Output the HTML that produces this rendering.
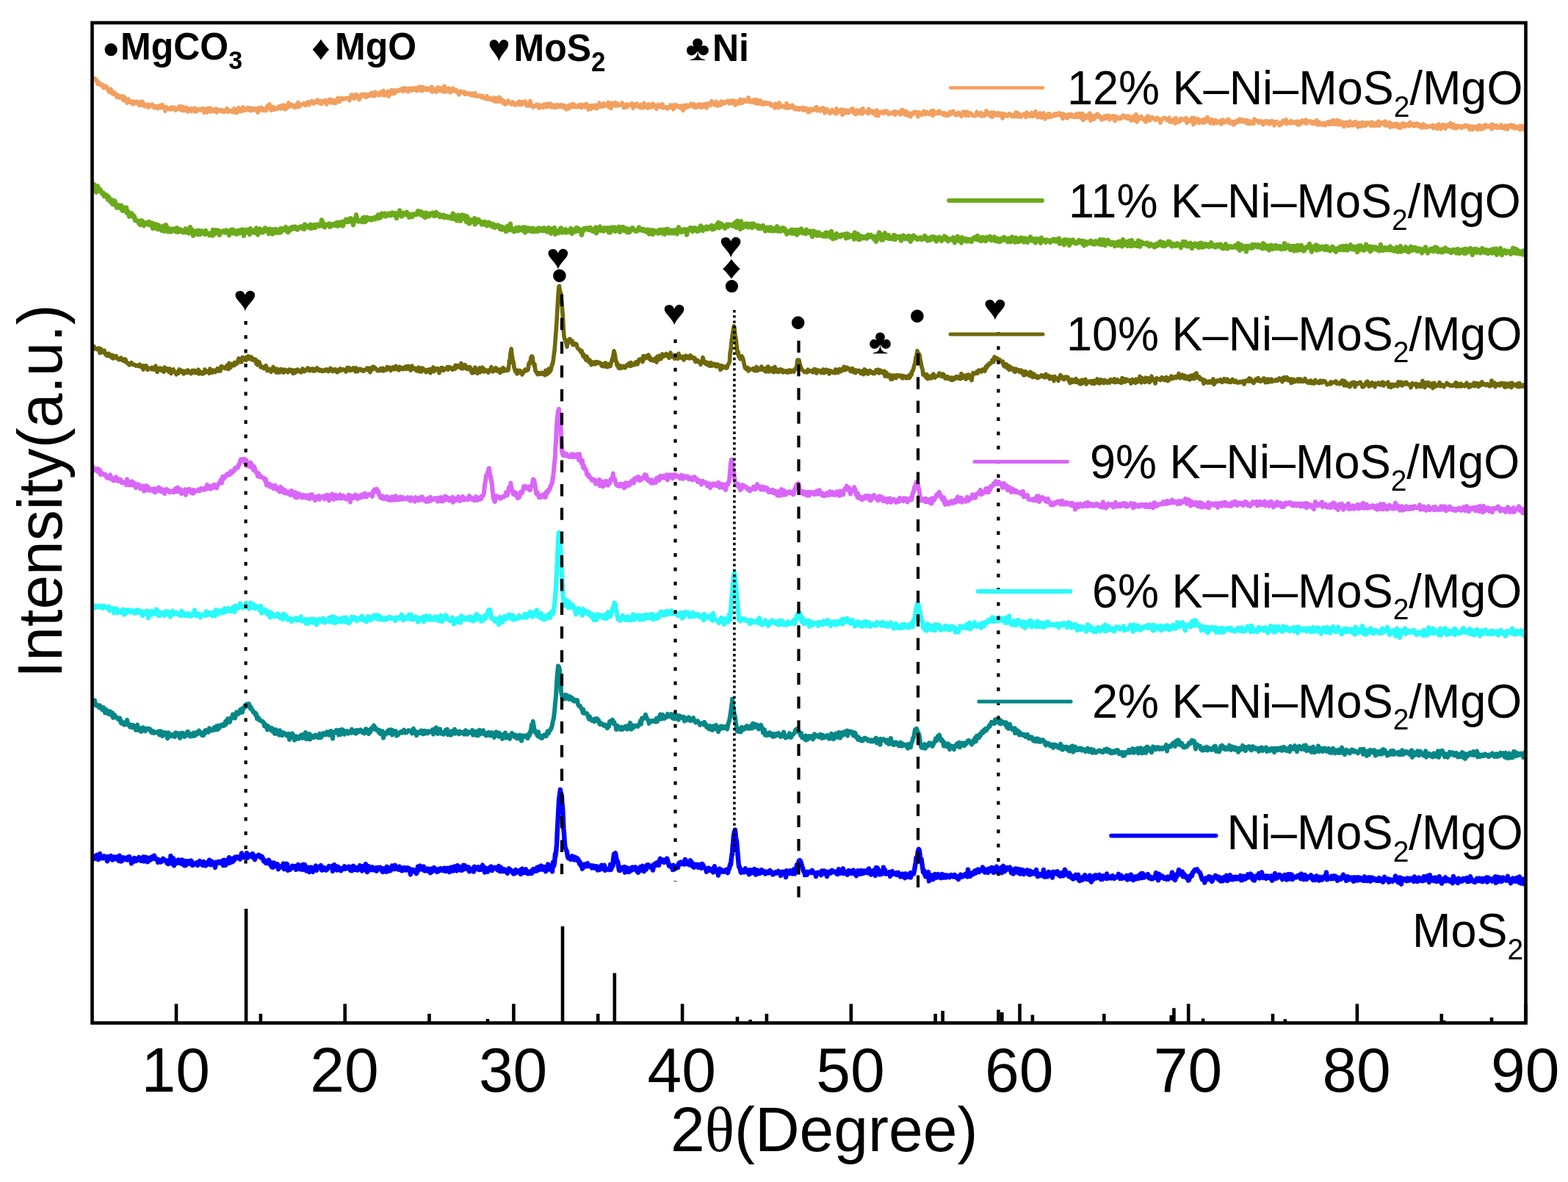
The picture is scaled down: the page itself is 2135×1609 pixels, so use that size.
<!DOCTYPE html><html><head><meta charset="utf-8"><style>html,body{margin:0;padding:0;background:#fff;overflow:hidden}svg{display:block}text{font-family:"Liberation Sans",Arial,sans-serif}</style></head><body>
<svg width="2135" height="1609" viewBox="0 0 2135 1609">
<rect width="2135" height="1609" fill="#fff"/>
<defs><clipPath id="pc"><rect x="127" y="33" width="1949" height="1357"/></clipPath></defs>
<g clip-path="url(#pc)">
<path d="M126.0 106.0 127.0 107.4 128.0 107.1 129.0 106.8 130.0 108.4 131.0 108.2 132.0 111.1 133.0 114.3 134.0 111.6 135.0 112.2 136.0 115.1 137.0 115.7 138.0 116.0 139.0 114.9 140.0 117.5 141.0 119.7 142.0 116.7 143.0 119.2 144.0 117.3 145.0 119.3 146.0 119.1 147.0 122.9 148.0 121.7 149.0 125.4 150.0 125.8 151.0 125.8 151.1 121.4 152.0 125.7 153.0 127.2 154.0 128.0 155.0 125.4 156.0 127.9 157.0 127.4 158.0 128.2 159.0 132.2 160.0 129.1 161.0 131.0 162.0 133.2 163.0 130.8 164.0 132.2 165.0 133.0 165.2 133.0 166.0 130.9 167.0 133.8 168.0 136.7 169.0 131.7 170.0 136.7 171.0 135.7 172.0 134.7 173.0 140.2 174.0 138.2 175.0 134.9 176.0 137.7 177.0 139.0 178.0 137.9 179.0 139.8 179.2 138.5 180.0 140.1 181.0 141.8 182.0 138.1 183.0 140.0 184.0 139.0 185.0 140.3 186.0 138.1 187.0 139.4 188.0 140.4 189.0 142.7 190.0 143.3 191.0 138.9 192.0 140.1 193.0 143.0 194.0 138.2 195.0 141.2 196.0 142.1 197.0 144.9 198.0 144.0 199.0 142.2 200.0 142.3 201.0 142.7 202.0 146.2 203.0 142.7 204.0 143.1 205.0 144.5 206.0 143.8 207.0 143.8 207.3 142.1 208.0 144.3 209.0 143.6 210.0 146.9 211.0 146.1 212.0 144.9 213.0 146.4 214.0 144.7 215.0 147.5 216.0 145.6 217.0 146.9 218.0 143.5 219.0 146.8 220.0 143.1 221.0 142.5 222.0 146.0 223.0 145.0 224.0 147.2 225.0 151.3 226.0 145.5 227.0 146.1 228.0 147.8 229.0 148.4 230.0 147.3 231.0 147.3 232.0 149.1 233.0 148.9 234.0 146.0 235.0 147.9 235.4 148.2 236.0 146.1 237.0 148.7 238.0 146.7 239.0 150.2 240.0 148.8 241.0 148.6 242.0 147.4 243.0 148.4 244.0 144.8 245.0 146.5 246.0 149.4 247.0 144.8 248.0 150.5 249.0 145.6 250.0 150.4 251.0 147.4 252.0 150.5 253.0 149.3 254.0 146.2 255.0 151.5 256.0 151.9 257.0 149.1 258.0 148.8 259.0 149.0 260.0 147.5 261.0 151.5 262.0 148.4 263.0 149.4 263.5 148.0 264.0 148.3 265.0 147.1 266.0 152.0 267.0 149.4 268.0 151.5 269.0 149.8 270.0 148.5 271.0 149.2 272.0 148.8 273.0 150.0 274.0 149.3 275.0 149.5 276.0 147.5 277.0 148.6 278.0 153.3 279.0 148.9 280.0 148.2 281.0 150.9 282.0 153.0 283.0 147.6 284.0 150.0 285.0 149.2 286.0 147.1 287.0 151.9 288.0 150.4 289.0 150.6 290.0 149.1 291.0 151.4 291.6 149.5 292.0 150.2 293.0 148.4 294.0 148.2 295.0 153.0 296.0 149.5 297.0 151.0 298.0 150.4 299.0 149.6 300.0 149.5 301.0 151.6 302.0 149.8 303.0 150.1 304.0 150.4 305.0 152.6 306.0 151.6 307.0 151.1 308.0 149.2 309.0 147.7 310.0 152.1 311.0 152.1 312.0 150.0 313.0 151.3 314.0 151.7 315.0 151.8 316.0 151.9 317.0 149.3 318.0 153.0 319.0 147.7 319.7 151.7 320.0 151.0 321.0 151.7 322.0 153.6 323.0 152.9 324.0 147.9 325.0 146.8 326.0 151.5 327.0 148.1 328.0 149.9 329.0 151.5 330.0 146.8 331.0 145.9 332.0 150.4 333.0 150.0 334.0 149.4 335.0 149.9 336.0 148.2 337.0 146.9 338.0 149.5 339.0 147.9 340.0 146.6 341.0 150.7 342.0 149.6 343.0 150.4 344.0 147.7 345.0 148.3 346.0 147.7 347.0 147.8 347.8 149.9 348.0 148.0 349.0 150.1 350.0 150.1 351.0 153.2 352.0 146.7 353.0 150.9 354.0 149.0 355.0 149.1 356.0 146.3 357.0 148.1 358.0 150.3 359.0 148.6 360.0 148.8 361.0 148.0 362.0 150.7 363.0 148.4 364.0 144.1 365.0 146.9 366.0 144.3 367.0 141.8 368.0 146.9 369.0 150.3 370.0 147.7 371.0 145.3 372.0 145.6 373.0 149.5 374.0 147.5 375.0 147.2 375.9 146.9 376.0 147.1 377.0 148.4 378.0 147.8 379.0 147.1 380.0 144.6 381.0 147.4 382.0 145.0 383.0 148.2 384.0 143.6 385.0 145.7 386.0 145.8 387.0 143.1 388.0 148.8 389.0 148.2 390.0 144.4 391.0 146.6 392.0 145.7 393.0 139.8 394.0 145.1 395.0 144.4 396.0 144.5 397.0 142.2 398.0 143.5 399.0 143.6 400.0 146.0 401.0 144.2 402.0 143.4 403.0 146.2 404.0 142.0 405.0 142.2 406.0 139.3 407.0 145.5 408.0 144.2 409.0 143.9 410.0 143.2 411.0 141.9 412.0 141.9 413.0 140.7 414.0 140.6 415.0 140.9 416.0 143.5 417.0 141.5 418.0 140.2 419.0 139.0 420.0 138.8 421.0 142.9 422.0 140.8 423.0 139.8 424.0 138.9 425.0 137.4 426.0 139.3 427.0 141.0 428.0 138.5 429.0 138.8 430.0 138.7 431.0 139.3 432.0 136.0 433.0 138.5 434.0 137.3 435.0 140.5 436.0 137.3 437.0 139.8 438.0 141.6 439.0 138.0 440.0 137.4 441.0 138.9 442.0 138.4 443.0 136.5 444.0 139.1 445.0 142.0 446.0 137.6 447.0 137.6 448.0 135.9 448.1 138.5 449.0 135.4 450.0 135.6 451.0 140.0 452.0 135.7 453.0 139.3 454.0 140.0 455.0 137.5 456.0 137.9 457.0 140.4 458.0 136.1 459.0 135.2 460.0 133.5 461.0 136.0 462.0 138.6 463.0 137.4 464.0 133.6 465.0 133.5 466.0 134.0 467.0 135.3 468.0 134.2 469.0 134.8 470.0 134.8 471.0 133.5 472.0 133.8 473.0 134.1 474.0 133.4 475.0 134.3 476.0 136.8 476.2 134.3 477.0 133.2 478.0 129.7 479.0 133.5 480.0 128.9 481.0 129.8 482.0 134.0 483.0 133.6 484.0 131.8 485.0 128.7 486.0 131.1 487.0 130.4 488.0 132.7 489.0 135.7 490.0 131.7 491.0 129.6 492.0 128.8 493.0 130.8 494.0 130.4 495.0 128.4 496.0 130.7 497.0 128.2 498.0 132.3 499.0 132.1 500.0 132.0 501.0 128.9 502.0 130.7 503.0 129.3 504.0 128.7 504.3 128.8 505.0 126.8 506.0 126.4 507.0 130.6 508.0 128.6 509.0 129.2 510.0 130.6 511.0 125.3 512.0 126.9 513.0 128.6 514.0 128.9 515.0 127.4 516.0 129.9 517.0 128.2 518.0 125.4 519.0 125.8 520.0 129.0 521.0 128.2 522.0 123.6 523.0 129.7 524.0 128.1 525.0 129.4 526.0 126.0 527.0 126.0 528.0 124.3 529.0 131.2 530.0 125.9 531.0 129.1 532.0 124.7 532.4 126.2 533.0 122.6 534.0 124.9 535.0 127.4 536.0 123.0 537.0 127.2 538.0 125.6 539.0 122.8 540.0 123.6 541.0 123.5 542.0 124.1 543.0 123.0 544.0 122.2 545.0 123.0 546.0 121.5 547.0 120.8 548.0 122.9 549.0 124.5 550.0 119.8 551.0 122.5 552.0 121.1 553.0 120.4 554.0 123.7 555.0 121.0 556.0 124.8 557.0 120.3 558.0 122.5 559.0 121.3 560.0 120.3 560.5 122.8 561.0 121.4 562.0 122.8 563.0 121.6 564.0 119.6 565.0 121.5 566.0 121.8 567.0 123.5 568.0 120.0 569.0 121.6 570.0 118.4 571.0 122.9 572.0 119.6 573.0 118.3 574.0 121.6 575.0 123.8 576.0 118.8 577.0 119.6 578.0 120.3 579.0 119.6 580.0 122.4 581.0 120.2 582.0 120.3 583.0 122.8 584.0 120.3 585.0 122.5 586.0 119.9 587.0 119.4 588.0 118.2 588.6 125.2 589.0 121.1 590.0 122.2 591.0 121.7 592.0 122.0 593.0 121.9 594.0 125.4 595.0 119.9 596.0 118.9 597.0 120.0 598.0 119.5 599.0 123.5 600.0 123.7 601.0 120.4 602.0 119.7 603.0 121.7 604.0 125.1 605.0 117.2 606.0 123.7 607.0 120.7 608.0 124.8 609.0 120.9 610.0 122.5 611.0 120.3 612.0 121.4 613.0 126.0 614.0 125.1 615.0 122.8 616.0 122.1 616.7 120.2 617.0 123.1 618.0 123.9 619.0 123.9 620.0 124.1 621.0 122.3 622.0 124.5 623.0 124.7 624.0 127.5 625.0 128.8 626.0 125.2 627.0 124.2 628.0 125.8 629.0 125.0 630.0 125.0 631.0 126.6 632.0 124.9 633.0 128.3 634.0 127.2 635.0 128.2 636.0 127.6 637.0 126.8 638.0 126.7 639.0 128.3 640.0 127.9 641.0 129.7 642.0 129.5 643.0 127.1 644.0 130.1 644.8 127.5 645.0 129.0 646.0 129.8 647.0 126.6 648.0 130.9 649.0 131.3 650.0 130.9 651.0 130.6 652.0 130.9 653.0 129.9 654.0 131.5 655.0 131.2 656.0 132.6 657.0 130.3 658.0 133.3 659.0 133.3 660.0 132.9 661.0 132.6 662.0 134.7 663.0 130.6 664.0 134.9 665.0 134.7 666.0 134.9 667.0 135.3 668.0 133.5 669.0 134.5 670.0 136.4 671.0 136.2 672.0 135.9 672.9 132.8 673.0 136.7 674.0 138.1 675.0 138.0 676.0 136.7 677.0 133.5 678.0 138.5 679.0 136.6 680.0 132.3 681.0 138.0 682.0 134.6 683.0 135.2 684.0 136.7 685.0 140.5 686.0 137.5 687.0 139.0 688.0 142.0 689.0 141.8 690.0 138.8 691.0 138.7 692.0 137.0 693.0 138.2 694.0 140.5 695.0 140.6 696.0 140.2 697.0 142.1 698.0 138.8 699.0 140.3 700.0 142.0 701.0 141.8 702.0 142.9 703.0 141.7 704.0 140.5 705.0 141.9 706.0 139.4 707.0 138.3 708.0 142.6 709.0 141.5 710.0 142.3 711.0 138.6 712.0 141.2 713.0 140.8 714.0 140.4 715.0 137.9 716.0 141.6 717.0 144.0 718.0 143.1 719.0 141.3 720.0 142.5 721.0 144.0 722.0 137.4 723.0 142.4 724.0 143.8 725.0 144.1 726.0 146.1 727.0 145.1 728.0 143.5 729.0 143.6 730.0 144.6 731.0 142.1 732.0 143.1 733.0 145.0 734.0 147.0 735.0 143.0 736.0 143.3 737.0 143.8 738.0 146.0 739.0 143.5 740.0 146.4 741.0 141.8 742.0 143.3 743.0 143.4 744.0 145.3 745.0 145.8 746.0 141.0 747.0 142.2 748.0 144.6 749.0 142.7 750.0 141.1 751.0 146.0 752.0 145.0 753.0 145.1 754.0 143.3 755.0 146.2 756.0 143.8 757.0 146.4 758.0 142.6 759.0 142.7 760.0 144.8 761.0 143.1 762.0 145.7 763.0 144.9 764.0 142.7 765.0 144.6 766.0 143.8 767.0 146.3 768.0 143.3 769.0 143.7 770.0 146.9 771.0 148.8 772.0 148.4 773.0 144.7 774.0 145.0 775.0 147.5 776.0 144.4 776.2 142.7 777.0 144.8 778.0 145.5 779.0 143.0 780.0 141.5 781.0 141.9 782.0 145.8 783.0 143.1 784.0 144.3 785.0 145.0 786.0 145.7 787.0 143.9 788.0 145.5 789.0 142.8 790.0 143.8 791.0 142.5 792.0 146.6 793.0 144.4 794.0 143.0 795.0 143.8 796.0 144.0 797.0 145.7 798.0 141.3 799.0 142.4 800.0 143.6 801.0 149.1 802.0 146.1 803.0 144.1 804.0 145.6 805.0 148.1 806.0 143.8 807.0 143.5 808.0 146.5 809.0 145.1 810.0 145.4 811.0 143.1 812.0 147.7 813.0 147.3 814.0 145.1 815.0 145.3 816.0 140.1 817.0 145.2 818.0 143.6 819.0 144.7 820.0 145.2 821.0 143.2 822.0 140.6 823.0 144.5 824.0 142.4 825.0 143.1 826.0 142.6 827.0 143.1 828.0 139.3 829.0 146.0 830.0 144.1 831.0 145.7 832.0 147.4 832.4 143.6 833.0 140.2 834.0 141.9 835.0 141.2 836.0 142.6 837.0 143.6 838.0 139.6 839.0 144.1 840.0 140.5 841.0 143.9 842.0 143.1 843.0 142.7 844.0 143.1 845.0 142.2 846.0 142.0 847.0 140.0 848.0 143.1 849.0 146.6 850.0 146.8 851.0 145.6 852.0 144.4 853.0 141.7 854.0 145.7 855.0 142.8 856.0 142.8 857.0 142.4 858.0 143.1 859.0 142.1 860.0 142.7 860.5 140.8 861.0 142.2 862.0 147.2 863.0 142.8 864.0 142.5 865.0 144.0 866.0 144.4 867.0 141.0 868.0 142.8 869.0 145.0 870.0 143.9 871.0 143.7 872.0 146.5 873.0 142.4 874.0 143.9 875.0 142.9 876.0 146.8 877.0 140.4 878.0 142.9 879.0 143.3 880.0 145.6 881.0 145.6 882.0 147.2 883.0 141.7 884.0 146.2 885.0 144.2 886.0 143.6 887.0 146.0 888.0 143.2 888.6 141.1 889.0 144.3 890.0 142.2 891.0 143.9 892.0 145.8 893.0 145.8 894.0 148.2 895.0 144.9 896.0 142.4 897.0 143.9 898.0 143.6 899.0 143.1 900.0 146.2 901.0 144.2 902.0 141.7 903.0 146.8 904.0 145.3 905.0 146.2 906.0 145.8 907.0 146.8 908.0 145.7 909.0 148.0 910.0 146.5 911.0 146.4 912.0 146.5 913.0 142.9 914.0 145.4 915.0 145.2 916.0 146.1 916.7 143.1 917.0 148.8 918.0 145.9 919.0 143.4 920.0 142.4 921.0 145.1 922.0 145.5 923.0 144.3 924.0 145.8 925.0 144.4 926.0 146.7 927.0 144.2 928.0 145.5 929.0 147.4 930.0 150.4 931.0 143.6 932.0 144.6 933.0 143.8 934.0 146.9 935.0 143.2 936.0 144.4 937.0 145.3 938.0 143.4 939.0 143.4 940.0 144.3 941.0 141.2 942.0 142.4 943.0 144.3 944.0 145.3 944.8 144.6 945.0 141.6 946.0 144.1 947.0 146.4 948.0 145.8 949.0 144.5 950.0 142.8 951.0 145.6 952.0 143.1 953.0 141.8 954.0 142.3 955.0 146.4 956.0 143.9 957.0 145.5 958.0 142.1 959.0 144.6 960.0 141.5 961.0 142.1 962.0 146.9 963.0 143.4 964.0 140.8 965.0 141.4 966.0 142.0 967.0 143.5 968.0 140.1 969.0 137.6 970.0 140.2 971.0 140.6 972.0 140.7 972.9 142.9 973.0 141.0 974.0 141.9 975.0 138.1 976.0 141.8 977.0 144.1 978.0 141.5 979.0 140.4 980.0 140.2 981.0 143.2 982.0 138.0 983.0 139.5 984.0 140.5 985.0 141.0 986.0 138.7 987.0 140.1 988.0 139.0 989.0 139.7 990.0 139.1 991.0 137.2 992.0 139.2 993.0 140.9 994.0 137.3 995.0 138.7 996.0 140.3 997.0 137.0 998.0 139.3 999.0 136.8 1000.0 140.9 1001.0 143.1 1002.0 142.4 1003.0 138.1 1004.0 139.8 1005.0 138.4 1006.0 138.3 1007.0 140.8 1008.0 135.2 1009.0 139.6 1010.0 137.3 1011.0 140.0 1012.0 137.5 1013.0 135.8 1014.0 137.5 1015.0 138.3 1016.0 136.9 1017.0 137.7 1018.0 135.8 1019.0 132.8 1020.0 138.6 1021.0 138.3 1022.0 137.3 1023.0 137.3 1024.0 139.3 1025.0 136.6 1026.0 136.2 1027.0 137.4 1028.0 140.2 1029.0 135.5 1030.0 140.6 1031.0 137.3 1032.0 136.6 1033.0 141.3 1034.0 138.9 1035.0 136.8 1036.0 138.8 1037.0 141.5 1038.0 142.2 1039.0 139.3 1040.0 141.1 1041.0 141.8 1042.0 139.4 1043.0 141.5 1043.1 140.7 1044.0 139.9 1045.0 140.2 1046.0 141.4 1047.0 141.4 1048.0 140.5 1049.0 140.9 1050.0 144.0 1051.0 142.4 1052.0 143.8 1053.0 144.6 1054.0 143.6 1055.0 146.9 1056.0 141.2 1057.0 144.4 1058.0 142.5 1059.0 146.7 1060.0 146.6 1061.0 139.8 1062.0 141.8 1063.0 145.1 1064.0 145.5 1065.0 145.5 1066.0 144.1 1067.0 145.3 1068.0 145.8 1069.0 144.5 1070.0 146.8 1071.0 140.7 1071.2 146.2 1072.0 143.1 1073.0 147.1 1074.0 145.0 1075.0 143.9 1076.0 146.4 1077.0 144.1 1078.0 144.3 1079.0 143.2 1080.0 146.2 1081.0 147.4 1082.0 148.5 1083.0 146.4 1084.0 148.9 1085.0 147.0 1086.0 147.0 1087.0 148.4 1088.0 149.4 1089.0 146.9 1090.0 147.2 1091.0 147.5 1092.0 148.1 1093.0 146.4 1094.0 150.2 1095.0 147.6 1096.0 149.3 1097.0 147.0 1098.0 149.3 1099.0 149.5 1099.3 148.0 1100.0 152.7 1101.0 149.7 1102.0 152.5 1103.0 151.0 1104.0 148.0 1105.0 148.7 1106.0 150.3 1107.0 149.7 1108.0 149.8 1109.0 149.2 1110.0 146.4 1111.0 149.5 1112.0 145.8 1113.0 150.8 1114.0 148.8 1115.0 148.9 1116.0 150.0 1117.0 151.0 1118.0 147.8 1119.0 147.3 1120.0 148.7 1121.0 146.9 1122.0 149.0 1123.0 153.9 1124.0 148.9 1125.0 152.2 1126.0 148.4 1127.0 151.7 1127.4 150.5 1128.0 151.0 1129.0 152.2 1130.0 154.5 1131.0 151.6 1132.0 151.5 1133.0 149.5 1134.0 152.5 1135.0 150.9 1136.0 153.0 1137.0 151.4 1138.0 154.8 1139.0 147.7 1140.0 151.0 1141.0 153.2 1142.0 150.9 1143.0 150.1 1144.0 151.1 1145.0 149.0 1146.0 151.9 1147.0 156.3 1148.0 153.9 1149.0 149.6 1150.0 150.1 1151.0 151.0 1152.0 153.7 1153.0 150.3 1154.0 150.6 1155.0 153.6 1156.0 153.5 1157.0 151.2 1158.0 149.8 1159.0 149.0 1160.0 150.7 1161.0 147.8 1162.0 153.4 1163.0 150.8 1164.0 153.0 1165.0 155.6 1166.0 154.3 1167.0 149.9 1168.0 153.8 1169.0 154.4 1170.0 150.8 1171.0 150.4 1172.0 152.0 1173.0 149.2 1174.0 155.1 1175.0 147.7 1176.0 150.2 1177.0 151.8 1178.0 151.9 1179.0 152.7 1180.0 152.9 1181.0 152.0 1182.0 154.6 1183.0 148.4 1183.6 152.5 1184.0 151.2 1185.0 152.8 1186.0 153.0 1187.0 150.9 1188.0 151.4 1189.0 154.2 1190.0 153.4 1191.0 151.4 1192.0 156.6 1193.0 157.2 1194.0 150.0 1195.0 153.4 1196.0 157.7 1197.0 154.4 1198.0 153.4 1199.0 152.6 1200.0 152.0 1201.0 152.7 1202.0 152.0 1203.0 154.5 1204.0 152.4 1205.0 152.4 1206.0 150.9 1207.0 153.2 1208.0 151.6 1209.0 153.0 1210.0 155.4 1211.0 154.1 1212.0 154.4 1213.0 154.2 1214.0 153.6 1215.0 153.3 1216.0 153.0 1217.0 155.1 1218.0 151.6 1219.0 156.2 1220.0 153.8 1221.0 152.3 1222.0 152.8 1223.0 152.5 1224.0 154.1 1225.0 152.5 1226.0 156.1 1227.0 152.4 1228.0 149.6 1229.0 152.6 1230.0 150.2 1231.0 153.9 1232.0 156.1 1233.0 155.3 1234.0 151.6 1235.0 152.7 1236.0 157.5 1237.0 154.8 1238.0 154.2 1239.0 156.2 1239.8 158.9 1240.0 156.7 1241.0 154.5 1242.0 154.9 1243.0 155.4 1244.0 153.1 1245.0 152.3 1246.0 154.4 1247.0 152.5 1248.0 154.2 1249.0 154.5 1250.0 158.8 1251.0 152.7 1252.0 154.1 1253.0 154.1 1254.0 155.2 1255.0 156.4 1256.0 153.5 1257.0 152.9 1258.0 151.3 1259.0 152.7 1260.0 155.5 1261.0 154.5 1262.0 152.5 1263.0 153.8 1264.0 154.5 1265.0 155.4 1266.0 153.4 1267.0 154.0 1268.0 151.1 1269.0 152.3 1270.0 157.6 1271.0 150.4 1272.0 153.9 1273.0 155.0 1274.0 153.9 1275.0 153.0 1276.0 154.5 1277.0 154.6 1278.0 154.4 1279.0 151.0 1280.0 154.3 1281.0 153.0 1282.0 153.6 1283.0 155.1 1284.0 155.9 1285.0 156.4 1286.0 153.7 1287.0 156.4 1288.0 156.9 1289.0 156.9 1290.0 157.4 1291.0 154.4 1292.0 154.4 1293.0 156.3 1294.0 152.2 1295.0 155.2 1296.0 153.8 1297.0 154.1 1298.0 151.5 1299.0 153.1 1300.0 154.8 1301.0 156.5 1302.0 156.7 1303.0 154.7 1304.0 154.5 1305.0 153.3 1306.0 155.7 1307.0 154.4 1308.0 156.1 1309.0 158.3 1310.0 154.9 1311.0 152.1 1312.0 153.3 1313.0 152.2 1314.0 152.7 1315.0 157.5 1316.0 155.4 1317.0 152.1 1318.0 156.3 1319.0 157.4 1320.0 154.4 1321.0 153.8 1322.0 154.5 1323.0 155.6 1324.0 156.3 1325.0 157.4 1326.0 157.4 1327.0 157.4 1328.0 157.8 1329.0 156.4 1330.0 152.3 1331.0 155.0 1332.0 155.8 1333.0 154.5 1334.0 157.0 1335.0 154.6 1336.0 153.5 1337.0 158.0 1338.0 156.6 1339.0 155.7 1340.0 157.1 1341.0 157.4 1342.0 156.0 1343.0 150.7 1344.0 154.1 1345.0 154.5 1346.0 153.5 1347.0 155.8 1348.0 157.7 1349.0 154.5 1350.0 153.3 1351.0 159.3 1352.0 154.6 1353.0 153.2 1354.0 156.0 1355.0 156.3 1356.0 154.2 1357.0 157.1 1358.0 154.7 1359.0 153.8 1360.0 156.0 1361.0 157.1 1362.0 154.4 1363.0 156.3 1364.0 155.5 1365.0 161.1 1366.0 154.4 1367.0 158.4 1368.0 155.6 1369.0 155.5 1370.0 157.1 1371.0 157.5 1372.0 158.2 1373.0 156.4 1374.0 154.7 1375.0 154.8 1376.0 156.8 1377.0 157.0 1378.0 158.6 1379.0 156.7 1380.0 158.0 1381.0 158.8 1382.0 156.3 1383.0 153.2 1384.0 153.8 1385.0 153.3 1386.0 159.1 1387.0 154.5 1388.0 158.4 1389.0 157.2 1390.0 159.4 1391.0 158.1 1392.0 156.0 1393.0 155.8 1393.7 156.4 1394.0 156.5 1395.0 155.2 1396.0 156.2 1397.0 159.3 1398.0 153.1 1399.0 156.8 1400.0 154.6 1401.0 156.7 1402.0 158.0 1403.0 156.3 1404.0 157.9 1405.0 153.4 1406.0 158.6 1407.0 155.3 1408.0 157.7 1409.0 156.9 1410.0 151.7 1411.0 155.2 1412.0 157.0 1413.0 159.6 1414.0 157.2 1415.0 157.2 1416.0 154.0 1417.0 159.5 1418.0 160.2 1419.0 156.9 1420.0 156.4 1421.0 153.8 1422.0 158.6 1423.0 162.1 1424.0 158.3 1425.0 159.4 1426.0 158.0 1427.0 155.2 1428.0 159.6 1429.0 154.8 1430.0 156.7 1431.0 157.7 1432.0 158.9 1433.0 158.0 1434.0 158.0 1435.0 155.8 1436.0 154.9 1437.0 157.5 1438.0 156.0 1439.0 154.9 1440.0 155.0 1441.0 156.5 1442.0 154.0 1443.0 155.0 1444.0 154.5 1445.0 157.9 1446.0 158.4 1447.0 161.5 1448.0 154.9 1449.0 156.4 1450.0 159.5 1451.0 157.4 1452.0 157.2 1453.0 161.1 1454.0 157.3 1455.0 155.7 1456.0 155.5 1457.0 158.6 1458.0 158.6 1459.0 155.5 1460.0 156.2 1461.0 159.1 1462.0 159.3 1463.0 157.0 1464.0 159.4 1465.0 159.3 1466.0 154.9 1467.0 157.7 1468.0 159.2 1469.0 157.3 1470.0 154.4 1471.0 157.9 1472.0 159.9 1473.0 161.5 1474.0 154.4 1475.0 163.6 1476.0 156.5 1477.0 160.5 1478.0 161.0 1479.0 160.6 1480.0 159.0 1481.0 156.6 1482.0 160.0 1483.0 157.5 1484.0 154.1 1485.0 164.3 1486.0 160.3 1487.0 162.4 1487.4 157.3 1488.0 161.8 1489.0 162.1 1490.0 162.0 1491.0 159.1 1492.0 156.9 1493.0 158.8 1494.0 155.0 1495.0 156.0 1496.0 159.5 1497.0 157.4 1498.0 159.0 1499.0 159.2 1500.0 163.1 1501.0 161.9 1502.0 159.4 1503.0 161.8 1504.0 158.1 1505.0 158.9 1506.0 161.3 1507.0 157.3 1508.0 159.1 1509.0 157.2 1510.0 160.0 1511.0 162.9 1512.0 158.4 1513.0 160.3 1514.0 158.2 1515.0 157.7 1516.0 157.6 1517.0 162.7 1518.0 164.5 1519.0 161.0 1520.0 158.7 1521.0 161.5 1522.0 159.5 1523.0 161.7 1524.0 160.8 1525.0 160.8 1526.0 161.4 1527.0 159.2 1528.0 159.6 1529.0 157.1 1530.0 159.6 1531.0 157.8 1532.0 160.2 1533.0 158.7 1534.0 160.8 1535.0 161.5 1536.0 157.9 1537.0 159.1 1538.0 158.9 1539.0 162.2 1540.0 164.0 1541.0 162.4 1542.0 160.2 1543.0 163.7 1544.0 158.0 1545.0 163.8 1546.0 159.7 1547.0 155.7 1548.0 166.1 1549.0 164.1 1550.0 159.2 1551.0 161.5 1552.0 160.8 1553.0 161.4 1554.0 158.4 1555.0 160.0 1556.0 162.2 1557.0 161.8 1558.0 163.7 1559.0 161.6 1560.0 165.9 1561.0 160.1 1562.0 162.0 1563.0 157.9 1564.0 159.2 1565.0 164.2 1566.0 159.9 1567.0 162.7 1568.0 161.6 1569.0 159.8 1570.0 161.2 1571.0 160.9 1572.0 161.0 1573.0 163.4 1574.0 163.2 1575.0 160.9 1576.0 160.3 1577.0 162.6 1578.0 161.9 1579.0 164.1 1580.0 167.2 1581.0 163.8 1582.0 162.2 1583.0 161.9 1584.0 160.7 1585.0 160.6 1586.0 160.5 1587.0 161.7 1588.0 161.6 1589.0 163.9 1590.0 161.8 1591.0 162.2 1592.0 160.3 1593.0 165.8 1594.0 163.6 1595.0 166.1 1596.0 164.3 1597.0 165.6 1598.0 162.3 1599.0 164.2 1600.0 168.0 1601.0 160.6 1602.0 165.2 1603.0 166.2 1604.0 163.9 1605.0 164.5 1606.0 165.6 1607.0 161.9 1608.0 164.0 1609.0 161.6 1610.0 162.0 1611.0 162.1 1612.0 163.1 1613.0 163.7 1614.0 164.3 1615.0 160.7 1616.0 167.4 1617.0 165.8 1618.0 165.0 1619.0 163.0 1620.0 163.5 1621.0 164.8 1622.0 164.6 1623.0 160.5 1624.0 165.3 1625.0 169.6 1626.0 160.3 1627.0 165.9 1628.0 164.7 1629.0 163.8 1630.0 166.8 1631.0 161.8 1632.0 164.5 1633.0 167.1 1634.0 163.9 1635.0 163.5 1636.0 164.5 1637.0 163.5 1638.0 167.4 1639.0 162.7 1640.0 166.2 1641.0 162.1 1642.0 165.9 1643.0 164.4 1644.0 159.6 1645.0 164.6 1646.0 162.6 1647.0 163.9 1648.0 167.8 1649.0 162.6 1650.0 162.8 1651.0 167.7 1652.0 165.1 1653.0 168.0 1654.0 165.6 1655.0 163.3 1656.0 164.9 1657.0 167.5 1658.0 167.0 1659.0 165.2 1660.0 165.3 1661.0 165.0 1662.0 164.1 1663.0 169.1 1664.0 165.3 1665.0 163.1 1666.0 164.4 1667.0 166.8 1668.0 166.7 1669.0 165.2 1670.0 164.2 1671.0 165.6 1672.0 162.3 1673.0 163.0 1674.0 167.2 1675.0 164.7 1676.0 166.4 1677.0 168.1 1678.0 167.0 1679.0 165.8 1680.0 169.9 1681.0 167.1 1682.0 165.1 1683.0 167.3 1684.0 166.7 1685.0 164.2 1686.0 166.1 1687.0 165.6 1688.0 162.1 1689.0 165.6 1690.0 165.4 1691.0 165.2 1692.0 162.8 1693.0 165.4 1694.0 166.0 1695.0 166.3 1696.0 163.9 1697.0 167.4 1698.0 163.8 1699.0 165.7 1700.0 168.7 1701.0 164.8 1702.0 165.2 1703.0 168.3 1704.0 165.5 1705.0 165.7 1706.0 166.7 1707.0 168.3 1708.0 162.0 1709.0 164.7 1710.0 164.4 1711.0 164.2 1712.0 164.7 1713.0 164.8 1714.0 167.0 1715.0 164.7 1716.0 166.7 1717.0 167.2 1718.0 165.0 1719.0 166.7 1720.0 169.7 1721.0 167.1 1722.0 165.3 1723.0 166.4 1724.0 164.8 1725.0 167.1 1726.0 168.2 1727.0 165.0 1728.0 166.2 1729.0 168.8 1730.0 165.6 1731.0 167.0 1732.0 164.7 1733.0 165.1 1734.0 165.7 1735.0 170.8 1736.0 165.9 1737.0 165.7 1738.0 165.6 1739.0 166.4 1740.0 168.0 1741.0 167.1 1742.0 170.7 1743.0 167.2 1744.0 169.5 1745.0 167.3 1746.0 168.0 1747.0 164.1 1748.0 166.6 1749.0 166.7 1750.0 166.4 1751.0 162.8 1752.0 168.6 1753.0 166.2 1754.0 166.1 1755.0 166.4 1756.0 166.5 1757.0 167.7 1758.0 164.6 1759.0 165.2 1760.0 167.5 1761.0 167.3 1762.0 166.3 1763.0 165.9 1764.0 165.5 1765.0 167.0 1766.0 169.3 1767.0 165.1 1768.0 170.0 1769.0 168.7 1770.0 166.3 1771.0 168.6 1772.0 164.4 1773.0 163.9 1773.7 164.7 1774.0 166.4 1775.0 166.6 1776.0 166.3 1777.0 167.4 1778.0 163.2 1779.0 168.2 1780.0 164.6 1781.0 166.1 1782.0 166.6 1783.0 165.2 1784.0 164.8 1785.0 165.5 1786.0 167.4 1787.0 168.5 1788.0 168.5 1789.0 165.6 1790.0 166.0 1791.0 165.7 1792.0 168.4 1793.0 163.7 1794.0 169.9 1795.0 166.6 1796.0 166.1 1797.0 168.2 1798.0 169.6 1799.0 168.3 1800.0 169.7 1801.0 167.9 1802.0 170.0 1803.0 170.1 1804.0 167.5 1805.0 170.5 1806.0 168.1 1807.0 167.9 1808.0 166.0 1809.0 167.3 1810.0 169.3 1811.0 165.4 1812.0 169.1 1813.0 168.5 1814.0 168.4 1815.0 163.7 1816.0 167.7 1817.0 169.2 1818.0 166.5 1819.0 168.2 1820.0 163.5 1821.0 169.3 1822.0 166.8 1823.0 169.7 1824.0 164.6 1825.0 169.4 1826.0 167.7 1827.0 169.7 1828.0 166.4 1829.0 167.0 1830.0 172.5 1831.0 166.7 1832.0 166.9 1833.0 167.7 1834.0 166.4 1835.0 170.6 1836.0 171.6 1837.0 167.0 1838.0 165.1 1839.0 170.6 1840.0 170.5 1841.0 170.0 1842.0 170.7 1843.0 166.8 1844.0 168.2 1845.0 165.9 1846.0 165.8 1847.0 170.4 1848.0 167.3 1849.0 172.9 1850.0 168.8 1851.0 167.4 1852.0 170.2 1853.0 172.1 1854.0 169.6 1855.0 166.4 1856.0 169.5 1857.0 171.4 1858.0 167.9 1859.0 167.3 1860.0 170.8 1861.0 169.1 1862.0 166.8 1863.0 168.2 1864.0 167.5 1865.0 169.5 1866.0 169.2 1867.0 171.2 1867.4 170.3 1868.0 166.0 1869.0 169.8 1870.0 170.8 1871.0 169.9 1872.0 171.1 1873.0 168.1 1874.0 167.3 1875.0 170.9 1876.0 167.2 1877.0 165.1 1878.0 171.2 1879.0 167.9 1880.0 168.7 1881.0 166.7 1882.0 166.8 1883.0 167.2 1884.0 168.7 1885.0 170.1 1886.0 165.1 1887.0 170.9 1888.0 167.3 1889.0 167.5 1890.0 170.9 1891.0 169.5 1892.0 166.7 1893.0 173.2 1894.0 168.1 1895.0 170.2 1896.0 170.1 1897.0 172.5 1898.0 168.9 1899.0 171.7 1900.0 168.5 1901.0 172.0 1902.0 168.5 1903.0 169.3 1904.0 173.6 1905.0 170.6 1906.0 170.2 1907.0 174.3 1908.0 170.8 1909.0 168.6 1910.0 171.6 1911.0 167.9 1912.0 172.4 1913.0 172.5 1914.0 169.2 1915.0 169.1 1916.0 170.7 1917.0 170.4 1918.0 168.5 1919.0 171.5 1920.0 166.6 1921.0 169.7 1922.0 169.7 1923.0 170.0 1924.0 171.2 1925.0 168.3 1926.0 171.7 1927.0 170.3 1928.0 169.4 1929.0 168.1 1930.0 168.5 1931.0 171.5 1932.0 169.0 1933.0 170.9 1934.0 172.9 1935.0 172.8 1936.0 173.9 1937.0 170.4 1938.0 168.9 1939.0 172.9 1940.0 171.6 1941.0 173.2 1942.0 171.1 1943.0 173.4 1944.0 172.7 1945.0 172.5 1946.0 172.1 1947.0 171.9 1948.0 171.7 1949.0 171.7 1950.0 173.1 1951.0 170.3 1952.0 174.6 1953.0 171.1 1954.0 173.2 1955.0 171.2 1956.0 170.9 1957.0 175.3 1958.0 170.9 1959.0 169.0 1960.0 170.1 1961.0 170.9 1962.0 175.6 1963.0 171.9 1964.0 173.3 1965.0 169.7 1966.0 172.3 1967.0 172.9 1968.0 175.1 1969.0 170.3 1970.0 172.8 1971.0 172.3 1972.0 169.8 1973.0 171.7 1974.0 171.3 1975.0 167.4 1976.0 172.9 1977.0 172.8 1978.0 171.0 1979.0 169.3 1980.0 174.7 1981.0 172.4 1982.0 173.8 1983.0 174.6 1984.0 171.0 1985.0 173.5 1986.0 171.5 1987.0 171.9 1988.0 171.9 1989.0 172.0 1990.0 174.2 1991.0 172.3 1992.0 171.8 1993.0 171.6 1994.0 172.8 1995.0 170.4 1996.0 171.2 1997.0 172.1 1998.0 171.1 1999.0 172.0 2000.0 171.1 2001.0 176.1 2002.0 174.8 2003.0 173.1 2004.0 172.2 2005.0 176.5 2006.0 173.0 2007.0 172.2 2008.0 172.9 2009.0 173.0 2010.0 175.1 2011.0 172.4 2012.0 176.4 2013.0 170.8 2014.0 173.8 2015.0 170.6 2016.0 176.0 2017.0 171.9 2018.0 172.4 2019.0 174.3 2020.0 175.0 2021.0 170.5 2022.0 171.9 2023.0 170.0 2024.0 172.9 2025.0 172.5 2026.0 172.0 2027.0 171.4 2028.0 172.0 2029.0 171.3 2030.0 173.7 2031.0 175.6 2032.0 169.1 2033.0 172.5 2034.0 172.0 2035.0 173.7 2036.0 171.0 2037.0 172.5 2038.0 170.9 2039.0 174.2 2040.0 173.1 2041.0 172.6 2042.0 173.6 2043.0 172.4 2044.0 170.0 2045.0 174.1 2046.0 173.5 2047.0 172.7 2048.0 174.8 2049.0 175.3 2050.0 170.9 2051.0 171.5 2052.0 176.0 2053.0 175.7 2054.0 171.6 2055.0 170.8 2056.0 171.9 2057.0 172.1 2058.0 170.1 2059.0 173.2 2060.0 170.7 2061.0 170.8 2062.0 174.9 2063.0 171.9 2064.0 173.0 2065.0 174.4 2066.0 174.7 2067.0 172.6 2068.0 173.3 2069.0 171.7 2070.0 176.6 2071.0 174.5 2072.0 171.2 2073.0 173.3 2074.0 174.6 2075.0 174.2 2076.0 176.8 2077.0 175.9" fill="none" stroke="#F2A060" stroke-width="5.6" stroke-linejoin="round" stroke-linecap="round"/>
<path d="M126.0 250.9 127.0 252.6 128.0 250.9 129.0 254.9 130.0 255.6 131.0 261.7 132.0 257.1 133.0 253.3 134.0 257.1 135.0 259.6 136.0 257.6 137.0 259.3 138.0 261.2 139.0 263.6 140.0 263.4 141.0 262.8 142.0 267.3 143.0 265.5 144.0 266.5 145.0 265.6 146.0 267.7 147.0 271.7 148.0 267.8 149.0 271.9 150.0 274.4 151.0 272.8 151.1 274.2 152.0 272.0 153.0 277.8 154.0 278.1 155.0 276.9 156.0 273.4 157.0 275.5 158.0 280.4 159.0 282.6 160.0 280.2 161.0 282.8 162.0 279.5 163.0 281.1 164.0 282.1 165.0 283.7 165.2 279.7 166.0 285.4 167.0 286.9 168.0 282.4 169.0 282.6 170.0 286.9 171.0 285.5 172.0 282.6 173.0 290.0 174.0 289.3 175.0 288.7 176.0 294.8 177.0 291.4 178.0 290.3 179.0 292.8 179.2 290.5 180.0 291.7 181.0 294.9 182.0 293.7 183.0 294.8 184.0 300.1 185.0 299.3 186.0 300.0 187.0 300.3 188.0 301.0 189.0 303.8 190.0 301.4 191.0 306.0 192.0 300.6 193.0 302.5 193.3 300.3 194.0 302.7 195.0 304.9 196.0 307.2 197.0 303.0 198.0 304.7 199.0 304.2 200.0 303.6 201.0 302.9 202.0 305.7 203.0 302.1 204.0 306.2 205.0 306.2 206.0 305.0 207.0 304.5 207.3 303.8 208.0 310.8 209.0 304.3 210.0 310.6 211.0 308.8 212.0 307.0 213.0 305.6 214.0 310.4 215.0 312.1 216.0 306.7 217.0 308.3 218.0 311.3 219.0 310.0 220.0 313.8 221.0 308.6 222.0 311.1 223.0 307.6 224.0 314.8 225.0 309.1 226.0 306.2 227.0 310.7 228.0 310.9 229.0 315.4 230.0 310.8 231.0 311.7 232.0 313.1 233.0 315.4 234.0 312.1 235.0 314.5 235.4 313.5 236.0 311.9 237.0 312.8 238.0 312.8 239.0 311.0 240.0 315.6 241.0 310.3 242.0 315.8 243.0 315.4 244.0 313.4 245.0 312.1 246.0 313.3 247.0 314.9 248.0 315.6 249.0 314.8 250.0 316.3 251.0 313.2 252.0 315.0 253.0 311.3 254.0 316.3 255.0 315.1 256.0 314.0 257.0 317.4 258.0 316.5 259.0 309.2 260.0 315.3 261.0 312.3 262.0 317.6 263.0 320.7 263.5 314.4 264.0 315.7 265.0 315.1 266.0 316.4 267.0 317.1 268.0 318.5 269.0 313.8 270.0 319.3 271.0 314.1 272.0 316.7 273.0 318.6 274.0 317.8 275.0 314.4 276.0 314.9 277.0 315.5 278.0 316.4 279.0 319.0 280.0 313.9 281.0 317.7 282.0 318.0 283.0 318.0 284.0 317.8 285.0 320.1 286.0 317.9 287.0 318.7 288.0 318.1 289.0 320.7 290.0 313.0 291.0 319.7 291.6 316.5 292.0 316.4 293.0 315.0 294.0 313.1 295.0 316.2 296.0 315.5 297.0 318.0 298.0 313.8 299.0 319.9 300.0 317.4 301.0 316.3 302.0 315.3 303.0 315.1 304.0 314.3 305.0 315.5 306.0 316.6 307.0 316.1 308.0 313.5 309.0 315.9 310.0 314.5 311.0 316.6 312.0 320.2 313.0 317.5 314.0 315.5 315.0 312.7 316.0 313.1 317.0 312.5 318.0 317.5 319.0 314.3 319.7 316.0 320.0 314.6 321.0 316.0 322.0 318.8 323.0 314.3 324.0 315.0 325.0 314.0 326.0 317.5 327.0 313.5 328.0 313.2 329.0 312.6 330.0 312.5 331.0 316.4 332.0 320.8 333.0 313.3 334.0 317.3 335.0 315.8 336.0 312.9 337.0 314.6 338.0 314.7 339.0 313.7 340.0 319.2 341.0 311.1 342.0 315.8 343.0 315.7 344.0 313.7 345.0 315.2 346.0 316.7 347.0 315.2 347.8 315.7 348.0 316.2 349.0 310.5 350.0 317.8 351.0 319.5 352.0 316.7 353.0 316.8 354.0 311.6 355.0 314.3 356.0 312.8 357.0 313.3 358.0 316.5 359.0 312.8 360.0 314.1 361.0 310.4 362.0 314.0 363.0 314.5 364.0 312.8 365.0 312.7 366.0 318.2 367.0 311.7 368.0 311.9 369.0 312.4 370.0 316.6 371.0 318.4 372.0 314.7 373.0 312.4 374.0 313.0 375.0 316.1 375.9 311.9 376.0 316.8 377.0 316.7 378.0 313.8 379.0 314.9 380.0 315.1 381.0 316.7 382.0 311.1 383.0 315.7 384.0 312.3 385.0 311.4 386.0 313.1 387.0 312.3 388.0 310.6 389.0 309.2 390.0 310.4 391.0 315.3 392.0 316.2 393.0 313.3 394.0 314.3 395.0 310.6 396.0 311.4 397.0 312.0 398.0 309.0 399.0 309.1 400.0 311.2 401.0 310.2 402.0 308.5 403.0 311.4 404.0 309.9 405.0 312.5 406.0 310.2 407.0 309.5 408.0 310.2 409.0 309.5 410.0 308.3 411.0 308.7 412.0 311.0 413.0 310.6 414.0 311.8 415.0 305.4 416.0 308.0 417.0 307.9 418.0 309.0 419.0 307.6 420.0 307.3 421.0 309.9 422.0 308.6 423.0 305.7 424.0 310.8 425.0 310.1 426.0 306.7 427.0 309.6 428.0 306.2 429.0 310.1 430.0 307.2 431.0 305.9 432.0 306.7 433.0 305.9 434.0 307.8 435.0 307.7 436.0 307.4 437.0 306.1 438.0 299.5 439.0 307.3 440.0 303.1 441.0 307.5 442.0 309.3 443.0 307.4 444.0 306.0 445.0 306.3 446.0 306.3 447.0 305.4 448.0 305.2 448.1 304.5 449.0 308.8 450.0 306.1 451.0 308.0 452.0 305.3 453.0 305.8 454.0 305.1 455.0 306.3 456.0 306.8 457.0 305.4 458.0 303.2 459.0 302.8 460.0 307.7 461.0 303.3 462.0 303.1 463.0 306.5 464.0 305.5 465.0 304.1 466.0 301.9 467.0 307.4 468.0 303.1 469.0 303.2 470.0 301.4 471.0 298.6 472.0 298.6 473.0 302.1 474.0 301.9 475.0 300.4 476.0 298.3 476.2 297.7 477.0 299.9 478.0 297.4 479.0 302.2 480.0 302.7 481.0 306.1 482.0 301.9 483.0 298.7 484.0 298.0 485.0 292.5 486.0 298.4 487.0 299.2 488.0 301.5 489.0 300.7 490.0 300.6 491.0 299.7 492.0 300.5 493.0 302.1 494.0 296.8 495.0 297.9 496.0 295.9 497.0 302.1 498.0 301.3 499.0 300.1 500.0 295.9 501.0 298.7 502.0 297.7 503.0 298.2 504.0 297.5 504.3 299.0 505.0 297.0 506.0 299.4 507.0 298.0 508.0 296.6 509.0 296.8 510.0 295.9 511.0 298.3 512.0 295.7 513.0 296.7 514.0 294.9 515.0 292.4 516.0 297.1 517.0 292.7 518.0 296.1 519.0 295.3 520.0 290.6 521.0 291.9 522.0 292.5 523.0 291.6 524.0 290.7 525.0 294.5 526.0 292.2 527.0 293.4 528.0 291.5 529.0 292.9 530.0 290.6 531.0 292.0 532.0 293.2 532.4 292.1 533.0 291.0 534.0 289.7 535.0 292.3 536.0 292.6 537.0 291.3 538.0 290.2 539.0 293.0 540.0 297.0 541.0 291.2 542.0 292.5 543.0 292.6 544.0 286.4 545.0 292.0 546.0 290.2 547.0 294.6 548.0 291.2 549.0 290.0 550.0 291.2 551.0 292.0 552.0 290.5 553.0 291.5 554.0 288.8 555.0 291.1 556.0 293.2 557.0 295.7 558.0 293.1 559.0 292.2 560.0 294.1 560.5 293.7 561.0 295.1 562.0 293.9 563.0 291.4 564.0 292.2 565.0 292.0 566.0 292.3 567.0 292.1 568.0 290.1 569.0 287.3 570.0 290.3 571.0 287.5 572.0 292.0 573.0 291.9 574.0 288.4 575.0 293.4 576.0 293.8 577.0 292.2 578.0 295.6 579.0 296.0 580.0 289.6 581.0 294.4 582.0 293.2 583.0 293.2 584.0 294.3 585.0 290.9 586.0 291.2 587.0 290.8 588.0 291.0 588.6 292.4 589.0 289.6 590.0 290.5 591.0 293.9 592.0 292.6 593.0 293.7 594.0 289.0 595.0 291.3 596.0 291.9 597.0 293.2 598.0 292.0 599.0 295.2 600.0 293.2 601.0 293.5 602.0 293.6 603.0 295.1 604.0 292.7 605.0 296.2 606.0 294.9 607.0 294.3 608.0 294.2 609.0 295.3 610.0 296.5 611.0 296.4 612.0 295.3 613.0 296.5 614.0 295.0 615.0 297.5 616.0 295.0 616.7 290.7 617.0 297.9 618.0 295.5 619.0 292.9 620.0 295.1 621.0 293.9 622.0 300.3 623.0 297.1 624.0 292.9 625.0 297.6 626.0 295.8 627.0 300.8 628.0 294.8 629.0 292.5 630.0 297.6 631.0 296.9 632.0 297.0 633.0 293.6 634.0 299.2 635.0 302.0 636.0 294.7 637.0 301.4 638.0 298.0 639.0 304.4 640.0 300.6 641.0 299.5 642.0 302.4 643.0 301.4 644.0 299.3 644.8 302.2 645.0 299.7 646.0 297.2 647.0 305.4 648.0 300.7 649.0 300.4 650.0 302.6 651.0 298.8 652.0 299.5 653.0 301.5 654.0 301.7 655.0 303.2 656.0 305.6 657.0 302.5 658.0 304.8 659.0 305.3 660.0 302.0 661.0 305.0 662.0 302.8 663.0 307.2 664.0 306.2 665.0 305.5 666.0 302.8 667.0 306.1 668.0 304.5 669.0 307.8 670.0 306.3 671.0 305.0 672.0 308.9 672.9 308.6 673.0 305.9 674.0 309.8 675.0 306.9 676.0 307.0 677.0 308.1 678.0 306.5 679.0 307.3 680.0 308.1 681.0 311.9 682.0 312.0 683.0 308.5 684.0 312.6 685.0 309.3 686.0 310.4 687.0 311.6 688.0 310.5 689.0 315.2 690.0 310.8 691.0 307.9 692.0 313.3 693.0 309.9 694.0 310.2 695.0 304.7 696.0 313.2 697.0 313.0 698.0 313.1 699.0 313.6 700.0 315.2 701.0 311.6 702.0 313.8 703.0 310.3 704.0 311.2 705.0 314.3 706.0 313.0 707.0 309.5 708.0 313.1 709.0 312.0 710.0 310.8 711.0 313.5 712.0 311.8 713.0 309.4 714.0 310.4 715.0 316.5 716.0 309.7 717.0 313.4 718.0 314.2 719.0 314.3 720.0 310.4 721.0 312.3 722.0 313.3 723.0 314.7 724.0 311.7 725.0 310.6 726.0 315.2 727.0 315.4 728.0 313.9 729.0 311.8 730.0 314.0 731.0 313.4 732.0 314.9 733.0 310.5 734.0 313.4 735.0 312.9 736.0 310.9 737.0 313.7 738.0 313.3 739.0 312.4 740.0 314.1 741.0 310.3 742.0 313.1 743.0 314.2 744.0 313.9 745.0 315.5 746.0 310.8 747.0 310.1 748.0 313.8 749.0 314.3 750.0 317.8 751.0 314.6 752.0 311.5 753.0 315.0 754.0 311.6 755.0 310.2 756.0 318.8 757.0 314.0 758.0 314.9 759.0 314.5 760.0 317.2 761.0 314.0 762.0 315.9 763.0 311.2 764.0 310.5 765.0 316.4 766.0 316.5 767.0 314.5 768.0 313.9 769.0 313.7 770.0 312.0 771.0 316.6 772.0 314.8 773.0 314.5 774.0 314.2 775.0 315.6 776.0 314.5 776.2 315.0 777.0 310.9 778.0 314.5 779.0 318.0 780.0 312.3 781.0 313.1 782.0 315.2 783.0 315.4 784.0 314.7 785.0 309.9 786.0 314.4 787.0 310.8 788.0 311.5 789.0 314.4 790.0 312.6 791.0 314.9 792.0 319.8 793.0 314.8 794.0 314.7 795.0 311.2 796.0 311.7 797.0 310.8 798.0 311.9 799.0 310.7 800.0 311.6 801.0 312.5 802.0 310.8 803.0 309.9 804.0 310.0 805.0 313.8 806.0 312.9 807.0 314.9 808.0 314.9 809.0 312.0 810.0 314.1 811.0 309.6 812.0 317.4 813.0 315.1 814.0 312.1 815.0 310.1 816.0 313.3 817.0 308.6 818.0 310.8 819.0 314.0 820.0 312.6 821.0 311.4 822.0 314.4 823.0 310.2 824.0 313.0 825.0 311.3 826.0 310.6 827.0 313.3 828.0 310.2 829.0 316.3 830.0 311.1 831.0 316.5 832.0 310.0 832.4 313.6 833.0 309.8 834.0 309.5 835.0 312.6 836.0 313.7 837.0 309.7 838.0 314.8 839.0 310.7 840.0 312.7 841.0 313.2 842.0 313.7 843.0 308.7 844.0 315.9 845.0 313.8 846.0 311.7 847.0 310.5 848.0 309.2 849.0 309.9 850.0 314.0 851.0 312.2 852.0 310.6 853.0 311.9 854.0 316.3 855.0 312.4 856.0 311.9 857.0 316.1 858.0 314.3 859.0 313.4 860.0 312.1 861.0 310.2 862.0 311.1 863.0 312.6 864.0 313.2 865.0 314.5 866.0 314.9 867.0 314.3 868.0 314.4 869.0 311.9 870.0 309.5 871.0 313.0 872.0 312.1 873.0 312.8 874.0 313.7 875.0 311.7 876.0 312.0 877.0 314.2 878.0 314.7 879.0 313.1 880.0 315.6 881.0 314.1 882.0 312.5 883.0 314.7 884.0 318.6 885.0 313.3 886.0 317.2 887.0 317.7 888.0 317.9 888.6 313.1 889.0 319.0 890.0 315.1 891.0 314.3 892.0 314.4 893.0 316.1 894.0 315.0 895.0 314.5 896.0 317.6 897.0 313.4 898.0 312.8 899.0 316.6 900.0 316.5 901.0 317.3 902.0 312.7 903.0 317.3 904.0 316.0 905.0 318.7 906.0 312.4 907.0 315.5 908.0 314.5 909.0 311.7 910.0 313.6 911.0 317.4 912.0 314.1 913.0 313.6 914.0 316.9 915.0 317.2 916.0 317.2 916.7 313.4 917.0 315.0 918.0 317.3 919.0 313.7 920.0 313.5 921.0 316.8 922.0 318.3 923.0 312.5 924.0 309.4 925.0 311.8 926.0 312.6 927.0 314.4 928.0 315.9 929.0 314.2 930.0 313.0 931.0 314.7 932.0 312.3 933.0 314.1 934.0 312.8 935.0 319.6 936.0 315.6 937.0 312.1 938.0 311.6 939.0 312.7 940.0 310.0 941.0 311.9 942.0 311.7 943.0 315.0 944.0 312.2 944.8 311.3 945.0 310.2 946.0 310.4 947.0 312.6 948.0 312.2 949.0 314.8 950.0 311.0 951.0 314.4 952.0 312.5 953.0 311.8 954.0 307.4 955.0 308.7 956.0 312.8 957.0 314.0 958.0 311.3 959.0 312.3 960.0 309.6 961.0 309.5 962.0 308.7 963.0 311.9 964.0 310.4 965.0 309.0 966.0 308.7 967.0 310.4 968.0 309.7 969.0 307.1 970.0 312.3 971.0 309.2 972.0 308.5 972.9 311.5 973.0 310.5 974.0 308.1 975.0 309.3 976.0 305.8 977.0 306.6 978.0 303.1 979.0 310.3 980.0 303.7 981.0 309.0 982.0 305.7 983.0 305.3 984.0 306.9 985.0 307.8 986.0 308.4 987.0 310.8 988.0 307.7 989.0 308.7 990.0 305.6 991.0 308.3 992.0 307.0 993.0 305.7 994.0 306.4 995.0 306.4 996.0 306.9 997.0 307.3 998.0 305.4 999.0 304.9 1000.0 308.0 1001.0 302.8 1002.0 305.1 1003.0 309.7 1004.0 300.7 1005.0 305.0 1006.0 307.9 1007.0 303.0 1008.0 312.0 1009.0 301.2 1010.0 309.7 1011.0 310.0 1012.0 308.7 1013.0 306.3 1014.0 307.6 1015.0 305.0 1016.0 308.6 1017.0 304.6 1018.0 306.5 1019.0 309.2 1020.0 304.9 1021.0 306.5 1022.0 307.7 1023.0 304.7 1024.0 310.0 1025.0 308.4 1026.0 304.6 1027.0 307.8 1028.0 306.4 1029.0 306.8 1030.0 308.5 1031.0 307.0 1032.0 310.6 1033.0 307.3 1034.0 311.0 1035.0 309.0 1036.0 311.0 1037.0 308.2 1038.0 308.4 1039.0 307.2 1040.0 311.0 1041.0 311.9 1042.0 314.5 1043.0 312.9 1043.1 310.7 1044.0 309.9 1045.0 311.3 1046.0 310.5 1047.0 313.8 1048.0 312.9 1049.0 309.3 1050.0 309.8 1051.0 314.2 1052.0 312.2 1053.0 311.2 1054.0 314.3 1055.0 311.2 1056.0 311.6 1057.0 311.4 1058.0 308.4 1059.0 314.5 1060.0 310.3 1061.0 311.8 1062.0 311.6 1063.0 314.8 1064.0 313.3 1065.0 313.6 1066.0 310.2 1067.0 313.7 1068.0 310.9 1069.0 314.8 1070.0 315.0 1071.0 314.3 1071.2 318.7 1072.0 315.6 1073.0 315.9 1074.0 315.0 1075.0 314.4 1076.0 317.0 1077.0 317.4 1078.0 312.4 1079.0 317.5 1080.0 316.4 1081.0 317.5 1082.0 316.5 1083.0 313.0 1084.0 313.3 1085.0 319.7 1086.0 316.5 1087.0 313.1 1088.0 316.9 1089.0 315.5 1090.0 312.4 1091.0 311.6 1092.0 313.1 1093.0 317.2 1094.0 316.6 1095.0 316.3 1096.0 317.5 1097.0 318.2 1098.0 312.7 1099.0 316.5 1099.3 315.5 1100.0 314.7 1101.0 316.2 1102.0 317.2 1103.0 317.0 1104.0 314.6 1105.0 316.8 1106.0 322.2 1107.0 315.8 1108.0 314.6 1109.0 318.8 1110.0 319.6 1111.0 319.5 1112.0 316.3 1113.0 320.8 1114.0 317.2 1115.0 316.6 1116.0 317.8 1117.0 318.9 1118.0 320.8 1119.0 320.7 1120.0 319.4 1121.0 321.5 1122.0 319.8 1123.0 321.6 1124.0 316.8 1125.0 316.5 1126.0 321.5 1127.0 317.1 1127.4 319.4 1128.0 319.8 1129.0 319.1 1130.0 319.2 1131.0 323.1 1132.0 314.9 1133.0 322.1 1134.0 325.1 1135.0 320.4 1136.0 320.4 1137.0 322.0 1138.0 324.3 1139.0 318.0 1140.0 320.8 1141.0 320.2 1142.0 321.8 1143.0 321.0 1144.0 322.1 1145.0 319.9 1146.0 320.9 1147.0 319.4 1148.0 319.5 1149.0 320.6 1150.0 320.6 1151.0 318.5 1152.0 324.3 1153.0 320.7 1154.0 318.2 1155.0 323.4 1156.0 319.5 1157.0 322.2 1158.0 321.1 1159.0 321.7 1160.0 321.6 1161.0 320.0 1162.0 321.4 1163.0 325.6 1164.0 316.6 1165.0 321.5 1166.0 322.3 1167.0 319.2 1168.0 318.6 1169.0 326.0 1170.0 320.7 1171.0 325.9 1172.0 322.7 1173.0 321.7 1174.0 322.6 1175.0 323.0 1176.0 324.1 1177.0 322.6 1178.0 322.0 1179.0 322.1 1180.0 324.6 1181.0 323.5 1182.0 319.7 1183.0 320.5 1183.6 322.6 1184.0 320.6 1185.0 321.2 1186.0 320.0 1187.0 321.5 1188.0 322.9 1189.0 324.2 1190.0 322.1 1191.0 326.5 1192.0 322.0 1193.0 328.9 1194.0 324.3 1195.0 323.3 1196.0 321.3 1197.0 316.4 1198.0 322.0 1199.0 322.8 1200.0 326.5 1201.0 319.6 1202.0 326.5 1203.0 322.0 1204.0 324.1 1205.0 317.3 1206.0 322.9 1207.0 321.9 1208.0 324.1 1209.0 322.9 1210.0 320.3 1211.0 324.8 1212.0 324.3 1213.0 324.1 1214.0 325.0 1215.0 325.2 1216.0 322.9 1217.0 320.1 1218.0 320.1 1219.0 325.9 1220.0 324.5 1221.0 323.3 1222.0 322.2 1223.0 323.2 1224.0 323.2 1225.0 322.5 1226.0 321.8 1227.0 327.8 1228.0 323.8 1229.0 322.0 1230.0 320.6 1231.0 321.8 1232.0 324.9 1233.0 325.0 1234.0 323.0 1235.0 323.6 1236.0 322.9 1237.0 321.2 1238.0 326.3 1239.0 324.4 1239.8 328.8 1240.0 322.0 1241.0 323.3 1242.0 325.5 1243.0 323.2 1244.0 320.8 1245.0 321.7 1246.0 324.0 1247.0 324.5 1248.0 323.6 1249.0 325.9 1250.0 325.9 1251.0 324.5 1252.0 323.9 1253.0 323.4 1254.0 325.1 1255.0 325.9 1256.0 324.1 1257.0 324.9 1258.0 323.3 1259.0 321.1 1260.0 322.0 1261.0 325.7 1262.0 325.0 1263.0 327.5 1264.0 324.3 1265.0 326.0 1266.0 327.0 1267.0 326.3 1268.0 322.9 1269.0 323.8 1270.0 324.5 1271.0 322.2 1272.0 325.3 1273.0 326.5 1274.0 323.3 1275.0 328.5 1276.0 323.8 1277.0 324.0 1278.0 323.9 1279.0 322.9 1280.0 325.3 1281.0 324.5 1282.0 328.0 1283.0 325.8 1284.0 325.7 1285.0 324.1 1286.0 321.6 1287.0 324.4 1288.0 322.8 1289.0 326.6 1290.0 324.6 1291.0 328.2 1292.0 326.2 1293.0 326.5 1294.0 325.2 1295.0 325.2 1296.0 326.1 1297.0 326.7 1298.0 323.3 1299.0 325.9 1300.0 330.3 1301.0 324.7 1302.0 324.3 1303.0 323.4 1304.0 321.9 1305.0 327.4 1306.0 325.1 1307.0 325.6 1308.0 328.9 1309.0 330.3 1310.0 323.2 1311.0 327.3 1312.0 326.4 1313.0 325.9 1314.0 326.1 1315.0 325.1 1316.0 328.5 1317.0 326.4 1318.0 325.9 1319.0 327.8 1320.0 327.1 1321.0 326.2 1322.0 325.9 1323.0 328.9 1324.0 326.3 1325.0 325.1 1326.0 323.5 1327.0 324.6 1328.0 323.1 1329.0 325.6 1330.0 325.9 1331.0 321.1 1332.0 325.5 1333.0 326.8 1334.0 325.8 1335.0 323.5 1336.0 328.1 1337.0 324.0 1338.0 322.9 1339.0 323.3 1340.0 325.5 1341.0 327.6 1342.0 328.0 1343.0 326.0 1344.0 323.1 1345.0 324.3 1346.0 323.8 1347.0 325.3 1348.0 322.0 1349.0 325.9 1350.0 327.1 1351.0 325.4 1352.0 326.7 1353.0 323.8 1354.0 322.7 1355.0 324.5 1356.0 328.2 1357.0 328.0 1358.0 324.9 1359.0 328.4 1360.0 325.2 1361.0 329.1 1362.0 326.9 1363.0 325.0 1364.0 327.6 1365.0 324.4 1366.0 324.0 1367.0 323.0 1368.0 326.6 1369.0 325.9 1370.0 325.9 1371.0 325.2 1372.0 329.1 1373.0 325.2 1374.0 324.6 1375.0 328.8 1376.0 329.2 1377.0 326.9 1378.0 322.6 1379.0 325.0 1380.0 327.6 1381.0 326.3 1382.0 329.6 1383.0 323.5 1384.0 327.8 1385.0 325.1 1386.0 329.2 1387.0 326.3 1388.0 328.6 1389.0 325.1 1390.0 323.6 1391.0 324.2 1392.0 325.3 1393.0 324.4 1393.7 329.1 1394.0 329.4 1395.0 327.2 1396.0 324.5 1397.0 326.4 1398.0 325.3 1399.0 329.8 1400.0 327.4 1401.0 327.8 1402.0 326.0 1403.0 322.6 1404.0 325.3 1405.0 324.6 1406.0 327.7 1407.0 327.2 1408.0 325.3 1409.0 326.2 1410.0 330.4 1411.0 325.1 1412.0 325.2 1413.0 326.7 1414.0 325.7 1415.0 326.3 1416.0 328.4 1417.0 330.9 1418.0 323.6 1419.0 327.3 1420.0 327.5 1421.0 327.3 1422.0 327.1 1423.0 326.8 1424.0 329.7 1425.0 326.6 1426.0 327.4 1427.0 327.7 1428.0 327.9 1429.0 327.4 1430.0 329.9 1431.0 327.8 1432.0 328.2 1433.0 327.8 1434.0 325.8 1435.0 326.2 1436.0 325.8 1437.0 328.5 1438.0 326.6 1439.0 325.9 1440.0 328.7 1441.0 329.3 1442.0 324.6 1443.0 331.9 1444.0 328.4 1445.0 328.2 1446.0 330.7 1447.0 328.6 1448.0 327.2 1449.0 333.2 1450.0 326.3 1451.0 328.4 1452.0 330.4 1453.0 326.5 1454.0 328.5 1455.0 329.6 1456.0 333.9 1457.0 327.0 1458.0 328.8 1459.0 330.3 1460.0 329.2 1461.0 326.5 1462.0 329.9 1463.0 329.3 1464.0 330.1 1465.0 331.6 1466.0 331.4 1467.0 330.1 1468.0 330.0 1469.0 327.0 1470.0 329.1 1471.0 329.9 1472.0 328.6 1473.0 329.7 1474.0 327.8 1475.0 332.8 1476.0 334.1 1477.0 328.8 1478.0 330.5 1479.0 329.2 1480.0 332.4 1481.0 330.7 1482.0 330.0 1483.0 329.4 1484.0 330.2 1485.0 327.8 1486.0 331.4 1487.0 328.5 1487.4 331.1 1488.0 330.3 1489.0 332.4 1490.0 330.0 1491.0 332.3 1492.0 328.2 1493.0 331.5 1494.0 329.7 1495.0 330.7 1496.0 330.4 1497.0 332.3 1498.0 326.1 1499.0 331.1 1500.0 327.3 1501.0 333.0 1502.0 326.3 1503.0 328.4 1504.0 327.0 1505.0 334.0 1506.0 327.9 1507.0 330.9 1508.0 329.5 1509.0 326.9 1510.0 330.0 1511.0 332.1 1512.0 330.4 1513.0 332.8 1514.0 330.1 1515.0 330.9 1516.0 330.1 1517.0 331.7 1518.0 335.0 1519.0 331.8 1520.0 331.4 1521.0 329.8 1522.0 329.5 1523.0 334.2 1524.0 328.8 1525.0 329.3 1526.0 331.0 1527.0 330.3 1528.0 335.4 1529.0 326.3 1530.0 332.1 1531.0 332.9 1532.0 329.0 1533.0 330.1 1534.0 332.4 1535.0 334.9 1536.0 329.6 1537.0 328.2 1538.0 333.6 1539.0 334.8 1540.0 330.9 1541.0 327.0 1542.0 334.7 1543.0 331.3 1544.0 334.1 1545.0 331.7 1546.0 331.0 1547.0 330.9 1548.0 334.9 1549.0 334.9 1550.0 327.4 1551.0 330.0 1552.0 335.7 1553.0 331.2 1554.0 329.2 1555.0 332.1 1556.0 331.9 1557.0 331.9 1558.0 331.1 1559.0 331.5 1560.0 331.2 1561.0 332.9 1562.0 330.6 1563.0 331.7 1564.0 332.0 1565.0 335.1 1566.0 333.2 1567.0 332.2 1568.0 333.6 1569.0 333.3 1570.0 334.8 1571.0 333.6 1572.0 336.3 1573.0 335.4 1574.0 332.5 1575.0 331.8 1576.0 334.5 1577.0 333.8 1578.0 332.5 1579.0 329.6 1580.0 328.9 1581.0 333.5 1582.0 334.4 1583.0 334.5 1584.0 330.2 1585.0 335.1 1586.0 331.8 1587.0 333.8 1588.0 333.9 1589.0 331.3 1590.0 331.8 1591.0 328.7 1592.0 331.2 1593.0 329.4 1594.0 334.1 1595.0 333.3 1596.0 335.2 1597.0 334.0 1598.0 332.0 1599.0 334.0 1600.0 332.5 1601.0 334.7 1602.0 334.1 1603.0 331.4 1604.0 333.5 1605.0 333.6 1606.0 332.9 1607.0 335.4 1608.0 337.2 1609.0 332.8 1610.0 332.9 1611.0 329.0 1612.0 333.4 1613.0 332.8 1614.0 329.2 1615.0 334.4 1616.0 335.1 1617.0 332.3 1618.0 333.1 1619.0 331.9 1620.0 335.5 1621.0 330.8 1622.0 333.3 1623.0 338.1 1624.0 334.2 1625.0 335.1 1626.0 333.8 1627.0 331.7 1628.0 334.1 1629.0 335.1 1630.0 332.1 1631.0 335.0 1632.0 336.9 1633.0 336.6 1634.0 331.0 1635.0 332.3 1636.0 331.0 1637.0 336.7 1638.0 335.7 1639.0 336.0 1640.0 332.7 1641.0 332.1 1642.0 334.7 1643.0 334.8 1644.0 332.8 1645.0 335.0 1646.0 336.0 1647.0 335.2 1648.0 332.6 1649.0 330.3 1650.0 334.3 1651.0 335.2 1652.0 334.3 1653.0 334.0 1654.0 333.5 1655.0 336.4 1656.0 334.9 1657.0 335.3 1658.0 333.0 1659.0 333.7 1660.0 335.4 1661.0 333.0 1662.0 332.5 1663.0 334.5 1664.0 337.7 1665.0 335.6 1666.0 338.3 1667.0 335.0 1668.0 334.6 1669.0 332.4 1670.0 334.1 1671.0 338.4 1672.0 336.1 1673.0 337.0 1674.0 336.9 1675.0 335.4 1676.0 335.1 1677.0 335.8 1678.0 336.9 1679.0 336.5 1680.0 336.6 1681.0 335.9 1682.0 334.0 1683.0 335.1 1684.0 333.7 1685.0 337.8 1686.0 331.3 1687.0 335.3 1688.0 340.8 1689.0 335.1 1690.0 333.4 1691.0 335.8 1692.0 338.6 1693.0 335.5 1694.0 337.2 1695.0 336.1 1696.0 335.2 1697.0 342.6 1698.0 336.1 1699.0 334.9 1700.0 335.0 1701.0 336.8 1702.0 336.9 1703.0 337.7 1704.0 336.4 1705.0 333.1 1706.0 337.3 1707.0 335.5 1708.0 335.6 1709.0 333.1 1710.0 335.0 1711.0 334.7 1712.0 336.2 1713.0 333.2 1714.0 336.4 1715.0 336.6 1716.0 334.0 1717.0 335.0 1718.0 334.6 1719.0 338.3 1720.0 331.1 1721.0 335.7 1722.0 332.9 1723.0 335.5 1724.0 338.2 1725.0 335.2 1726.0 336.8 1727.0 334.7 1728.0 340.6 1729.0 338.5 1730.0 338.9 1731.0 333.8 1732.0 334.3 1733.0 338.9 1734.0 336.2 1735.0 336.1 1736.0 337.4 1737.0 334.0 1738.0 338.3 1739.0 336.7 1740.0 337.7 1741.0 335.3 1742.0 337.8 1743.0 335.3 1744.0 338.8 1745.0 339.2 1746.0 338.7 1747.0 337.9 1748.0 338.2 1749.0 331.2 1750.0 338.6 1751.0 336.3 1752.0 337.1 1753.0 336.3 1754.0 334.0 1755.0 335.8 1756.0 338.4 1757.0 340.0 1758.0 335.7 1759.0 335.1 1760.0 340.1 1761.0 335.2 1762.0 341.4 1763.0 337.2 1764.0 335.2 1765.0 339.2 1766.0 340.7 1767.0 334.1 1768.0 340.4 1769.0 336.6 1770.0 340.3 1771.0 336.4 1772.0 333.9 1773.0 338.3 1774.0 339.2 1775.0 341.6 1776.0 340.9 1777.0 338.7 1778.0 336.8 1779.0 336.2 1780.0 336.7 1781.0 335.6 1782.0 336.8 1783.0 332.0 1784.0 337.7 1785.0 337.3 1786.0 342.8 1787.0 339.0 1788.0 336.4 1789.0 338.6 1790.0 334.9 1791.0 336.2 1792.0 333.6 1793.0 340.5 1794.0 338.7 1795.0 335.0 1796.0 337.4 1797.0 339.5 1798.0 338.6 1799.0 338.4 1800.0 335.8 1801.0 336.3 1802.0 337.8 1803.0 339.6 1804.0 335.9 1805.0 335.3 1806.0 340.1 1807.0 335.7 1808.0 340.0 1809.0 338.2 1810.0 339.6 1811.0 341.4 1812.0 339.2 1813.0 339.4 1814.0 335.8 1815.0 336.3 1816.0 339.2 1817.0 341.0 1818.0 340.8 1819.0 342.7 1820.0 338.5 1821.0 338.3 1822.0 340.0 1823.0 337.9 1824.0 337.8 1825.0 335.7 1826.0 340.0 1827.0 335.7 1828.0 339.0 1829.0 335.0 1830.0 340.3 1831.0 335.8 1832.0 339.8 1833.0 334.7 1834.0 337.1 1835.0 340.5 1836.0 336.4 1837.0 338.2 1838.0 337.1 1839.0 333.3 1840.0 338.8 1841.0 339.1 1842.0 335.8 1843.0 339.4 1844.0 336.5 1845.0 336.1 1846.0 338.2 1847.0 336.8 1848.0 343.1 1849.0 335.0 1850.0 339.8 1851.0 340.4 1852.0 334.2 1853.0 334.7 1854.0 339.5 1855.0 337.4 1856.0 339.2 1857.0 340.8 1858.0 337.6 1859.0 336.2 1860.0 332.7 1861.0 338.9 1862.0 336.5 1863.0 339.2 1864.0 339.0 1865.0 335.6 1866.0 342.2 1867.0 340.8 1868.0 340.4 1869.0 336.1 1870.0 337.8 1871.0 337.5 1872.0 337.8 1873.0 336.3 1874.0 339.6 1875.0 339.2 1876.0 339.5 1877.0 337.7 1878.0 341.5 1879.0 339.2 1880.0 333.1 1881.0 337.5 1882.0 338.7 1883.0 340.9 1884.0 338.2 1885.0 338.4 1886.0 337.5 1887.0 340.3 1888.0 338.0 1889.0 337.7 1890.0 337.4 1891.0 340.2 1892.0 337.9 1893.0 335.5 1894.0 340.4 1895.0 337.6 1896.0 339.9 1897.0 339.9 1898.0 341.7 1899.0 341.4 1900.0 338.0 1901.0 338.8 1902.0 336.5 1903.0 342.8 1904.0 340.2 1905.0 342.2 1906.0 338.6 1907.0 335.0 1908.0 342.6 1909.0 339.6 1910.0 339.7 1911.0 339.5 1912.0 340.8 1913.0 340.6 1914.0 336.1 1915.0 341.8 1916.0 338.4 1917.0 338.5 1918.0 343.2 1919.0 341.5 1920.0 338.9 1921.0 335.7 1922.0 340.0 1923.0 340.8 1924.0 339.5 1925.0 337.1 1926.0 338.0 1927.0 337.1 1928.0 340.2 1929.0 341.5 1930.0 341.9 1931.0 338.3 1932.0 340.3 1933.0 341.0 1934.0 338.8 1935.0 339.6 1936.0 344.4 1937.0 340.4 1938.0 341.8 1939.0 339.1 1940.0 340.1 1941.0 336.4 1942.0 340.0 1943.0 342.6 1944.0 344.5 1945.0 342.6 1946.0 341.6 1947.0 340.3 1948.0 338.9 1949.0 339.8 1950.0 341.5 1951.0 338.6 1952.0 342.2 1953.0 338.2 1954.0 336.6 1955.0 338.2 1956.0 336.8 1957.0 337.5 1958.0 342.8 1959.0 340.0 1960.0 340.9 1961.0 342.9 1962.0 343.1 1963.0 339.4 1964.0 343.3 1965.0 341.3 1966.0 340.6 1967.0 341.5 1968.0 337.6 1969.0 339.0 1970.0 340.4 1971.0 342.0 1972.0 339.9 1973.0 340.5 1974.0 342.8 1975.0 343.7 1976.0 342.4 1977.0 343.5 1978.0 340.0 1979.0 340.2 1980.0 341.5 1981.0 340.3 1982.0 339.9 1983.0 344.4 1984.0 340.6 1985.0 339.0 1986.0 342.0 1987.0 344.9 1988.0 341.2 1989.0 343.7 1990.0 340.2 1991.0 340.1 1992.0 339.7 1993.0 340.9 1994.0 345.1 1995.0 338.8 1996.0 344.7 1997.0 339.2 1998.0 340.8 1999.0 343.1 2000.0 342.7 2001.0 342.0 2002.0 337.9 2003.0 342.2 2004.0 339.3 2005.0 346.9 2006.0 341.0 2007.0 341.9 2008.0 339.1 2009.0 340.6 2010.0 338.9 2011.0 343.7 2012.0 341.1 2013.0 342.8 2014.0 340.3 2015.0 340.7 2016.0 344.4 2017.0 339.7 2018.0 338.0 2019.0 342.7 2020.0 339.4 2021.0 340.9 2022.0 343.8 2023.0 340.2 2024.0 343.8 2025.0 340.5 2026.0 345.1 2027.0 344.8 2028.0 341.0 2029.0 341.6 2030.0 340.3 2031.0 342.5 2032.0 344.5 2033.0 339.1 2034.0 344.1 2035.0 339.4 2036.0 340.4 2037.0 338.5 2038.0 346.7 2039.0 342.4 2040.0 342.8 2041.0 340.9 2042.0 344.6 2043.0 338.0 2044.0 342.5 2045.0 347.1 2046.0 341.7 2047.0 342.6 2048.0 344.0 2049.0 340.9 2050.0 342.6 2051.0 344.6 2052.0 343.1 2053.0 343.4 2054.0 342.0 2055.0 343.4 2056.0 342.9 2057.0 345.8 2058.0 344.3 2059.0 342.3 2060.0 337.7 2061.0 344.4 2062.0 344.5 2063.0 341.0 2064.0 338.8 2065.0 340.6 2066.0 345.0 2067.0 340.8 2068.0 342.1 2069.0 343.6 2070.0 345.7 2071.0 343.1 2072.0 343.0 2073.0 342.0 2074.0 346.6 2075.0 345.5 2076.0 343.1 2077.0 340.4" fill="none" stroke="#6CAA1C" stroke-width="6.4" stroke-linejoin="round" stroke-linecap="round"/>
<path d="M126.0 470.6 127.0 473.4 128.0 471.5 129.0 474.8 130.0 474.3 131.0 474.6 132.0 475.7 133.0 475.8 134.0 473.8 135.0 475.3 136.0 480.5 137.0 474.6 138.0 476.4 139.0 479.7 140.0 478.1 141.0 477.5 142.0 477.1 143.0 481.1 144.0 482.5 145.0 483.8 146.0 481.9 147.0 484.3 148.0 481.1 149.0 483.8 150.0 482.8 151.0 484.8 151.1 485.9 152.0 486.8 153.0 483.5 154.0 488.0 155.0 485.2 156.0 484.6 157.0 486.5 158.0 484.6 159.0 487.6 160.0 488.4 161.0 487.9 162.0 489.6 163.0 488.4 164.0 489.3 165.0 487.1 165.2 489.9 166.0 488.6 167.0 489.7 168.0 490.8 169.0 491.8 170.0 488.9 171.0 489.5 172.0 492.2 173.0 494.1 174.0 494.3 175.0 495.6 176.0 496.8 177.0 495.7 178.0 495.1 179.0 493.6 179.2 493.8 180.0 494.9 181.0 496.5 182.0 496.6 183.0 496.5 184.0 496.5 185.0 498.1 186.0 497.6 187.0 498.0 188.0 498.2 189.0 496.9 190.0 496.2 191.0 499.2 192.0 499.2 193.0 498.3 194.0 498.1 195.0 503.1 196.0 497.9 197.0 499.0 198.0 500.0 199.0 497.7 200.0 500.1 201.0 503.3 202.0 501.9 203.0 501.5 204.0 501.6 205.0 500.9 206.0 502.6 207.0 500.8 207.3 500.3 208.0 501.4 209.0 503.0 210.0 502.1 211.0 502.9 212.0 498.2 213.0 504.2 214.0 506.4 215.0 504.8 216.0 502.0 217.0 501.2 218.0 503.4 219.0 501.2 220.0 504.5 221.0 502.4 222.0 505.2 223.0 506.1 224.0 500.1 225.0 504.4 226.0 502.8 227.0 501.6 228.0 503.1 229.0 504.0 230.0 506.3 231.0 501.8 232.0 506.5 233.0 508.4 234.0 505.9 235.0 505.9 235.4 504.9 236.0 502.8 237.0 506.0 238.0 505.7 239.0 506.4 240.0 509.8 241.0 506.5 242.0 506.0 243.0 508.1 244.0 502.9 245.0 503.3 246.0 504.8 247.0 504.3 248.0 506.8 249.0 505.0 250.0 508.8 251.0 508.4 252.0 507.1 253.0 505.0 254.0 506.9 255.0 507.2 256.0 503.9 257.0 506.5 258.0 507.1 259.0 506.3 260.0 508.7 261.0 508.1 262.0 504.4 263.0 506.1 263.5 504.4 264.0 506.9 265.0 504.3 266.0 507.6 267.0 506.6 268.0 507.6 269.0 505.6 270.0 503.2 271.0 509.0 272.0 505.5 273.0 508.3 274.0 506.5 275.0 506.9 276.0 509.0 277.0 506.3 278.0 508.1 279.0 502.9 280.0 507.1 281.0 505.1 282.0 505.2 283.0 505.4 284.0 506.0 285.0 508.3 286.0 501.9 287.0 505.3 288.0 503.8 289.0 507.2 290.0 504.2 291.0 505.8 291.6 504.2 292.0 506.1 293.0 506.6 294.0 503.9 295.0 504.5 296.0 501.6 297.0 504.4 298.0 505.0 299.0 502.2 300.0 504.8 301.0 498.7 302.0 498.7 303.0 499.2 304.0 500.4 305.0 501.0 305.7 500.6 306.0 500.5 307.0 501.6 308.0 499.1 309.0 497.3 310.0 497.0 311.0 502.6 312.0 494.2 313.0 497.8 314.0 500.3 315.0 498.1 316.0 495.3 317.0 496.4 318.0 497.4 319.0 497.5 319.7 493.4 320.0 496.2 321.0 494.6 322.0 495.3 323.0 494.8 324.0 490.8 325.0 487.9 326.0 490.4 327.0 492.3 328.0 490.0 328.1 489.1 329.0 492.8 330.0 486.5 331.0 489.8 332.0 487.0 333.0 488.0 334.0 488.0 335.0 490.4 336.0 486.0 337.0 486.7 338.0 484.7 339.0 488.5 340.0 486.8 341.0 488.5 342.0 485.9 343.0 487.3 343.6 489.9 344.0 487.8 345.0 489.8 346.0 490.6 347.0 490.2 348.0 489.3 349.0 495.2 350.0 494.8 350.6 496.8 351.0 491.7 352.0 493.0 353.0 492.8 354.0 495.8 355.0 499.8 356.0 499.6 357.0 499.0 358.0 499.9 359.0 501.5 360.0 500.0 361.0 501.7 361.9 501.7 362.0 497.5 363.0 501.2 364.0 504.7 365.0 502.0 366.0 502.8 367.0 502.4 368.0 503.0 369.0 506.3 370.0 504.1 371.0 503.0 372.0 499.5 373.0 504.3 374.0 501.9 375.0 502.3 375.9 507.0 376.0 506.9 377.0 502.1 378.0 507.1 379.0 506.4 380.0 504.2 381.0 506.9 382.0 502.6 383.0 503.4 384.0 502.9 385.0 503.5 386.0 507.1 387.0 503.0 388.0 503.4 389.0 503.7 390.0 505.7 391.0 504.7 392.0 506.9 393.0 504.0 394.0 502.9 395.0 504.3 396.0 505.2 397.0 503.5 398.0 505.6 399.0 508.3 400.0 504.0 401.0 505.1 402.0 507.4 403.0 503.8 404.0 503.4 405.0 502.9 406.0 505.5 407.0 505.7 408.0 504.4 409.0 504.7 410.0 506.9 411.0 506.1 412.0 501.9 413.0 504.4 414.0 504.5 415.0 505.5 416.0 503.8 417.0 503.0 418.0 503.3 419.0 500.8 420.0 504.0 421.0 502.9 422.0 504.8 423.0 502.1 424.0 503.1 425.0 502.1 426.0 502.0 427.0 505.1 428.0 503.0 429.0 504.6 430.0 501.8 431.0 504.0 432.0 500.8 433.0 502.9 434.0 502.9 435.0 504.8 436.0 504.1 437.0 503.4 438.0 505.2 439.0 504.1 440.0 504.7 441.0 505.1 442.0 503.6 443.0 503.2 444.0 504.3 445.0 502.9 446.0 504.4 447.0 505.6 448.0 505.2 449.0 503.0 450.0 501.3 451.0 503.5 452.0 503.4 453.0 505.6 454.0 502.9 455.0 503.2 456.0 504.9 457.0 502.7 458.0 503.3 459.0 506.7 460.0 506.2 461.0 504.7 462.0 504.0 463.0 501.8 464.0 504.5 465.0 503.6 466.0 503.9 467.0 502.6 468.0 503.5 469.0 503.2 470.0 504.1 471.0 506.0 472.0 504.1 473.0 500.5 474.0 501.7 475.0 500.6 476.0 502.0 476.2 504.4 477.0 504.1 478.0 502.3 479.0 503.9 480.0 502.0 481.0 500.8 482.0 500.8 483.0 501.8 484.0 505.8 485.0 500.9 486.0 505.5 487.0 505.6 488.0 502.9 489.0 503.1 490.0 502.1 491.0 503.1 492.0 504.3 493.0 503.1 494.0 504.9 495.0 505.2 496.0 503.6 497.0 503.6 498.0 502.8 499.0 503.6 500.0 500.9 501.0 503.6 502.0 503.2 503.0 501.3 504.0 506.7 505.0 501.0 506.0 501.2 507.0 503.2 508.0 499.2 509.0 501.2 510.0 499.9 511.0 500.9 512.0 502.3 513.0 503.1 514.0 504.5 515.0 503.9 516.0 504.6 517.0 503.5 518.0 501.6 519.0 504.4 520.0 501.5 521.0 501.2 522.0 505.0 523.0 503.7 524.0 502.6 525.0 503.5 526.0 503.7 527.0 499.7 528.0 501.9 529.0 500.0 530.0 502.3 531.0 500.8 532.0 504.5 532.4 502.9 533.0 500.5 534.0 501.9 535.0 499.8 536.0 502.0 537.0 502.9 538.0 502.3 539.0 498.3 540.0 501.2 541.0 502.7 542.0 502.3 543.0 503.8 544.0 499.3 545.0 502.5 546.0 500.4 547.0 501.9 548.0 502.2 549.0 502.7 550.0 500.4 551.0 501.8 552.0 499.3 553.0 498.8 554.0 502.4 555.0 501.2 556.0 498.4 557.0 499.8 558.0 501.3 559.0 504.1 560.0 503.2 560.5 502.7 561.0 498.1 562.0 501.1 563.0 502.2 564.0 502.1 565.0 502.2 566.0 501.1 567.0 504.8 568.0 504.4 569.0 501.7 570.0 500.2 571.0 505.8 572.0 501.2 573.0 504.5 574.0 505.9 575.0 500.9 576.0 503.3 577.0 502.2 578.0 503.9 579.0 503.7 580.0 506.7 581.0 504.4 582.0 503.4 583.0 505.6 584.0 503.1 585.0 503.0 586.0 507.8 587.0 502.3 588.0 502.9 588.6 503.9 589.0 501.9 590.0 500.0 591.0 505.7 592.0 502.3 593.0 502.7 594.0 503.0 595.0 501.8 596.0 501.6 597.0 503.8 598.0 507.7 599.0 504.7 600.0 504.6 601.0 500.5 602.0 503.0 603.0 500.8 604.0 504.3 605.0 502.4 606.0 502.7 607.0 502.4 608.0 501.4 609.0 499.6 610.0 503.2 611.0 499.6 612.0 499.8 613.0 501.3 614.0 500.4 615.0 502.0 616.0 503.2 616.7 501.7 617.0 501.6 618.0 501.1 619.0 502.4 620.0 497.3 621.0 501.0 622.0 498.3 623.0 497.5 624.0 499.4 625.0 498.4 626.0 499.9 627.0 500.7 628.0 494.4 629.0 498.4 629.4 502.0 630.0 500.1 631.0 501.3 632.0 499.1 633.0 496.7 634.0 497.7 635.0 501.5 636.0 502.4 637.0 499.9 638.0 501.3 639.0 502.8 640.0 499.7 641.0 502.6 642.0 506.5 643.0 507.8 644.0 503.9 644.8 507.4 645.0 503.1 646.0 502.6 647.0 500.1 648.0 505.8 649.0 503.4 650.0 508.3 651.0 504.7 652.0 504.4 653.0 500.8 654.0 506.8 655.0 503.4 656.0 503.8 657.0 500.1 658.0 505.8 659.0 505.9 660.0 503.0 661.0 504.3 662.0 504.8 663.0 505.8 664.0 504.3 665.0 507.2 666.0 503.7 667.0 503.0 668.0 503.3 669.0 499.5 670.0 502.6 671.0 505.9 672.0 504.6 673.0 502.6 674.0 504.7 675.0 500.5 676.0 503.6 677.0 505.0 678.0 505.4 679.0 502.7 680.0 505.7 681.0 507.5 682.0 503.3 683.0 505.4 684.0 501.3 685.0 500.6 686.0 505.2 687.0 504.2 688.0 504.4 689.0 502.8 690.0 502.9 691.0 504.4 692.0 503.8 693.0 496.0 693.5 490.9 694.0 492.7 695.0 481.7 696.0 475.7 696.1 474.7 697.0 482.9 698.0 488.6 698.7 494.8 699.0 492.1 700.0 499.6 701.0 503.0 701.5 504.9 702.0 505.8 703.0 504.2 704.0 509.0 705.0 504.2 706.0 505.5 707.0 506.9 708.0 504.3 709.0 507.6 709.4 507.7 710.0 506.1 711.0 510.0 712.0 506.6 713.0 506.9 714.0 504.5 715.0 503.0 716.0 504.6 717.0 504.8 718.0 503.5 719.0 503.4 720.0 495.0 720.5 495.9 721.0 493.0 722.0 494.3 723.0 486.7 724.0 485.0 725.0 485.7 726.0 493.4 727.0 495.4 727.5 498.3 728.0 495.8 729.0 504.8 730.0 506.2 731.0 507.9 732.0 509.6 733.0 507.4 734.0 507.7 735.0 509.4 736.0 509.0 736.2 507.8 737.0 508.3 738.0 507.2 739.0 509.3 740.0 509.5 741.0 507.6 742.0 510.7 743.0 504.2 744.0 506.2 745.0 509.3 746.0 504.9 747.0 502.2 748.0 507.0 749.0 504.8 749.3 501.5 750.0 504.2 751.0 498.8 752.0 495.3 752.5 495.6 753.0 492.8 754.0 485.0 755.0 477.7 756.0 464.9 757.0 452.2 757.8 439.9 758.0 438.2 759.0 419.2 760.0 402.5 761.0 390.1 761.5 389.5 762.0 393.6 763.0 398.0 763.5 398.8 764.0 405.4 765.0 411.4 766.0 427.2 766.2 427.2 767.0 443.2 768.0 458.4 768.1 457.4 769.0 462.5 770.0 462.6 770.5 464.8 771.0 466.8 772.0 472.1 773.0 465.7 774.0 464.4 774.6 462.4 775.0 466.1 776.0 461.4 777.0 463.3 778.0 466.0 779.0 463.8 780.0 469.5 781.0 469.5 782.0 467.4 783.0 468.4 784.0 467.9 785.0 468.7 786.0 473.0 787.0 474.5 788.0 475.2 789.0 476.4 790.0 476.3 791.0 479.4 792.0 477.4 793.0 481.4 794.0 485.2 794.3 485.3 795.0 482.8 796.0 484.2 797.0 488.4 798.0 490.2 799.0 485.3 800.0 488.2 801.0 490.3 802.0 492.9 803.0 489.9 803.7 493.0 804.0 491.4 805.0 496.7 806.0 493.7 807.0 493.0 808.0 493.0 809.0 495.9 810.0 495.5 811.0 492.6 812.0 495.2 813.0 492.7 814.0 494.0 815.0 493.3 816.0 493.5 817.0 495.0 818.0 494.7 819.0 497.7 820.0 498.4 821.0 496.8 822.0 495.4 823.0 499.0 824.0 494.1 825.0 494.3 826.0 499.2 827.0 499.1 827.1 499.7 828.0 497.5 829.0 495.6 830.0 496.8 831.0 498.6 831.5 496.0 832.0 495.5 833.0 490.7 833.8 487.8 834.0 490.6 835.0 484.1 836.0 477.8 837.0 481.0 838.0 487.5 838.3 490.9 839.0 491.0 840.0 497.1 840.5 494.5 841.0 496.6 842.0 500.3 843.0 501.4 844.0 497.7 845.0 498.3 846.0 501.1 847.0 498.8 848.0 498.4 849.0 500.1 850.0 499.3 851.0 500.7 852.0 499.9 853.0 497.2 854.0 497.7 855.0 497.5 856.0 494.9 857.0 495.3 858.0 498.5 859.0 493.5 859.9 497.9 860.0 496.6 861.0 495.5 862.0 496.3 863.0 495.8 864.0 496.7 865.0 493.3 866.0 493.1 867.0 492.5 868.0 495.8 869.0 493.5 870.0 489.6 871.0 490.0 872.0 488.8 873.0 489.5 874.0 489.3 875.0 492.6 876.0 484.6 877.0 489.2 878.0 487.5 879.0 484.9 880.0 485.4 881.0 484.5 881.4 485.4 882.0 487.2 883.0 483.0 884.0 488.6 885.0 486.2 886.0 490.2 887.0 488.7 888.0 490.5 889.0 489.7 890.0 491.0 891.0 489.4 892.0 488.0 892.7 490.7 893.0 490.8 894.0 493.1 895.0 485.2 896.0 487.8 897.0 489.3 898.0 484.2 899.0 485.2 900.0 488.6 901.0 486.6 902.0 481.9 903.0 485.6 903.9 485.1 904.0 484.3 905.0 483.7 906.0 483.5 907.0 481.6 908.0 482.4 909.0 484.9 910.0 484.0 911.0 487.4 912.0 483.7 913.0 480.2 914.0 484.2 915.0 485.5 916.0 485.9 917.0 485.5 918.0 484.0 918.7 488.2 919.0 484.4 920.0 486.9 921.0 485.2 922.0 483.6 923.0 488.4 924.0 481.3 925.0 484.3 926.0 486.7 927.0 485.3 928.0 487.3 929.0 485.8 930.0 485.2 931.0 490.0 932.0 485.7 933.0 485.9 934.0 484.3 935.0 484.9 936.0 487.5 937.0 487.4 937.5 486.5 938.0 485.2 939.0 487.9 940.0 483.8 941.0 486.5 942.0 486.9 943.0 486.1 944.0 488.3 945.0 487.2 946.0 487.3 947.0 492.4 948.0 490.9 949.0 492.1 950.0 490.5 951.0 492.5 952.0 492.6 953.0 493.7 954.0 496.2 955.0 491.8 956.0 493.0 956.2 492.5 957.0 486.5 958.0 490.5 959.0 493.3 960.0 494.7 961.0 492.7 962.0 496.1 963.0 496.6 964.0 493.7 965.0 497.3 966.0 498.1 967.0 496.0 968.0 493.6 969.0 498.2 970.0 495.5 971.0 495.3 972.0 496.4 973.0 495.4 974.0 498.5 974.9 498.2 975.0 499.0 976.0 498.1 977.0 495.9 978.0 497.3 979.0 499.4 980.0 497.3 981.0 503.6 982.0 498.1 983.0 497.8 984.0 501.1 985.0 500.6 986.0 499.3 987.0 499.1 988.0 500.3 989.0 501.1 990.0 500.4 991.0 496.8 992.0 495.7 993.0 493.3 993.5 491.4 994.0 481.6 995.0 475.9 996.0 465.1 996.5 461.6 997.0 458.2 998.0 451.2 999.0 445.5 999.3 443.8 1000.0 446.1 1001.0 456.9 1002.0 460.9 1003.0 470.3 1004.0 480.3 1004.9 482.6 1005.0 478.6 1006.0 485.7 1007.0 486.1 1007.5 486.8 1008.0 488.7 1009.0 486.8 1010.0 484.7 1010.5 486.6 1011.0 486.4 1012.0 489.7 1013.0 494.5 1014.0 499.2 1015.0 501.6 1015.2 501.6 1016.0 502.5 1017.0 500.8 1018.0 500.3 1019.0 505.0 1020.0 502.2 1021.0 502.7 1022.0 502.5 1023.0 502.8 1024.0 502.8 1025.0 502.9 1026.0 501.4 1027.0 504.5 1028.0 501.6 1029.0 504.7 1030.0 499.4 1031.0 501.0 1031.1 504.7 1032.0 502.7 1033.0 501.7 1034.0 503.6 1035.0 501.1 1036.0 503.1 1037.0 499.0 1038.0 502.2 1039.0 501.9 1040.0 504.0 1041.0 504.7 1042.0 501.6 1043.0 506.0 1044.0 502.1 1045.0 499.5 1046.0 498.9 1047.0 506.0 1048.0 503.1 1049.0 502.1 1050.0 501.9 1051.0 501.3 1052.0 505.8 1053.0 503.2 1054.0 506.6 1054.6 503.0 1055.0 499.2 1056.0 505.0 1057.0 502.9 1058.0 503.2 1059.0 506.5 1060.0 503.3 1061.0 506.0 1062.0 504.1 1063.0 502.8 1064.0 505.2 1065.0 503.4 1066.0 506.8 1067.0 506.5 1068.0 505.0 1069.0 506.1 1070.0 506.2 1071.0 504.8 1072.0 507.0 1073.0 505.1 1074.0 506.7 1075.0 503.9 1076.0 505.8 1077.0 506.4 1078.0 504.3 1079.0 504.8 1080.0 504.3 1081.0 506.0 1082.0 502.7 1083.0 503.0 1084.0 501.8 1085.0 496.7 1086.0 490.0 1087.0 490.5 1087.4 491.9 1088.0 490.2 1089.0 495.7 1090.0 498.1 1091.0 501.0 1092.0 502.9 1093.0 504.1 1094.0 504.9 1095.0 505.7 1096.0 506.7 1097.0 506.6 1098.0 505.4 1099.0 506.1 1099.5 506.7 1100.0 503.1 1101.0 504.6 1102.0 504.5 1103.0 505.5 1104.0 505.3 1105.0 505.3 1106.0 504.1 1107.0 506.8 1108.0 505.9 1109.0 502.4 1110.0 505.3 1111.0 503.1 1112.0 508.1 1113.0 504.1 1114.0 504.1 1115.0 504.9 1116.0 504.3 1117.0 504.6 1118.0 507.4 1118.7 505.0 1119.0 506.1 1120.0 506.7 1121.0 502.9 1122.0 507.7 1123.0 505.9 1124.0 506.5 1125.0 503.2 1126.0 506.3 1127.0 505.6 1128.0 503.9 1129.0 509.0 1130.0 506.0 1131.0 504.6 1132.0 505.4 1133.0 506.7 1134.0 507.1 1135.0 506.2 1136.0 507.3 1137.0 507.8 1137.5 502.9 1138.0 504.3 1139.0 503.4 1140.0 505.1 1141.0 507.4 1142.0 505.7 1143.0 502.4 1144.0 503.5 1145.0 505.6 1146.0 502.5 1147.0 503.0 1148.0 503.4 1149.0 499.3 1150.0 503.8 1151.0 502.8 1152.0 503.0 1153.0 500.1 1154.0 500.5 1154.3 500.8 1155.0 502.3 1156.0 502.1 1157.0 502.3 1158.0 505.5 1159.0 504.9 1160.0 501.5 1161.0 502.0 1162.0 506.6 1163.0 503.3 1164.0 506.7 1165.0 507.5 1166.0 504.0 1167.0 504.8 1168.0 505.8 1169.0 504.4 1170.0 504.5 1171.0 505.8 1172.0 508.3 1173.0 506.1 1174.0 506.6 1174.9 506.2 1175.0 504.6 1176.0 509.7 1177.0 502.8 1178.0 505.8 1179.0 507.9 1180.0 504.4 1181.0 507.9 1182.0 509.0 1183.0 505.1 1184.0 506.9 1185.0 504.5 1186.0 507.3 1187.0 506.5 1188.0 506.6 1189.0 508.6 1190.0 506.9 1191.0 508.4 1192.0 507.0 1193.0 503.7 1194.0 506.2 1195.0 506.6 1196.0 503.1 1197.0 508.0 1198.0 505.8 1198.4 506.3 1199.0 504.1 1200.0 506.2 1201.0 507.1 1202.0 506.7 1203.0 508.3 1204.0 505.2 1205.0 512.2 1206.0 508.5 1207.0 507.1 1207.7 509.5 1208.0 509.8 1209.0 512.5 1210.0 510.1 1211.0 512.4 1212.0 510.4 1213.0 516.3 1214.0 513.5 1215.0 516.2 1216.0 511.0 1217.0 514.1 1218.0 511.4 1219.0 514.3 1220.0 514.6 1221.0 510.6 1222.0 511.5 1223.0 511.6 1224.0 511.0 1225.0 512.5 1226.0 512.2 1227.0 511.3 1228.0 514.1 1229.0 515.0 1230.0 511.7 1231.0 513.0 1231.1 514.0 1232.0 513.6 1233.0 512.5 1234.0 514.9 1235.0 514.6 1236.0 513.7 1237.0 511.5 1238.0 514.7 1239.0 513.5 1240.0 508.8 1240.5 508.8 1241.0 510.6 1242.0 505.2 1243.0 504.8 1244.0 501.3 1245.0 496.8 1246.0 493.6 1247.0 486.4 1248.0 484.0 1249.0 477.5 1250.0 482.3 1250.3 480.7 1251.0 481.2 1252.0 483.1 1252.6 486.8 1253.0 489.1 1254.0 494.1 1255.0 499.7 1256.0 502.6 1257.0 510.3 1257.4 509.4 1258.0 508.5 1259.0 509.1 1260.0 512.4 1261.0 513.9 1262.0 509.8 1263.0 515.7 1264.0 515.4 1265.0 512.2 1266.0 512.2 1267.0 512.9 1268.0 514.9 1268.6 512.4 1269.0 511.1 1270.0 513.6 1271.0 509.0 1272.0 512.6 1273.0 514.1 1274.0 512.1 1275.0 512.5 1276.0 511.5 1277.0 511.5 1278.0 510.1 1279.0 508.0 1280.0 508.9 1280.8 509.2 1281.0 511.6 1282.0 512.4 1283.0 510.7 1284.0 509.2 1285.0 510.0 1286.0 511.7 1287.0 515.2 1288.0 514.0 1289.0 513.7 1290.0 512.6 1291.0 515.6 1292.0 514.6 1293.0 514.1 1294.0 514.4 1295.0 517.3 1296.0 514.0 1297.0 517.3 1298.0 516.5 1299.0 514.4 1300.0 515.9 1301.0 514.1 1302.0 512.8 1303.0 513.8 1304.0 512.6 1305.0 515.2 1306.0 514.2 1307.0 515.2 1308.0 515.6 1309.0 508.5 1310.0 514.6 1311.0 510.7 1312.0 514.2 1313.0 512.3 1314.0 514.0 1315.0 516.2 1316.0 510.6 1317.0 513.9 1318.0 513.3 1318.7 510.0 1319.0 514.5 1320.0 513.2 1321.0 511.9 1322.0 511.2 1323.0 517.8 1324.0 510.7 1325.0 507.6 1326.0 508.5 1327.0 508.9 1328.0 508.3 1329.0 508.2 1330.0 505.9 1331.0 508.2 1332.0 505.9 1333.0 503.8 1334.0 504.2 1335.0 504.5 1336.0 506.1 1337.0 504.9 1338.0 502.8 1339.0 502.9 1340.0 502.6 1341.0 505.2 1342.0 499.7 1342.2 501.5 1343.0 501.4 1344.0 497.4 1345.0 498.3 1346.0 497.1 1347.0 494.6 1348.0 495.2 1349.0 494.7 1350.0 493.6 1351.0 490.0 1352.0 489.7 1353.0 492.6 1354.0 485.7 1355.0 487.6 1356.0 488.6 1356.2 487.3 1357.0 488.3 1358.0 487.8 1359.0 489.5 1360.0 491.2 1361.0 489.5 1362.0 491.2 1363.0 491.8 1364.0 492.1 1365.0 493.7 1365.6 492.2 1366.0 495.8 1367.0 498.3 1368.0 499.0 1369.0 498.9 1370.0 495.6 1371.0 500.8 1372.0 497.4 1373.0 499.3 1374.0 503.3 1375.0 498.7 1376.0 502.8 1377.0 502.3 1378.0 502.1 1379.0 501.3 1379.6 503.9 1380.0 502.4 1381.0 505.6 1382.0 506.3 1383.0 502.0 1384.0 503.9 1385.0 504.6 1386.0 503.4 1387.0 503.8 1388.0 506.3 1389.0 506.1 1390.0 503.8 1391.0 506.1 1392.0 508.2 1393.0 505.4 1393.7 506.1 1394.0 510.7 1395.0 510.6 1396.0 505.6 1397.0 506.4 1398.0 509.8 1399.0 507.4 1400.0 509.4 1401.0 509.4 1402.0 511.5 1403.0 506.3 1404.0 507.1 1405.0 509.2 1406.0 513.5 1407.0 511.6 1408.0 509.0 1409.0 513.1 1410.0 513.6 1411.0 512.0 1412.0 511.9 1412.4 513.3 1413.0 514.7 1414.0 512.7 1415.0 513.4 1416.0 512.3 1417.0 511.6 1418.0 510.6 1419.0 512.6 1420.0 511.6 1421.0 511.6 1422.0 513.7 1423.0 512.9 1423.7 513.6 1424.0 509.2 1425.0 513.1 1426.0 511.3 1427.0 511.2 1428.0 511.5 1429.0 515.7 1430.0 515.5 1431.0 513.1 1432.0 512.8 1433.0 515.2 1434.0 514.7 1435.0 518.6 1435.8 513.1 1436.0 512.4 1437.0 515.2 1438.0 515.4 1439.0 515.4 1440.0 516.2 1441.0 518.3 1442.0 513.6 1443.0 512.9 1444.0 510.5 1445.0 513.9 1446.0 514.9 1446.1 512.9 1447.0 515.6 1448.0 513.7 1449.0 516.7 1450.0 515.0 1451.0 513.0 1452.0 514.3 1453.0 513.2 1454.0 513.4 1455.0 517.6 1456.0 519.1 1457.0 521.5 1458.0 518.2 1459.0 518.0 1459.3 516.5 1460.0 520.3 1461.0 519.3 1462.0 517.6 1463.0 520.0 1464.0 519.9 1465.0 515.5 1466.0 520.3 1467.0 519.3 1468.0 518.4 1469.0 518.4 1470.0 522.4 1471.0 522.0 1472.0 522.6 1473.0 517.3 1474.0 518.2 1475.0 521.1 1476.0 517.3 1477.0 518.3 1478.0 516.3 1479.0 523.0 1480.0 521.6 1481.0 520.5 1482.0 520.1 1483.0 519.0 1484.0 519.1 1485.0 520.9 1486.0 518.6 1487.0 522.1 1488.0 519.0 1489.0 518.3 1490.0 522.3 1491.0 519.7 1492.0 521.0 1493.0 519.2 1494.0 515.9 1495.0 521.0 1496.0 517.6 1497.0 521.9 1498.0 517.2 1499.0 516.6 1499.5 520.6 1500.0 520.8 1501.0 520.2 1502.0 517.8 1503.0 521.6 1504.0 517.3 1505.0 519.1 1506.0 518.5 1507.0 519.1 1508.0 521.3 1509.0 518.6 1510.0 520.7 1511.0 520.9 1512.0 516.5 1513.0 517.4 1514.0 518.8 1515.0 518.3 1516.0 519.9 1517.0 515.8 1518.0 520.5 1519.0 520.5 1520.0 518.8 1521.0 516.6 1522.0 519.0 1522.3 518.0 1523.0 520.0 1524.0 518.8 1525.0 520.2 1526.0 518.0 1527.0 521.4 1528.0 514.6 1529.0 516.9 1530.0 519.5 1531.0 515.9 1532.0 519.9 1533.0 516.3 1534.0 518.6 1535.0 516.8 1536.0 517.6 1537.0 518.7 1538.0 518.1 1539.0 517.6 1540.0 522.1 1541.0 518.2 1542.0 516.4 1543.0 519.8 1544.0 519.5 1545.0 520.2 1546.0 521.2 1547.0 516.2 1548.0 519.8 1549.0 519.9 1550.0 517.8 1551.0 518.2 1552.0 512.3 1553.0 516.6 1554.0 520.8 1555.0 514.4 1556.0 516.6 1557.0 518.0 1558.0 518.5 1559.0 520.3 1560.0 514.2 1561.0 517.4 1562.0 518.8 1563.0 514.8 1564.0 517.1 1565.0 520.5 1566.0 519.4 1567.0 517.9 1568.0 512.2 1569.0 516.6 1570.0 517.5 1571.0 516.2 1572.0 516.5 1573.0 522.1 1574.0 516.1 1575.0 514.7 1576.0 516.8 1577.0 515.7 1578.0 515.7 1579.0 516.0 1580.0 517.4 1581.0 516.4 1582.0 513.7 1583.0 515.6 1584.0 516.6 1585.0 514.8 1586.0 517.6 1587.0 516.8 1588.0 513.5 1589.0 515.8 1590.0 518.7 1591.0 517.8 1592.0 514.8 1593.0 516.4 1594.0 513.5 1595.0 512.0 1596.0 515.4 1597.0 514.8 1597.2 515.2 1598.0 514.1 1599.0 514.5 1600.0 512.6 1601.0 514.0 1602.0 514.2 1603.0 512.2 1604.0 513.4 1605.0 508.5 1606.0 510.1 1606.6 514.1 1607.0 514.7 1608.0 512.1 1609.0 511.8 1610.0 510.1 1611.0 513.5 1612.0 514.8 1613.0 511.2 1614.0 515.3 1615.0 515.5 1616.0 515.7 1617.0 513.0 1618.0 515.9 1619.0 512.0 1620.0 516.9 1621.0 514.1 1622.0 511.2 1623.0 515.2 1624.0 514.4 1625.0 510.7 1626.0 515.6 1627.0 509.7 1627.2 512.1 1628.0 513.7 1629.0 507.8 1630.0 514.3 1631.0 513.1 1632.0 514.0 1633.0 513.0 1634.0 516.5 1635.0 514.9 1636.0 516.0 1637.0 517.7 1638.0 516.9 1639.0 522.3 1640.0 517.2 1641.0 518.2 1642.0 519.0 1643.0 519.6 1644.0 521.0 1645.0 521.1 1646.0 519.0 1647.0 518.9 1648.0 519.6 1649.0 521.0 1650.0 520.8 1651.0 518.6 1652.0 515.8 1653.0 523.4 1654.0 521.2 1655.0 520.0 1656.0 520.1 1657.0 518.5 1658.0 517.7 1659.0 518.9 1660.0 519.0 1661.0 518.3 1662.0 516.8 1663.0 518.8 1664.0 520.4 1665.0 518.5 1666.0 519.4 1667.0 515.6 1668.0 518.9 1669.0 519.1 1670.0 517.1 1671.0 516.1 1672.0 520.0 1673.0 517.7 1674.0 520.1 1675.0 518.4 1676.0 520.3 1677.0 518.5 1678.0 516.4 1679.0 518.9 1680.0 518.5 1681.0 520.2 1682.0 518.2 1683.0 518.3 1684.0 520.5 1685.0 521.0 1686.0 520.3 1687.0 520.7 1688.0 519.7 1689.0 520.2 1690.0 520.4 1691.0 519.5 1692.0 518.9 1693.0 519.0 1694.0 523.0 1695.0 518.7 1696.0 518.2 1697.0 518.0 1698.0 518.5 1699.0 519.0 1700.0 516.5 1701.0 514.9 1702.0 519.0 1703.0 515.6 1704.0 518.9 1705.0 518.7 1706.0 520.5 1707.0 521.4 1708.0 519.0 1709.0 517.3 1710.0 516.2 1711.0 516.8 1712.0 518.3 1713.0 514.5 1714.0 518.3 1715.0 518.1 1716.0 519.3 1717.0 517.5 1718.0 518.3 1719.0 516.7 1720.0 517.2 1721.0 514.8 1722.0 518.2 1723.0 520.7 1724.0 518.2 1725.0 518.6 1726.0 516.1 1727.0 520.4 1728.0 516.5 1729.0 519.3 1730.0 518.0 1731.0 516.1 1732.0 519.6 1733.0 517.8 1734.0 518.1 1735.0 518.5 1736.0 517.7 1737.0 517.0 1738.0 518.5 1739.0 516.9 1740.0 517.8 1741.0 516.4 1742.0 514.9 1743.0 516.4 1744.0 516.7 1745.0 517.6 1746.0 519.7 1747.0 514.5 1748.0 517.8 1749.0 513.6 1750.0 515.7 1751.0 516.6 1752.0 513.5 1753.0 514.2 1754.0 517.8 1755.0 517.6 1756.0 517.3 1757.0 516.1 1758.0 521.4 1758.8 517.2 1759.0 515.9 1760.0 520.5 1761.0 518.6 1762.0 516.8 1763.0 519.7 1764.0 517.8 1765.0 518.7 1766.0 518.0 1767.0 515.8 1768.0 519.4 1769.0 518.0 1770.0 515.9 1771.0 516.4 1772.0 519.5 1773.0 517.2 1774.0 517.9 1775.0 519.1 1776.0 518.2 1777.0 515.3 1778.0 519.2 1779.0 519.8 1780.0 519.7 1781.0 521.1 1782.0 518.9 1783.0 519.7 1784.0 521.3 1785.0 518.0 1786.0 521.7 1787.0 521.7 1788.0 520.1 1789.0 522.1 1790.0 520.4 1791.0 517.3 1792.0 521.0 1793.0 519.6 1794.0 519.9 1795.0 519.5 1796.0 521.7 1797.0 520.4 1798.0 518.2 1799.0 520.4 1800.0 520.9 1801.0 518.4 1802.0 519.0 1803.0 519.2 1804.0 518.8 1805.0 520.6 1806.0 521.9 1807.0 523.6 1808.0 522.4 1809.0 522.2 1810.0 522.5 1811.0 522.9 1812.0 519.9 1813.0 521.9 1814.0 521.3 1815.0 520.6 1816.0 520.1 1817.0 520.1 1818.0 520.6 1819.0 518.9 1820.0 522.2 1821.0 521.3 1822.0 521.6 1823.0 522.1 1824.0 522.8 1825.0 520.5 1826.0 521.5 1827.0 518.8 1828.0 517.8 1829.0 518.4 1830.0 524.7 1831.0 518.7 1832.0 522.9 1833.0 524.8 1834.0 521.3 1835.0 525.1 1836.0 525.6 1837.0 524.0 1838.0 526.6 1839.0 523.5 1840.0 521.1 1841.0 523.4 1842.0 521.7 1843.0 520.2 1844.0 520.3 1845.0 526.8 1846.0 521.7 1847.0 522.6 1848.0 521.5 1848.4 523.0 1849.0 522.3 1850.0 522.0 1851.0 520.6 1852.0 520.2 1853.0 521.5 1854.0 523.3 1855.0 526.6 1856.0 524.8 1857.0 526.2 1858.0 523.8 1859.0 522.8 1860.0 520.5 1861.0 523.0 1862.0 519.1 1863.0 522.4 1864.0 525.9 1865.0 523.6 1866.0 525.1 1867.0 522.4 1868.0 520.6 1869.0 522.2 1870.0 522.4 1871.0 525.3 1872.0 526.7 1873.0 521.8 1874.0 522.5 1875.0 522.9 1876.0 522.6 1877.0 521.0 1878.0 523.4 1879.0 523.9 1880.0 524.0 1881.0 521.1 1882.0 523.1 1883.0 520.2 1884.0 525.0 1885.0 521.5 1886.0 522.9 1887.0 522.6 1888.0 522.3 1889.0 521.5 1890.0 520.2 1891.0 526.5 1892.0 523.9 1893.0 523.9 1894.0 527.2 1895.0 523.3 1896.0 524.5 1897.0 523.5 1898.0 525.6 1899.0 524.4 1900.0 524.1 1901.0 523.1 1902.0 524.1 1903.0 525.7 1904.0 519.8 1905.0 523.4 1906.0 522.9 1907.0 523.1 1908.0 520.1 1909.0 525.0 1910.0 522.1 1911.0 523.2 1912.0 522.8 1913.0 520.7 1914.0 522.9 1915.0 520.4 1916.0 522.0 1917.0 523.1 1918.0 523.7 1919.0 523.8 1920.0 523.5 1921.0 527.6 1922.0 524.5 1923.0 521.6 1924.0 522.7 1925.0 522.6 1926.0 523.5 1927.0 522.7 1928.0 522.2 1929.0 526.8 1930.0 523.9 1931.0 523.2 1932.0 523.4 1933.0 523.4 1934.0 526.3 1935.0 524.7 1936.0 525.8 1937.0 518.2 1938.0 524.4 1939.0 525.7 1940.0 527.4 1941.0 523.9 1942.0 520.8 1943.0 524.9 1944.0 522.8 1945.0 520.6 1946.0 522.7 1947.0 525.8 1948.0 526.0 1949.0 525.2 1950.0 522.0 1951.0 528.4 1952.0 521.8 1952.6 523.7 1953.0 521.3 1954.0 526.2 1955.0 524.7 1956.0 525.5 1957.0 524.0 1958.0 523.7 1959.0 524.2 1960.0 520.5 1961.0 525.7 1962.0 525.5 1963.0 523.2 1964.0 523.8 1965.0 524.4 1966.0 526.7 1967.0 524.7 1968.0 524.0 1969.0 523.0 1970.0 521.2 1971.0 522.8 1972.0 524.0 1973.0 523.4 1974.0 524.0 1975.0 525.2 1976.0 524.7 1977.0 524.4 1978.0 525.1 1979.0 524.2 1980.0 523.8 1981.0 524.7 1982.0 520.8 1983.0 526.1 1984.0 521.6 1985.0 525.4 1986.0 523.9 1987.0 525.9 1988.0 523.9 1989.0 522.2 1990.0 525.8 1991.0 524.2 1992.0 524.1 1993.0 524.0 1994.0 525.7 1995.0 525.4 1996.0 524.3 1997.0 521.1 1998.0 523.2 1999.0 524.1 2000.0 527.1 2001.0 524.6 2002.0 523.7 2003.0 526.0 2004.0 523.7 2005.0 523.8 2006.0 524.2 2007.0 521.2 2008.0 525.6 2009.0 524.7 2010.0 523.4 2011.0 521.8 2012.0 524.3 2013.0 526.4 2014.0 522.7 2015.0 522.0 2016.0 524.7 2017.0 521.0 2018.0 519.9 2019.0 523.1 2020.0 522.7 2021.0 523.4 2022.0 522.9 2023.0 524.5 2024.0 523.5 2025.0 522.8 2026.0 523.1 2027.0 525.0 2028.0 525.6 2029.0 525.5 2030.0 525.2 2031.0 518.0 2032.0 522.1 2033.0 523.3 2034.0 524.3 2035.0 521.0 2036.0 526.5 2037.0 524.5 2038.0 522.8 2039.0 524.2 2040.0 523.3 2041.0 522.5 2042.0 524.8 2043.0 523.1 2044.0 521.4 2045.0 522.8 2046.0 523.7 2047.0 522.0 2048.0 526.2 2049.0 521.9 2050.0 527.1 2051.0 525.5 2052.0 522.2 2053.0 524.1 2054.0 526.0 2055.0 523.6 2056.0 521.8 2057.0 524.1 2058.0 527.5 2059.0 521.2 2060.0 524.9 2061.0 523.9 2062.0 523.7 2063.0 523.2 2064.0 523.3 2065.0 525.8 2066.0 525.0 2067.0 522.1 2068.0 526.7 2069.0 521.6 2070.0 525.1 2071.0 524.3 2072.0 526.1 2073.0 524.6 2074.0 525.8 2075.0 523.9 2076.0 525.7 2077.0 524.5" fill="none" stroke="#6F680B" stroke-width="5.6" stroke-linejoin="round" stroke-linecap="round"/>
<path d="M126.0 640.9 127.0 635.9 128.0 640.3 129.0 639.5 130.0 639.5 131.0 638.6 132.0 641.3 133.0 638.0 134.0 638.8 135.0 643.6 136.0 639.6 137.0 646.1 138.0 643.2 139.0 644.8 140.0 645.0 141.0 646.2 142.0 645.4 143.0 645.7 144.0 646.7 145.0 649.6 146.0 650.2 147.0 651.0 148.0 649.6 149.0 649.0 150.0 646.4 151.0 651.5 151.1 651.9 152.0 649.8 153.0 652.6 154.0 654.0 155.0 652.0 156.0 654.3 157.0 653.1 158.0 649.4 159.0 652.2 160.0 652.7 161.0 654.9 162.0 652.4 163.0 653.6 164.0 652.9 165.0 655.0 165.2 655.3 166.0 657.3 167.0 657.3 168.0 656.3 169.0 656.7 170.0 656.7 171.0 656.9 172.0 660.1 173.0 652.2 174.0 657.1 175.0 658.3 176.0 660.2 177.0 656.0 178.0 659.1 179.0 660.4 179.2 657.9 180.0 655.2 181.0 658.5 182.0 657.1 183.0 661.1 184.0 658.4 185.0 664.0 186.0 661.1 187.0 659.5 188.0 660.4 189.0 659.6 190.0 662.9 191.0 665.4 192.0 662.3 193.0 664.9 194.0 661.5 195.0 664.3 196.0 668.6 197.0 661.4 198.0 667.0 199.0 667.2 200.0 661.3 201.0 662.4 202.0 663.6 203.0 667.7 204.0 665.1 205.0 665.8 206.0 667.7 207.0 666.7 207.3 666.9 208.0 665.9 209.0 668.9 210.0 665.2 211.0 670.2 212.0 666.3 213.0 665.5 214.0 668.5 215.0 668.2 216.0 663.5 217.0 668.0 218.0 664.9 219.0 666.0 220.0 669.4 221.0 666.2 222.0 668.7 223.0 667.3 224.0 672.0 225.0 668.0 226.0 665.9 227.0 666.1 228.0 666.5 229.0 668.7 230.0 668.4 231.0 670.4 232.0 668.8 233.0 668.8 234.0 669.2 235.0 668.3 235.4 669.1 236.0 670.1 237.0 670.1 238.0 667.4 239.0 665.0 240.0 666.9 241.0 669.1 242.0 663.6 243.0 667.6 244.0 669.4 245.0 667.4 246.0 666.3 247.0 672.0 248.0 671.3 249.0 668.0 250.0 671.2 251.0 671.1 252.0 666.3 253.0 673.9 254.0 666.6 255.0 668.0 256.0 666.3 257.0 668.7 258.0 665.9 259.0 668.5 260.0 670.7 261.0 668.9 262.0 668.0 263.0 671.6 263.5 666.7 264.0 670.4 265.0 667.9 266.0 668.8 267.0 668.4 268.0 668.4 269.0 667.9 270.0 666.3 271.0 666.6 272.0 668.4 273.0 667.1 274.0 664.8 275.0 665.5 276.0 665.3 277.0 666.4 277.6 666.7 278.0 666.5 279.0 664.8 280.0 666.0 281.0 663.0 282.0 659.8 283.0 665.2 284.0 661.8 285.0 663.0 286.0 662.2 287.0 665.6 288.0 661.7 289.0 664.3 290.0 662.5 291.0 660.6 291.6 659.7 292.0 663.6 293.0 662.9 294.0 663.1 295.0 664.4 296.0 660.4 297.0 659.5 298.0 657.7 299.0 657.1 300.0 655.1 301.0 652.9 302.0 657.7 303.0 648.9 304.0 652.2 305.0 651.6 305.7 650.4 306.0 648.0 307.0 648.7 308.0 647.4 309.0 645.4 310.0 646.8 311.0 645.3 312.0 644.3 313.0 646.1 314.0 641.9 315.0 644.2 316.0 641.3 317.0 642.7 318.0 641.2 319.0 640.7 319.7 637.6 320.0 637.8 321.0 636.6 322.0 637.5 323.0 637.3 324.0 636.7 325.0 632.2 326.0 632.1 327.0 627.5 328.0 625.3 329.0 627.2 330.0 627.1 331.0 625.2 332.0 624.8 333.0 629.6 334.0 627.2 335.0 625.9 336.0 634.3 337.0 630.6 338.0 630.2 339.0 632.8 340.0 630.5 340.8 635.7 341.0 629.6 342.0 630.9 343.0 634.2 344.0 634.1 345.0 639.7 346.0 634.9 347.0 637.9 347.8 640.7 348.0 641.6 349.0 643.6 350.0 643.4 351.0 648.3 352.0 644.1 353.0 646.6 354.0 649.1 355.0 648.0 356.0 649.2 357.0 649.9 358.0 650.6 359.0 650.7 360.0 652.8 361.0 651.8 361.9 656.4 362.0 652.5 363.0 660.6 364.0 660.7 365.0 660.3 366.0 658.4 367.0 658.4 368.0 662.7 369.0 661.3 370.0 662.7 371.0 660.8 372.0 664.9 373.0 661.8 374.0 664.1 375.0 660.9 375.9 663.5 376.0 665.8 377.0 664.4 378.0 664.8 379.0 667.7 380.0 666.4 381.0 669.5 382.0 662.6 383.0 668.9 384.0 669.2 385.0 665.4 386.0 666.3 387.0 671.0 388.0 667.4 389.0 668.6 390.0 671.4 391.0 669.9 392.0 671.8 393.0 669.4 394.0 672.0 395.0 673.9 396.0 672.7 397.0 667.9 398.0 673.8 399.0 672.9 400.0 671.2 401.0 676.0 402.0 670.0 403.0 677.4 404.0 672.6 405.0 677.2 406.0 674.2 407.0 671.9 408.0 674.9 409.0 675.6 410.0 676.2 411.0 677.4 412.0 673.7 413.0 676.7 414.0 677.4 415.0 675.5 416.0 674.3 417.0 674.4 418.0 677.9 419.0 678.1 420.0 675.0 421.0 674.0 422.0 679.2 422.3 673.6 423.0 677.0 424.0 675.1 425.0 673.2 426.0 677.0 427.0 676.3 428.0 679.6 429.0 681.2 430.0 676.4 431.0 678.8 432.0 678.8 433.0 675.7 434.0 675.0 435.0 679.9 436.0 676.0 437.0 676.7 438.0 676.2 439.0 676.5 440.0 675.6 441.0 678.2 442.0 679.3 443.0 676.0 444.0 674.0 445.0 676.9 446.0 673.8 447.0 675.5 448.0 679.2 448.1 681.4 449.0 677.5 450.0 674.7 451.0 678.4 452.0 672.4 453.0 675.5 454.0 679.9 455.0 678.4 456.0 674.2 457.0 673.7 458.0 678.7 459.0 677.0 460.0 675.9 461.0 677.9 462.0 676.0 463.0 673.4 464.0 678.8 465.0 676.0 466.0 675.3 467.0 674.7 468.0 677.9 469.0 675.8 470.0 678.7 471.0 676.9 472.0 679.6 473.0 676.7 474.0 676.2 475.0 673.6 476.0 675.3 476.2 678.9 477.0 683.6 478.0 674.9 479.0 675.3 480.0 677.9 481.0 678.0 482.0 675.6 483.0 676.9 484.0 673.3 485.0 675.7 486.0 677.9 487.0 679.1 488.0 675.3 489.0 674.9 490.0 676.1 491.0 677.3 492.0 675.8 493.0 673.2 494.0 675.3 495.0 676.4 496.0 673.0 497.0 671.7 497.3 675.4 498.0 675.1 499.0 676.4 500.0 674.7 501.0 673.3 502.0 673.8 503.0 672.7 504.0 672.9 505.0 673.8 506.0 673.9 507.0 675.9 508.0 668.6 509.0 668.8 510.0 666.4 511.0 669.3 512.0 666.4 513.0 665.7 514.0 669.3 515.0 669.4 515.5 669.0 516.0 673.6 517.0 673.6 518.0 677.4 519.0 677.8 520.0 678.4 521.0 677.7 521.2 675.3 522.0 679.0 523.0 677.8 524.0 679.1 525.0 677.8 526.0 676.5 527.0 676.0 528.0 679.4 529.0 680.7 530.0 677.6 531.0 679.1 532.0 681.0 533.0 676.6 534.0 677.7 535.0 676.2 536.0 680.8 537.0 679.0 538.0 677.6 539.0 675.2 540.0 678.2 541.0 680.6 542.0 678.0 543.0 677.8 544.0 679.9 545.0 676.2 546.0 678.8 547.0 679.9 548.0 677.2 549.0 677.1 550.0 679.2 551.0 678.6 552.0 678.3 553.0 679.2 554.0 679.3 555.0 677.0 556.0 677.5 557.0 679.8 558.0 681.1 559.0 681.6 560.0 677.2 560.5 681.1 561.0 680.4 562.0 678.9 563.0 679.9 564.0 680.6 565.0 682.6 566.0 676.9 567.0 680.2 568.0 678.8 569.0 678.7 570.0 681.4 571.0 680.8 572.0 677.1 573.0 678.6 574.0 679.6 575.0 676.4 576.0 680.9 577.0 679.1 578.0 679.6 579.0 679.9 580.0 682.9 581.0 679.4 582.0 678.6 583.0 682.8 584.0 678.4 585.0 678.3 586.0 676.6 587.0 681.5 588.0 680.0 589.0 680.4 590.0 679.8 591.0 679.2 592.0 677.9 593.0 677.9 594.0 680.3 595.0 679.8 596.0 682.7 597.0 678.0 598.0 678.6 599.0 677.5 600.0 682.3 601.0 677.1 602.0 681.1 603.0 682.4 604.0 679.3 605.0 681.0 606.0 675.4 607.0 678.9 608.0 676.3 609.0 680.0 610.0 679.6 611.0 678.1 612.0 681.5 613.0 680.3 614.0 678.6 615.0 678.6 616.0 676.7 616.7 679.3 617.0 683.8 618.0 678.2 619.0 680.5 620.0 678.6 621.0 681.2 622.0 680.5 623.0 679.2 624.0 676.1 625.0 678.6 626.0 682.0 627.0 679.1 628.0 680.8 629.0 678.6 630.0 675.9 631.0 680.4 632.0 680.2 633.0 678.4 634.0 678.8 635.0 680.1 636.0 678.3 637.0 680.1 638.0 679.0 639.0 674.8 640.0 679.1 641.0 678.2 642.0 677.7 643.0 680.1 644.0 678.3 645.0 680.3 646.0 681.4 647.0 679.4 648.0 676.1 649.0 677.6 650.0 680.8 651.0 678.5 651.8 677.4 652.0 678.8 653.0 679.8 654.0 678.9 655.0 679.1 656.0 675.4 657.0 675.6 658.0 674.5 659.0 671.2 660.0 660.1 661.0 655.9 662.0 647.3 663.0 647.4 664.0 642.8 665.0 640.4 665.2 638.6 666.0 637.5 667.0 645.1 668.0 648.8 668.5 653.2 669.0 653.1 670.0 661.0 671.0 670.6 672.0 679.0 672.9 677.5 673.0 682.0 674.0 683.0 675.0 675.0 676.0 677.4 677.0 675.5 678.0 677.0 679.0 676.1 680.0 676.8 681.0 678.7 682.0 678.5 683.0 676.9 684.0 676.2 684.2 676.4 685.0 676.2 686.0 676.5 687.0 674.7 688.0 674.9 689.0 670.4 690.0 673.5 691.0 674.0 692.0 668.9 693.0 663.6 694.0 667.3 695.0 662.9 695.4 657.6 696.0 663.4 697.0 666.6 698.0 668.6 699.0 672.7 700.0 673.2 701.0 673.4 702.0 670.4 703.0 673.2 704.0 676.6 705.0 678.0 705.6 674.7 706.0 675.5 707.0 677.1 708.0 671.4 709.0 670.0 710.0 671.7 711.0 670.9 712.0 667.7 713.0 662.4 714.0 665.4 715.0 661.6 716.0 664.7 716.9 663.0 717.0 663.7 718.0 664.6 719.0 662.7 720.0 665.9 721.0 667.0 721.5 665.4 722.0 666.9 723.0 661.2 724.0 661.4 725.0 657.2 726.0 652.5 726.7 653.8 727.0 653.2 728.0 656.7 729.0 663.8 730.0 671.4 730.9 671.4 731.0 672.4 732.0 670.4 733.0 674.4 734.0 677.3 735.0 677.2 736.0 677.0 737.0 675.2 737.5 674.3 738.0 676.1 739.0 673.4 740.0 673.2 741.0 676.8 742.0 672.4 743.0 676.8 744.0 669.4 745.0 671.9 746.0 667.5 746.8 669.1 747.0 666.4 748.0 666.9 749.0 664.3 750.0 660.9 751.0 659.3 752.0 657.2 752.5 650.8 753.0 650.9 754.0 640.9 755.0 629.8 756.0 621.9 756.2 610.7 757.0 600.6 758.0 578.9 759.0 567.4 760.0 559.0 760.9 563.5 761.0 556.7 762.0 564.2 763.0 572.5 764.0 591.9 764.6 605.9 765.0 612.7 766.0 617.9 766.5 619.4 767.0 620.1 768.0 616.3 769.0 617.8 770.0 620.1 771.0 620.6 771.2 617.8 772.0 619.1 773.0 619.7 774.0 620.0 775.0 621.9 776.0 621.1 777.0 621.5 778.0 618.5 779.0 619.4 779.6 622.1 780.0 618.3 781.0 621.9 782.0 619.8 783.0 619.3 784.0 621.9 785.0 619.0 786.0 618.4 787.0 618.7 787.1 620.2 788.0 626.1 789.0 618.1 790.0 624.6 791.0 626.7 791.8 630.9 792.0 628.6 793.0 626.6 794.0 636.4 795.0 634.0 796.0 638.3 797.0 637.8 798.0 640.1 798.4 642.0 799.0 645.6 800.0 647.0 801.0 645.6 802.0 649.2 803.0 648.8 804.0 650.9 805.0 652.0 806.0 653.9 807.0 652.1 807.7 653.5 808.0 654.3 809.0 654.6 810.0 653.3 811.0 658.7 812.0 654.8 813.0 657.6 814.0 656.9 815.0 659.2 816.0 652.8 817.0 661.4 818.0 657.1 819.0 655.3 820.0 658.1 821.0 662.4 821.8 658.9 822.0 655.5 823.0 657.0 824.0 660.4 825.0 654.8 826.0 656.9 827.0 656.3 828.0 660.8 829.0 655.5 830.0 658.1 831.0 653.6 832.0 651.9 833.0 653.0 834.0 650.0 834.9 644.5 835.0 649.2 836.0 650.9 837.0 651.6 838.0 656.4 839.0 659.6 840.0 660.7 840.5 661.0 841.0 660.8 842.0 661.5 843.0 659.3 844.0 661.8 845.0 658.7 846.0 661.6 847.0 661.1 848.0 658.9 849.0 662.4 850.0 664.2 851.0 662.7 852.0 657.1 853.0 662.0 854.0 659.6 854.6 658.8 855.0 657.6 856.0 658.4 857.0 660.6 858.0 658.3 859.0 655.8 860.0 654.6 861.0 654.4 862.0 655.7 863.0 657.6 864.0 651.2 865.0 652.8 866.0 651.6 867.0 650.5 868.0 652.7 868.6 652.9 869.0 649.0 870.0 649.8 871.0 654.2 872.0 652.5 873.0 653.0 874.0 650.9 875.0 650.7 876.0 651.4 877.0 648.3 878.0 646.1 878.9 647.9 879.0 649.7 880.0 646.8 881.0 652.7 882.0 654.0 883.0 652.2 884.0 654.7 885.0 655.2 886.0 657.1 887.0 657.4 887.4 653.6 888.0 653.4 889.0 657.9 890.0 655.8 891.0 655.9 892.0 655.2 893.0 656.9 894.0 650.8 895.0 654.7 896.0 650.3 897.0 652.8 898.0 653.6 899.0 647.8 899.5 651.2 900.0 649.8 901.0 649.6 902.0 650.0 903.0 647.7 904.0 647.7 905.0 650.7 906.0 650.9 907.0 648.0 908.0 646.1 909.0 653.4 910.0 650.9 911.0 649.3 912.0 646.4 913.0 647.2 914.0 648.8 915.0 646.3 916.0 651.4 917.0 648.4 918.0 648.9 918.7 646.1 919.0 646.3 920.0 646.6 921.0 648.7 922.0 647.7 923.0 647.7 924.0 649.0 925.0 648.8 926.0 651.4 927.0 648.2 928.0 646.7 929.0 648.8 930.0 651.8 931.0 648.0 932.0 649.3 933.0 648.6 934.0 650.3 935.0 650.1 936.0 648.2 937.0 649.5 937.5 651.9 938.0 652.3 939.0 652.2 940.0 652.3 941.0 650.3 942.0 650.6 943.0 653.5 944.0 649.8 945.0 652.4 946.0 649.3 947.0 652.7 948.0 652.5 949.0 652.0 950.0 655.9 951.0 653.8 952.0 654.9 953.0 655.5 954.0 654.9 955.0 659.5 956.0 656.0 956.2 657.4 957.0 654.7 958.0 656.5 959.0 657.0 960.0 657.3 961.0 656.9 962.0 658.5 963.0 661.5 964.0 658.4 965.0 658.5 966.0 658.2 967.0 664.1 968.0 662.5 969.0 660.5 970.0 661.0 971.0 658.4 972.0 659.6 973.0 660.5 974.0 660.4 974.9 658.7 975.0 658.8 976.0 661.5 977.0 661.3 978.0 656.7 979.0 661.2 980.0 663.7 981.0 660.1 982.0 662.0 983.0 658.9 984.0 663.5 985.0 659.8 986.0 659.6 987.0 661.5 988.0 666.9 989.0 661.0 990.0 658.9 991.0 659.9 992.0 656.2 993.0 655.2 994.0 642.1 995.0 631.0 996.0 625.6 996.5 625.7 997.0 626.9 998.0 636.3 999.0 641.7 1000.0 650.3 1001.0 655.4 1002.0 660.1 1003.0 660.9 1004.0 659.7 1005.0 658.9 1006.0 663.0 1007.0 663.4 1008.0 667.1 1009.0 661.6 1010.0 665.4 1011.0 660.0 1012.0 661.6 1012.4 661.4 1013.0 662.0 1014.0 661.6 1015.0 662.6 1016.0 664.0 1017.0 663.6 1018.0 666.1 1019.0 665.0 1020.0 665.4 1021.0 668.4 1021.8 666.2 1022.0 665.8 1023.0 665.4 1024.0 665.2 1025.0 665.8 1026.0 662.6 1027.0 665.8 1028.0 666.2 1029.0 664.9 1030.0 661.4 1031.0 659.1 1031.1 661.4 1032.0 662.6 1033.0 664.1 1034.0 662.3 1035.0 662.4 1036.0 666.4 1037.0 662.5 1038.0 666.4 1039.0 666.6 1040.0 662.8 1041.0 666.5 1042.0 665.5 1043.0 665.2 1044.0 664.0 1045.0 665.1 1046.0 669.4 1047.0 668.2 1048.0 669.9 1049.0 667.5 1049.9 669.1 1050.0 669.2 1051.0 666.9 1052.0 666.7 1053.0 671.0 1054.0 670.5 1055.0 668.5 1056.0 670.2 1057.0 671.8 1058.0 674.2 1059.0 669.0 1060.0 672.0 1061.0 675.0 1062.0 671.1 1063.0 673.9 1064.0 666.0 1065.0 673.9 1066.0 671.1 1067.0 667.5 1068.0 672.7 1068.6 673.2 1069.0 673.5 1070.0 673.5 1071.0 671.0 1072.0 669.5 1073.0 669.9 1074.0 670.6 1075.0 671.2 1076.0 669.2 1077.0 670.0 1078.0 671.3 1079.0 669.9 1080.0 673.3 1081.0 672.6 1082.0 665.7 1083.0 665.5 1084.0 661.6 1085.0 659.4 1086.0 661.2 1086.4 658.0 1087.0 658.4 1088.0 662.2 1089.0 667.4 1090.0 667.6 1090.5 668.2 1091.0 671.1 1092.0 670.8 1093.0 671.3 1094.0 672.7 1095.0 669.2 1096.0 672.0 1097.0 670.5 1098.0 674.0 1099.0 673.6 1099.5 670.0 1100.0 674.7 1101.0 669.8 1102.0 674.4 1103.0 672.5 1104.0 670.4 1105.0 669.9 1106.0 671.5 1107.0 672.0 1108.0 670.7 1109.0 673.2 1110.0 669.4 1111.0 672.1 1112.0 672.1 1113.0 668.4 1114.0 672.7 1115.0 669.6 1116.0 667.2 1117.0 670.9 1118.0 671.7 1119.0 673.9 1120.0 671.2 1121.0 675.0 1122.0 675.0 1123.0 674.3 1124.0 674.7 1125.0 672.8 1126.0 671.0 1127.0 673.4 1128.0 674.0 1128.1 672.6 1129.0 671.7 1130.0 669.1 1131.0 673.5 1132.0 672.8 1133.0 669.6 1134.0 672.3 1135.0 673.6 1136.0 671.9 1137.0 673.7 1138.0 673.6 1139.0 669.2 1140.0 671.5 1141.0 673.1 1142.0 673.9 1143.0 674.9 1144.0 668.4 1145.0 672.0 1146.0 673.3 1147.0 673.6 1148.0 673.5 1149.0 667.2 1150.0 667.2 1151.0 664.5 1152.0 666.7 1153.0 661.4 1153.4 666.3 1154.0 666.1 1155.0 666.8 1156.0 663.8 1157.0 668.8 1158.0 672.6 1158.1 668.3 1159.0 670.0 1160.0 668.4 1161.0 668.1 1162.0 665.1 1162.8 664.5 1163.0 663.1 1164.0 665.6 1165.0 668.2 1166.0 673.1 1167.0 673.7 1167.4 676.5 1168.0 671.4 1169.0 677.7 1170.0 675.5 1171.0 678.5 1172.0 676.9 1173.0 678.7 1174.0 680.3 1175.0 676.5 1176.0 678.0 1177.0 677.6 1178.0 678.5 1179.0 674.9 1179.6 677.8 1180.0 677.6 1181.0 676.5 1182.0 677.6 1183.0 674.9 1184.0 680.6 1185.0 678.6 1186.0 681.3 1187.0 675.8 1188.0 675.1 1189.0 677.9 1190.0 674.0 1190.9 677.7 1191.0 675.8 1192.0 676.6 1193.0 677.8 1194.0 677.6 1195.0 681.3 1196.0 679.1 1197.0 675.5 1198.0 680.2 1199.0 675.9 1200.0 679.0 1201.0 676.7 1202.0 677.8 1203.0 682.3 1204.0 678.9 1205.0 679.0 1206.0 679.4 1207.0 680.1 1208.0 683.8 1209.0 678.8 1210.0 678.8 1211.0 682.5 1212.0 678.3 1212.4 680.7 1213.0 683.7 1214.0 681.4 1215.0 680.5 1216.0 680.0 1217.0 679.6 1218.0 680.3 1219.0 681.7 1220.0 683.9 1221.0 683.3 1222.0 680.3 1223.0 680.0 1224.0 682.8 1225.0 677.8 1226.0 680.5 1227.0 680.8 1228.0 679.2 1229.0 679.4 1230.0 682.1 1231.0 678.1 1232.0 679.6 1233.0 680.1 1234.0 681.6 1235.0 678.7 1235.8 683.5 1236.0 680.8 1237.0 680.7 1238.0 680.2 1239.0 679.1 1240.0 677.9 1241.0 680.4 1242.0 675.3 1243.0 671.0 1244.0 669.8 1245.0 663.4 1246.0 662.8 1247.0 659.0 1248.0 656.1 1249.0 660.6 1250.0 659.3 1251.0 667.3 1251.5 666.1 1252.0 670.8 1253.0 678.3 1254.0 681.4 1254.6 680.2 1255.0 681.4 1256.0 680.9 1257.0 679.4 1258.0 679.7 1259.0 682.0 1260.0 683.1 1261.0 678.6 1262.0 682.0 1263.0 683.2 1264.0 682.5 1265.0 680.3 1266.0 684.4 1267.0 679.9 1268.0 683.6 1268.6 685.5 1269.0 678.3 1270.0 682.4 1271.0 681.7 1272.0 680.5 1273.0 677.4 1274.0 677.2 1275.0 673.8 1276.0 675.2 1277.0 674.4 1278.0 670.9 1278.9 670.0 1279.0 670.9 1280.0 672.9 1281.0 675.4 1282.0 677.7 1283.0 680.0 1284.0 678.6 1285.0 677.1 1286.0 684.7 1287.0 686.8 1287.4 681.3 1288.0 682.8 1289.0 684.6 1290.0 685.8 1291.0 685.1 1292.0 686.2 1293.0 683.4 1294.0 684.1 1295.0 683.8 1296.0 682.0 1297.0 684.9 1298.0 683.6 1299.0 684.1 1300.0 681.2 1301.0 683.9 1302.0 679.6 1303.0 682.3 1304.0 676.3 1305.0 679.3 1306.0 682.6 1307.0 680.2 1308.0 681.3 1309.0 677.6 1310.0 683.7 1311.0 681.7 1312.0 680.4 1313.0 681.1 1314.0 680.7 1315.0 682.7 1316.0 680.1 1317.0 676.6 1318.0 678.8 1318.7 681.6 1319.0 680.1 1320.0 677.8 1321.0 679.4 1322.0 677.9 1323.0 678.3 1324.0 673.3 1325.0 674.0 1326.0 676.5 1327.0 674.1 1328.0 674.7 1328.1 677.8 1329.0 673.0 1330.0 673.6 1331.0 671.6 1332.0 671.0 1333.0 671.7 1334.0 668.6 1335.0 666.9 1336.0 673.3 1337.0 670.1 1338.0 672.0 1339.0 669.6 1340.0 669.3 1341.0 669.8 1342.0 669.4 1342.2 665.5 1343.0 669.8 1344.0 664.9 1345.0 666.5 1346.0 670.3 1347.0 664.7 1348.0 666.9 1349.0 662.1 1350.0 663.2 1351.0 661.2 1352.0 661.2 1353.0 658.0 1354.0 657.3 1355.0 659.2 1356.0 655.1 1357.0 656.3 1358.0 659.1 1358.1 656.6 1359.0 656.1 1360.0 655.9 1361.0 658.6 1362.0 658.0 1363.0 659.4 1364.0 659.3 1365.0 663.9 1366.0 660.1 1367.0 657.8 1368.0 662.5 1369.0 663.0 1370.0 664.0 1371.0 661.2 1372.0 667.2 1373.0 665.5 1374.0 666.0 1374.9 663.4 1375.0 667.5 1376.0 666.8 1377.0 670.0 1378.0 667.0 1379.0 665.7 1380.0 668.8 1381.0 667.1 1382.0 670.0 1383.0 667.5 1384.0 669.7 1385.0 669.8 1386.0 670.5 1387.0 669.9 1388.0 669.7 1389.0 671.5 1390.0 670.9 1391.0 672.7 1392.0 672.3 1393.0 668.8 1393.7 673.4 1394.0 676.3 1395.0 674.7 1396.0 675.9 1397.0 676.2 1398.0 675.1 1399.0 674.0 1400.0 678.9 1401.0 680.0 1402.0 679.7 1403.0 679.9 1404.0 680.4 1405.0 680.0 1406.0 680.8 1407.0 680.5 1407.7 681.1 1408.0 678.7 1409.0 679.2 1410.0 681.5 1411.0 679.6 1412.0 675.4 1413.0 680.1 1414.0 675.3 1415.0 683.2 1416.0 680.7 1417.0 680.5 1418.0 677.9 1419.0 676.9 1420.0 678.8 1421.0 679.5 1422.0 678.4 1423.0 680.7 1424.0 682.4 1425.0 682.8 1426.0 680.3 1427.0 678.8 1428.0 683.5 1429.0 682.6 1430.0 685.1 1431.0 687.5 1431.1 687.5 1432.0 684.9 1433.0 686.4 1434.0 687.4 1435.0 684.3 1436.0 684.7 1437.0 685.8 1438.0 684.0 1439.0 683.1 1440.0 682.6 1441.0 684.0 1442.0 682.7 1443.0 685.4 1444.0 683.2 1445.0 686.6 1446.0 686.1 1446.1 681.5 1447.0 685.9 1448.0 683.2 1449.0 686.7 1450.0 685.3 1451.0 684.5 1452.0 686.1 1453.0 684.0 1454.0 686.1 1455.0 686.5 1456.0 685.8 1457.0 687.1 1458.0 684.8 1459.0 688.0 1460.0 684.9 1461.0 688.6 1462.0 688.4 1463.0 689.0 1463.9 686.6 1464.0 693.4 1465.0 687.2 1466.0 687.9 1467.0 686.2 1468.0 690.4 1469.0 686.7 1470.0 689.5 1471.0 685.8 1472.0 688.2 1473.0 686.9 1474.0 689.4 1475.0 687.0 1476.0 685.9 1477.0 688.4 1478.0 685.2 1479.0 685.7 1480.0 688.9 1481.0 683.9 1482.0 688.9 1483.0 686.7 1484.0 685.7 1485.0 687.8 1486.0 688.6 1487.0 686.2 1488.0 687.0 1489.0 688.8 1490.0 688.7 1491.0 687.2 1492.0 685.8 1493.0 685.5 1494.0 686.1 1495.0 688.5 1496.0 688.3 1497.0 687.8 1498.0 689.9 1499.0 686.7 1499.5 686.5 1500.0 686.5 1501.0 690.8 1502.0 683.3 1503.0 687.8 1504.0 688.1 1505.0 687.4 1506.0 691.7 1507.0 689.5 1508.0 688.8 1509.0 685.6 1510.0 688.3 1511.0 686.6 1512.0 687.4 1513.0 687.8 1514.0 686.5 1515.0 688.6 1516.0 690.5 1517.0 689.4 1518.0 687.9 1519.0 683.9 1520.0 689.6 1521.0 689.6 1522.0 687.2 1523.0 686.7 1524.0 688.9 1525.0 686.2 1526.0 689.2 1527.0 685.7 1528.0 686.0 1529.0 687.8 1530.0 685.1 1531.0 687.9 1532.0 688.9 1533.0 685.4 1534.0 689.7 1535.0 686.9 1536.0 689.0 1537.0 688.4 1538.0 687.2 1539.0 687.1 1540.0 684.9 1541.0 686.8 1542.0 686.7 1543.0 691.3 1544.0 690.1 1545.0 685.6 1546.0 689.7 1547.0 688.7 1548.0 687.6 1549.0 689.2 1550.0 689.8 1551.0 687.3 1552.0 687.8 1553.0 688.7 1554.0 686.5 1555.0 688.7 1556.0 688.2 1557.0 687.1 1558.0 686.8 1559.0 689.0 1559.8 690.0 1560.0 689.0 1561.0 686.8 1562.0 689.8 1563.0 688.6 1564.0 689.4 1565.0 690.4 1566.0 686.4 1567.0 687.7 1568.0 686.8 1569.0 686.1 1570.0 691.4 1571.0 689.3 1572.0 684.1 1573.0 688.0 1574.0 686.0 1575.0 689.1 1576.0 686.9 1577.0 686.2 1578.0 686.6 1579.0 686.9 1580.0 686.1 1581.0 685.4 1582.0 685.4 1583.0 686.4 1584.0 683.2 1585.0 685.1 1586.0 684.7 1587.0 683.8 1588.0 685.9 1589.0 682.0 1590.0 683.5 1591.0 682.5 1592.0 684.9 1593.0 682.9 1594.0 683.7 1595.0 684.2 1596.0 680.4 1597.0 684.1 1598.0 681.7 1599.0 682.6 1600.0 682.8 1601.0 684.4 1602.0 684.2 1603.0 686.1 1604.0 683.1 1604.7 681.9 1605.0 681.9 1606.0 684.0 1607.0 685.9 1608.0 683.6 1609.0 681.9 1610.0 683.6 1611.0 683.7 1612.0 683.4 1613.0 682.1 1614.0 678.9 1615.0 682.8 1616.0 685.9 1617.0 684.5 1618.0 680.2 1619.0 684.5 1620.0 681.2 1621.0 688.6 1622.0 685.4 1623.0 683.0 1624.0 687.0 1625.0 684.2 1626.0 686.9 1627.0 686.1 1628.0 684.0 1629.0 687.7 1630.0 684.1 1631.0 689.2 1632.0 687.0 1633.0 685.1 1634.0 683.8 1635.0 690.3 1636.0 690.0 1637.0 685.1 1638.0 690.5 1639.0 687.8 1640.0 687.1 1641.0 687.3 1642.0 687.0 1643.0 690.1 1644.0 687.7 1645.0 684.0 1646.0 691.3 1647.0 689.0 1648.0 685.3 1649.0 686.6 1650.0 685.5 1651.0 687.2 1652.0 687.8 1653.0 687.5 1654.0 685.8 1655.0 685.4 1656.0 688.4 1657.0 686.5 1658.0 690.9 1659.0 685.1 1660.0 688.0 1661.0 686.5 1662.0 684.9 1663.0 688.8 1664.0 686.4 1665.0 684.5 1666.0 685.5 1667.0 687.9 1668.0 683.6 1669.0 688.4 1670.0 687.1 1671.0 685.2 1672.0 688.2 1673.0 688.9 1674.0 686.7 1675.0 685.9 1676.0 689.0 1677.0 688.3 1678.0 683.7 1679.0 685.0 1680.0 685.0 1681.0 684.6 1681.7 682.6 1682.0 687.1 1683.0 685.6 1684.0 685.6 1685.0 688.0 1686.0 684.3 1687.0 685.3 1688.0 685.9 1689.0 684.6 1690.0 685.2 1691.0 686.9 1692.0 685.4 1693.0 687.9 1694.0 684.0 1695.0 685.8 1696.0 682.8 1697.0 685.3 1698.0 684.2 1699.0 688.0 1700.0 686.9 1701.0 686.5 1702.0 689.0 1703.0 688.2 1704.0 686.9 1705.0 684.3 1706.0 682.9 1707.0 685.5 1708.0 684.9 1709.0 684.4 1710.0 685.1 1711.0 682.5 1712.0 688.5 1713.0 683.5 1714.0 684.4 1715.0 686.8 1716.0 682.7 1717.0 687.5 1718.0 687.5 1719.0 685.2 1720.0 683.8 1721.0 684.9 1722.0 682.4 1723.0 688.5 1724.0 686.0 1725.0 684.5 1726.0 684.2 1727.0 687.1 1728.0 688.8 1729.0 683.6 1730.0 685.0 1731.0 682.7 1732.0 687.4 1733.0 686.4 1734.0 690.4 1735.0 685.9 1736.0 685.4 1737.0 684.9 1738.0 687.9 1739.0 683.2 1740.0 687.7 1741.0 686.8 1742.0 685.4 1743.0 684.7 1744.0 688.4 1745.0 690.0 1746.0 685.6 1747.0 687.5 1748.0 689.8 1749.0 685.4 1750.0 686.1 1751.0 684.3 1752.0 686.4 1753.0 686.5 1754.0 685.9 1755.0 685.3 1756.0 683.8 1757.0 684.2 1758.0 685.0 1759.0 688.1 1760.0 685.9 1761.0 685.3 1762.0 688.2 1763.0 688.1 1764.0 685.6 1765.0 685.9 1766.0 688.3 1767.0 687.8 1768.0 685.6 1769.0 687.6 1770.0 687.2 1771.0 689.4 1772.0 685.6 1773.0 689.0 1774.0 688.2 1775.0 685.5 1776.0 689.4 1777.0 689.2 1778.0 685.0 1779.0 691.3 1780.0 685.4 1781.0 685.8 1782.0 687.0 1783.0 689.1 1784.0 688.8 1785.0 687.5 1786.0 690.4 1787.0 688.6 1788.0 690.5 1789.0 693.2 1790.0 688.3 1791.0 683.0 1792.0 687.1 1793.0 685.9 1794.0 688.2 1795.0 688.2 1796.0 685.7 1797.0 685.9 1798.0 687.6 1799.0 687.8 1800.0 683.2 1801.0 690.1 1802.0 688.3 1803.0 688.3 1804.0 688.9 1805.0 686.4 1806.0 688.3 1807.0 690.5 1808.0 690.6 1809.0 689.4 1810.0 688.0 1811.0 687.0 1812.0 691.2 1813.0 689.7 1814.0 687.9 1815.0 684.5 1816.0 687.0 1817.0 685.0 1818.0 691.2 1819.0 689.2 1820.0 687.4 1821.0 688.3 1822.0 694.0 1823.0 691.3 1824.0 686.4 1825.0 688.7 1826.0 686.6 1827.0 685.7 1828.0 689.4 1829.0 693.8 1830.0 692.2 1831.0 689.3 1832.0 688.5 1833.0 689.6 1834.0 691.3 1835.0 686.4 1836.0 685.6 1837.0 693.0 1838.0 689.9 1839.0 692.5 1840.0 689.9 1841.0 692.3 1842.0 688.3 1843.0 690.5 1844.0 692.6 1845.0 691.5 1846.0 688.6 1847.0 691.3 1848.0 688.3 1848.4 686.8 1849.0 690.6 1850.0 692.4 1851.0 691.3 1852.0 687.2 1853.0 691.4 1854.0 691.1 1855.0 688.8 1856.0 684.8 1857.0 691.8 1858.0 691.6 1859.0 690.8 1860.0 686.4 1861.0 686.9 1862.0 691.9 1863.0 691.5 1864.0 690.9 1865.0 689.5 1866.0 690.8 1867.0 688.9 1868.0 689.4 1869.0 688.3 1870.0 690.6 1871.0 689.2 1872.0 692.0 1873.0 691.6 1874.0 688.5 1875.0 693.8 1876.0 688.0 1877.0 691.1 1878.0 692.4 1879.0 692.8 1880.0 685.9 1881.0 692.3 1882.0 692.7 1883.0 693.2 1884.0 685.9 1885.0 689.0 1886.0 690.2 1887.0 689.5 1888.0 693.1 1889.0 689.1 1890.0 692.9 1891.0 691.6 1892.0 687.6 1893.0 688.6 1894.0 689.6 1895.0 690.8 1896.0 692.6 1897.0 690.3 1898.0 692.5 1899.0 687.5 1900.0 684.6 1901.0 690.0 1902.0 691.6 1903.0 690.0 1904.0 688.7 1905.0 691.6 1906.0 694.7 1907.0 690.6 1908.0 689.4 1909.0 689.2 1910.0 694.8 1911.0 690.8 1912.0 692.1 1913.0 693.4 1914.0 693.1 1915.0 689.1 1916.0 692.9 1917.0 692.7 1918.0 692.0 1919.0 693.1 1920.0 690.0 1921.0 691.0 1922.0 690.1 1923.0 692.7 1924.0 689.9 1925.0 692.0 1926.0 689.0 1927.0 691.0 1928.0 690.5 1929.0 691.0 1930.0 691.5 1931.0 690.9 1932.0 690.9 1933.0 687.2 1934.0 693.6 1935.0 690.1 1936.0 690.9 1937.0 689.8 1938.0 693.4 1939.0 689.6 1940.0 692.5 1941.0 693.8 1942.0 694.8 1943.0 693.9 1944.0 692.8 1945.0 689.2 1946.0 694.2 1947.0 694.0 1948.0 693.3 1949.0 693.3 1950.0 691.8 1951.0 690.7 1952.0 693.9 1953.0 694.3 1954.0 689.7 1955.0 693.6 1956.0 692.3 1957.0 693.6 1958.0 692.4 1959.0 694.1 1960.0 693.9 1961.0 693.7 1962.0 689.2 1963.0 693.6 1964.0 692.0 1965.0 689.7 1966.0 693.4 1967.0 689.3 1968.0 693.8 1969.0 695.4 1970.0 691.1 1971.0 693.9 1972.0 693.0 1973.0 693.4 1974.0 689.5 1975.0 693.4 1976.0 692.4 1977.0 693.7 1978.0 692.2 1979.0 694.4 1980.0 692.8 1981.0 693.6 1982.0 695.0 1983.0 692.7 1984.0 694.3 1985.0 692.8 1986.0 693.4 1987.0 691.4 1988.0 693.9 1989.0 694.9 1990.0 692.3 1991.0 694.0 1992.0 693.3 1993.0 690.3 1994.0 693.2 1995.0 695.2 1996.0 691.6 1997.0 689.1 1998.0 693.0 1999.0 691.3 2000.0 696.4 2001.0 692.6 2002.0 692.7 2003.0 691.4 2004.0 693.2 2005.0 691.6 2006.0 691.0 2007.0 692.6 2008.0 691.2 2009.0 695.4 2010.0 690.5 2011.0 692.7 2012.0 691.5 2013.0 690.2 2014.0 696.1 2015.0 688.8 2016.0 695.8 2017.0 690.2 2018.0 693.1 2019.0 697.4 2020.0 688.8 2021.0 690.3 2022.0 695.6 2023.0 693.4 2024.0 692.0 2025.0 693.0 2026.0 691.2 2027.0 693.3 2028.0 696.0 2029.0 692.4 2030.0 693.4 2031.0 695.5 2032.0 697.1 2033.0 692.0 2034.0 693.8 2035.0 692.1 2036.0 692.0 2037.0 692.5 2038.0 692.0 2039.0 689.9 2040.0 689.4 2041.0 691.9 2042.0 693.6 2043.0 695.7 2044.0 692.3 2045.0 693.1 2046.0 694.7 2047.0 694.9 2048.0 693.2 2049.0 693.3 2050.0 697.1 2051.0 692.8 2052.0 692.5 2053.0 690.3 2054.0 694.4 2055.0 693.0 2056.0 697.3 2057.0 692.9 2058.0 695.2 2059.0 695.4 2060.0 696.8 2061.0 691.1 2062.0 696.7 2063.0 693.7 2064.0 693.5 2065.0 693.1 2066.0 692.9 2067.0 693.1 2068.0 689.2 2069.0 694.8 2070.0 693.9 2071.0 691.9 2072.0 693.7 2073.0 698.3 2074.0 694.6 2075.0 693.1 2076.0 697.2 2077.0 692.3" fill="none" stroke="#D966F8" stroke-width="6.0" stroke-linejoin="round" stroke-linecap="round"/>
<path d="M126.0 825.2 127.0 824.5 128.0 825.2 129.0 827.4 130.0 827.2 131.0 824.4 132.0 825.8 133.0 826.4 134.0 825.4 135.0 826.3 136.0 824.9 137.0 825.0 138.0 826.8 139.0 824.6 140.0 827.8 141.0 826.6 142.0 825.1 143.0 825.9 144.0 826.3 145.0 827.1 146.0 827.8 147.0 827.2 148.0 825.9 149.0 831.0 150.0 830.0 151.0 828.4 151.1 830.2 152.0 829.0 153.0 827.9 154.0 828.7 155.0 834.4 156.0 831.0 157.0 831.2 158.0 828.3 159.0 830.6 160.0 834.3 161.0 830.6 162.0 832.1 163.0 832.7 164.0 831.5 165.0 833.7 166.0 831.0 167.0 831.7 168.0 829.5 169.0 836.6 170.0 831.8 171.0 831.5 172.0 834.4 173.0 830.6 174.0 831.7 175.0 830.2 176.0 832.0 177.0 831.3 178.0 833.4 179.0 832.1 179.2 831.1 180.0 831.8 181.0 832.3 182.0 831.5 183.0 834.7 184.0 834.3 185.0 833.2 186.0 830.5 187.0 834.2 188.0 830.5 189.0 833.7 190.0 833.5 191.0 832.2 192.0 831.8 193.0 832.1 194.0 838.1 195.0 833.2 196.0 833.4 197.0 835.9 198.0 834.9 199.0 836.3 200.0 831.5 201.0 831.8 202.0 841.3 203.0 834.2 204.0 833.7 205.0 834.7 206.0 836.5 207.0 831.9 207.3 835.1 208.0 834.4 209.0 835.9 210.0 834.9 211.0 833.5 212.0 832.8 213.0 829.5 214.0 836.8 215.0 831.6 216.0 833.9 217.0 838.3 218.0 833.9 219.0 836.1 220.0 834.4 221.0 836.3 222.0 834.9 223.0 833.8 224.0 837.8 225.0 834.4 226.0 832.1 227.0 834.3 228.0 836.1 229.0 832.7 230.0 836.7 231.0 836.7 232.0 839.6 233.0 833.7 234.0 836.5 235.0 831.6 235.4 834.3 236.0 835.4 237.0 836.1 238.0 835.1 239.0 835.1 240.0 834.0 241.0 834.4 242.0 836.0 243.0 836.6 244.0 836.8 245.0 837.6 246.0 838.0 247.0 831.7 248.0 834.4 249.0 835.2 250.0 834.3 251.0 837.9 252.0 837.3 253.0 835.5 254.0 836.0 255.0 838.4 256.0 835.0 257.0 835.1 258.0 837.7 259.0 836.8 260.0 838.8 261.0 836.6 262.0 837.4 263.0 834.7 263.5 833.9 264.0 835.8 265.0 830.3 266.0 836.7 267.0 837.9 268.0 836.0 269.0 835.4 270.0 838.1 271.0 835.7 272.0 837.9 273.0 840.4 274.0 837.3 275.0 837.7 276.0 836.8 277.0 836.2 278.0 836.3 279.0 835.8 280.0 837.9 281.0 832.2 282.0 835.0 283.0 836.9 284.0 833.7 285.0 835.2 286.0 834.0 287.0 836.3 288.0 837.1 289.0 838.3 290.0 836.3 291.0 833.7 291.6 835.7 292.0 836.3 293.0 838.0 294.0 830.3 295.0 835.4 296.0 830.5 297.0 835.5 298.0 834.6 299.0 834.3 300.0 834.7 301.0 833.3 302.0 830.8 303.0 832.5 304.0 834.0 305.0 830.9 305.7 831.0 306.0 828.3 307.0 833.1 308.0 829.4 309.0 828.7 310.0 829.1 311.0 828.0 312.0 829.1 313.0 832.1 314.0 830.9 315.0 832.1 316.0 832.0 317.0 826.8 318.0 829.5 319.0 831.5 319.7 833.0 320.0 825.1 321.0 824.9 322.0 828.6 323.0 826.7 324.0 825.0 325.0 827.6 326.0 824.9 327.0 821.5 328.0 825.9 329.0 826.0 330.0 826.8 331.0 827.2 332.0 825.3 333.0 824.3 334.0 823.2 335.0 821.0 336.0 823.4 337.0 826.4 338.0 825.6 339.0 828.6 340.0 824.1 341.0 820.8 342.0 826.6 343.0 827.3 344.0 823.0 345.0 822.5 346.0 826.6 347.0 828.2 348.0 824.8 349.0 826.9 350.0 826.5 351.0 826.1 352.0 826.3 353.0 829.8 354.0 829.1 354.8 828.8 355.0 824.8 356.0 834.4 357.0 829.1 358.0 831.2 359.0 829.6 360.0 833.2 361.0 829.7 362.0 833.5 363.0 833.4 364.0 836.2 365.0 832.4 366.0 833.8 367.0 835.1 368.0 840.4 369.0 833.3 370.0 837.4 371.0 835.8 372.0 838.2 373.0 839.2 374.0 838.4 375.0 839.0 375.9 839.2 376.0 837.4 377.0 838.4 378.0 835.6 379.0 838.5 380.0 837.9 381.0 839.1 382.0 841.4 383.0 840.8 384.0 841.2 385.0 842.7 386.0 835.5 387.0 841.6 388.0 840.8 389.0 840.8 390.0 838.4 391.0 842.4 392.0 843.8 393.0 843.7 394.0 841.5 395.0 843.2 396.0 843.9 397.0 845.9 398.0 844.8 399.0 842.6 400.0 842.6 401.0 842.9 402.0 843.2 403.0 841.8 404.0 844.5 405.0 841.6 406.0 841.5 407.0 844.0 408.0 842.2 409.0 843.0 410.0 839.3 411.0 845.5 412.0 843.9 413.0 843.8 414.0 845.1 415.0 844.7 416.0 842.9 417.0 848.7 418.0 843.6 419.0 846.7 420.0 848.5 421.0 843.4 422.0 844.9 422.3 843.0 423.0 846.9 424.0 844.0 425.0 842.4 426.0 847.5 427.0 846.6 428.0 842.8 429.0 847.2 430.0 845.1 431.0 850.4 432.0 848.3 433.0 843.5 434.0 844.1 435.0 842.8 436.0 845.0 437.0 844.8 438.0 846.2 439.0 844.9 440.0 841.6 441.0 843.0 442.0 847.6 443.0 847.1 444.0 844.3 445.0 844.4 446.0 844.3 447.0 844.7 448.0 841.1 449.0 846.5 450.0 843.3 451.0 844.9 452.0 839.3 453.0 845.1 454.0 847.4 455.0 839.9 456.0 847.8 457.0 845.6 457.2 843.1 458.0 841.3 459.0 847.0 460.0 845.1 461.0 845.8 462.0 843.9 463.0 842.8 464.0 846.3 465.0 842.4 466.0 846.3 467.0 840.8 468.0 842.3 469.0 841.2 470.0 846.9 471.0 840.4 472.0 841.6 473.0 845.3 474.0 844.4 475.0 848.4 476.0 847.6 477.0 845.0 478.0 845.0 479.0 839.7 480.0 841.6 481.0 842.7 482.0 842.9 483.0 840.3 484.0 841.2 485.0 841.3 486.0 845.2 487.0 843.8 488.0 842.1 489.0 842.1 490.0 843.2 491.0 841.1 492.0 841.9 493.0 838.8 494.0 843.7 495.0 844.3 496.0 843.0 497.0 843.1 498.0 842.8 499.0 846.3 500.0 842.4 501.0 839.1 502.0 839.6 503.0 843.3 504.0 844.0 505.0 843.3 506.0 843.4 507.0 842.0 508.0 838.4 509.0 840.1 510.0 837.7 511.0 840.7 512.0 838.6 513.0 841.7 513.4 841.1 514.0 837.4 515.0 843.0 516.0 843.1 517.0 838.6 518.0 841.8 519.0 843.0 520.0 840.9 521.0 843.3 522.0 841.9 523.0 843.8 524.0 841.9 525.0 841.2 526.0 842.6 527.0 843.2 528.0 842.1 529.0 840.6 530.0 839.9 531.0 840.8 532.0 840.4 533.0 842.0 534.0 841.9 535.0 841.4 536.0 841.6 537.0 842.0 538.0 844.9 539.0 844.2 540.0 840.4 541.0 842.5 542.0 841.0 543.0 841.5 544.0 841.2 545.0 840.4 546.0 838.8 547.0 836.5 548.0 842.2 549.0 844.2 550.0 839.8 551.0 842.8 552.0 841.0 553.0 842.4 554.0 840.1 555.0 841.3 556.0 841.6 557.0 836.8 558.0 842.3 559.0 841.6 560.0 836.6 561.0 843.3 562.0 841.8 563.0 842.3 564.0 842.7 565.0 841.0 566.0 839.7 567.0 841.0 568.0 841.1 569.0 846.7 570.0 845.9 571.0 841.0 572.0 841.1 573.0 842.7 574.0 843.2 575.0 840.6 576.0 839.9 577.0 846.2 578.0 844.3 579.0 838.8 580.0 838.3 581.0 840.4 582.0 842.6 583.0 843.3 584.0 841.4 585.0 838.7 586.0 842.7 587.0 843.5 588.0 842.2 589.0 841.2 590.0 843.5 591.0 842.2 592.0 839.9 593.0 842.5 594.0 839.6 595.0 844.4 596.0 843.4 597.0 840.3 598.0 842.9 599.0 845.1 600.0 837.9 601.0 842.2 602.0 846.0 603.0 839.2 604.0 842.2 605.0 839.5 606.0 842.4 607.0 837.4 608.0 839.1 609.0 841.5 610.0 842.9 611.0 843.4 612.0 843.6 613.0 845.1 614.0 844.2 615.0 844.3 616.0 840.6 617.0 842.4 618.0 849.6 619.0 847.6 620.0 844.6 621.0 844.4 622.0 844.9 623.0 842.0 624.0 847.0 625.0 842.0 626.0 842.7 627.0 847.6 628.0 838.4 629.0 843.7 630.0 839.2 631.0 841.5 632.0 842.7 633.0 842.2 634.0 843.3 635.0 841.3 636.0 842.7 637.0 840.4 638.0 842.1 639.0 839.9 640.0 844.4 641.0 840.1 642.0 844.4 643.0 842.0 644.0 842.2 645.0 845.3 646.0 842.9 647.0 838.5 648.0 843.5 649.0 836.0 650.0 842.8 651.0 841.2 652.0 838.8 653.0 841.9 654.0 840.8 655.0 845.6 656.0 840.1 657.0 845.0 658.0 843.5 659.0 838.9 660.0 838.2 661.0 842.1 662.0 837.6 663.0 836.7 664.0 834.2 665.0 830.9 666.0 832.1 666.2 830.8 667.0 830.0 668.0 834.2 669.0 840.7 670.0 842.5 671.0 840.7 672.0 842.2 673.0 843.5 674.0 845.9 675.0 844.0 676.0 842.6 677.0 843.2 678.0 846.8 679.0 850.2 680.0 843.3 681.0 840.3 682.0 846.6 682.2 844.7 683.0 845.1 684.0 847.3 685.0 844.4 686.0 840.9 687.0 839.0 688.0 842.6 689.0 839.6 690.0 842.2 691.0 838.2 692.0 839.7 693.0 836.8 694.0 838.8 695.0 838.4 696.0 840.5 696.2 842.2 697.0 838.8 698.0 837.4 699.0 843.6 700.0 840.2 701.0 840.8 702.0 840.8 703.0 842.8 704.0 841.9 705.0 841.2 706.0 841.5 707.0 838.0 708.0 838.6 709.0 839.7 710.0 840.1 711.0 839.9 712.0 840.5 713.0 839.7 714.0 838.5 715.0 835.6 716.0 840.6 717.0 839.8 718.0 836.2 719.0 838.9 720.0 838.3 721.0 837.3 722.0 832.8 723.0 833.9 724.0 835.0 725.0 839.7 726.0 834.1 727.0 835.2 727.1 833.5 728.0 834.9 729.0 836.9 730.0 831.8 731.0 830.5 732.0 838.6 733.0 837.6 734.0 836.7 735.0 840.6 736.0 841.1 737.0 834.8 738.0 839.5 739.0 842.7 740.0 839.1 741.0 840.1 742.0 843.1 743.0 840.5 744.0 838.3 745.0 839.3 746.0 837.5 747.0 841.2 748.0 835.6 749.0 840.8 750.0 834.1 751.0 836.8 752.0 832.2 752.4 834.2 753.0 835.7 754.0 831.0 755.0 823.9 756.0 811.7 756.2 810.2 757.0 799.3 758.0 781.0 758.5 769.1 759.0 761.0 760.0 733.7 760.8 726.0 761.0 724.8 762.0 733.3 763.0 743.3 764.0 762.5 764.6 772.1 765.0 781.3 766.0 800.0 767.0 815.5 767.4 813.1 768.0 824.3 769.0 818.8 770.0 823.4 771.0 824.1 772.0 817.2 773.0 822.9 774.0 827.3 775.0 819.3 775.8 826.8 776.0 823.2 777.0 824.8 778.0 826.8 779.0 822.7 780.0 827.7 781.0 826.2 782.0 826.4 783.0 829.9 784.0 836.4 785.0 829.8 786.0 830.6 787.0 829.6 788.0 828.4 789.0 831.0 789.9 834.1 790.0 831.2 791.0 833.1 792.0 831.1 793.0 837.6 794.0 828.9 795.0 834.2 796.0 834.6 797.0 834.4 798.0 831.9 799.0 832.3 800.0 834.7 801.0 835.8 802.0 833.4 803.0 834.1 804.0 838.1 805.0 839.4 806.0 836.3 807.0 836.3 808.0 836.5 808.6 843.7 809.0 839.4 810.0 838.4 811.0 841.0 812.0 844.1 813.0 841.8 814.0 836.3 815.0 839.5 816.0 839.0 817.0 839.3 818.0 837.6 819.0 839.5 820.0 838.1 821.0 841.3 822.0 840.7 822.7 837.5 823.0 836.9 824.0 839.5 825.0 842.0 826.0 841.6 827.0 840.3 828.0 833.1 829.0 839.1 830.0 838.4 831.0 839.2 832.0 835.6 833.0 833.4 834.0 828.1 835.0 830.9 836.0 823.2 836.7 820.5 837.0 821.0 838.0 824.4 839.0 831.0 840.0 835.5 841.0 839.9 842.0 843.6 843.0 843.7 844.0 842.6 845.0 844.8 846.0 842.4 847.0 839.7 848.0 838.0 849.0 840.2 850.0 841.6 851.0 842.6 852.0 844.0 853.0 840.3 854.0 839.7 855.0 843.1 856.0 844.0 857.0 840.2 858.0 842.0 859.0 844.2 860.0 841.8 861.0 840.9 862.0 836.3 863.0 843.8 864.0 842.2 865.0 841.0 866.0 839.6 867.0 837.8 868.0 840.3 869.0 840.2 870.0 842.8 871.0 837.7 872.0 843.5 873.0 840.4 874.0 842.9 875.0 838.1 876.0 841.0 877.0 842.9 878.0 840.4 879.0 836.9 880.0 839.4 881.0 841.3 882.0 837.0 883.0 836.9 884.0 840.5 885.0 837.9 886.0 841.5 887.0 837.3 888.0 835.9 889.0 838.2 890.0 843.1 891.0 837.9 892.0 839.7 893.0 840.2 894.0 837.5 895.0 842.0 896.0 839.9 897.0 840.4 898.0 835.6 899.0 835.4 900.0 832.6 901.0 837.0 902.0 835.4 903.0 836.1 904.0 837.0 904.4 833.1 905.0 833.0 906.0 834.6 907.0 837.0 908.0 831.9 909.0 835.1 910.0 833.2 911.0 833.0 912.0 835.6 913.0 832.1 914.0 831.6 915.0 835.5 916.0 834.0 917.0 833.6 918.0 834.0 919.0 835.4 920.0 833.6 921.0 836.2 922.0 835.6 923.0 838.0 924.0 837.6 925.0 836.9 926.0 834.6 927.0 835.5 928.0 834.0 929.0 841.7 930.0 835.1 931.0 837.0 932.0 838.9 933.0 833.0 934.0 834.3 935.0 835.4 936.0 834.3 937.0 833.8 938.0 835.6 939.0 839.7 940.0 838.6 941.0 837.3 942.0 837.4 943.0 833.8 944.0 839.2 945.0 838.7 946.0 835.6 947.0 838.5 948.0 837.8 949.0 837.2 950.0 836.3 951.0 837.2 952.0 836.7 953.0 840.0 954.0 839.9 955.0 839.9 956.0 839.0 957.0 838.6 958.0 844.2 959.0 835.8 960.0 842.7 961.0 841.0 962.0 840.6 963.0 839.6 964.0 840.4 965.0 838.5 966.0 838.3 967.0 841.3 968.0 838.1 969.0 843.9 970.0 844.7 971.0 834.9 972.0 839.3 973.0 843.5 974.0 843.6 975.0 843.6 976.0 844.5 977.0 845.4 978.0 845.8 979.0 848.0 980.0 844.3 981.0 846.3 982.0 840.9 983.0 844.3 984.0 842.0 985.0 847.9 986.0 850.0 987.0 846.1 988.0 842.1 988.7 844.7 989.0 845.0 990.0 845.1 991.0 846.6 992.0 845.5 993.0 836.5 994.0 844.0 995.0 831.8 996.0 816.7 997.0 808.1 998.0 794.6 999.0 783.7 1000.0 780.1 1001.0 786.9 1002.0 797.3 1003.0 808.2 1004.0 817.3 1005.0 831.1 1006.0 843.5 1007.0 840.4 1008.0 845.5 1009.0 843.4 1009.3 843.5 1010.0 842.6 1011.0 844.0 1012.0 842.5 1013.0 842.3 1014.0 843.7 1015.0 842.8 1016.0 845.0 1017.0 844.8 1018.0 844.2 1019.0 844.5 1020.0 844.6 1021.0 849.1 1022.0 845.4 1023.0 844.3 1024.0 845.1 1025.0 847.4 1026.0 845.6 1027.0 845.9 1028.0 845.8 1029.0 846.8 1030.0 847.5 1031.0 847.7 1032.0 843.2 1033.0 844.6 1034.0 841.3 1035.0 848.9 1036.0 849.7 1037.0 850.2 1038.0 847.8 1039.0 850.1 1040.0 847.5 1041.0 847.4 1042.0 844.4 1043.0 846.1 1044.0 846.6 1045.0 850.0 1046.0 851.7 1047.0 847.1 1048.0 849.0 1049.0 848.8 1050.0 846.6 1051.0 844.5 1052.0 846.7 1053.0 845.2 1054.0 847.7 1055.0 848.2 1056.0 848.1 1057.0 848.1 1058.0 849.6 1059.0 846.5 1060.0 850.5 1061.0 844.9 1062.0 848.7 1063.0 849.5 1064.0 846.9 1065.0 845.1 1066.0 850.0 1067.0 847.2 1067.4 850.4 1068.0 850.3 1069.0 848.6 1070.0 848.6 1071.0 850.7 1072.0 849.3 1073.0 846.4 1074.0 848.7 1075.0 849.4 1076.0 848.5 1077.0 848.4 1078.0 847.5 1079.0 847.3 1080.0 845.3 1081.0 844.0 1082.0 849.4 1083.0 844.5 1084.0 844.2 1085.0 837.7 1086.0 838.7 1087.0 834.4 1088.0 841.9 1089.0 834.2 1090.0 836.6 1091.0 843.7 1092.0 846.8 1093.0 841.3 1094.0 847.3 1095.0 849.3 1095.5 844.8 1096.0 849.0 1097.0 846.4 1098.0 845.4 1099.0 846.9 1100.0 846.7 1101.0 844.8 1102.0 852.7 1103.0 846.9 1104.0 846.3 1105.0 849.9 1106.0 847.9 1107.0 851.0 1108.0 847.5 1109.0 848.9 1110.0 848.4 1111.0 848.6 1112.0 847.8 1113.0 848.0 1114.0 852.0 1115.0 846.8 1116.0 847.1 1117.0 847.6 1118.0 849.6 1119.0 849.3 1120.0 850.4 1121.0 845.5 1122.0 849.0 1123.0 848.0 1124.0 847.8 1125.0 848.8 1126.0 844.1 1127.0 849.0 1128.0 848.8 1129.0 845.3 1130.0 848.2 1131.0 851.8 1132.0 847.5 1133.0 849.6 1134.0 847.8 1135.0 846.4 1136.0 846.1 1137.0 847.1 1138.0 850.7 1139.0 849.6 1140.0 846.1 1141.0 849.7 1142.0 847.1 1143.0 845.8 1144.0 848.1 1145.0 845.0 1146.0 843.5 1147.0 849.6 1148.0 842.7 1149.0 847.8 1150.0 843.2 1151.0 846.4 1152.0 846.0 1153.0 845.5 1153.5 841.7 1154.0 846.2 1155.0 846.4 1156.0 844.5 1157.0 846.4 1158.0 848.7 1159.0 845.1 1160.0 847.3 1161.0 844.3 1162.0 847.7 1163.0 848.3 1164.0 852.5 1165.0 849.3 1166.0 848.5 1167.0 850.9 1168.0 846.1 1169.0 850.9 1170.0 847.7 1171.0 847.9 1172.0 851.9 1173.0 850.3 1174.0 852.8 1175.0 846.8 1176.0 850.5 1177.0 848.8 1178.0 849.3 1179.0 845.8 1180.0 851.9 1181.0 850.3 1182.0 847.7 1183.0 846.9 1184.0 847.9 1185.0 852.8 1186.0 849.5 1187.0 849.0 1188.0 850.7 1189.0 849.7 1190.0 850.1 1191.0 851.2 1192.0 850.3 1193.0 851.4 1194.0 846.9 1195.0 849.6 1196.0 848.7 1197.0 849.7 1198.0 849.4 1198.5 848.1 1199.0 848.7 1200.0 851.5 1201.0 848.3 1202.0 846.9 1203.0 851.0 1204.0 851.9 1205.0 849.3 1206.0 850.3 1207.0 848.3 1208.0 849.8 1209.0 852.7 1210.0 852.2 1211.0 850.9 1212.0 850.1 1213.0 847.3 1214.0 851.6 1215.0 852.0 1216.0 853.3 1217.0 855.5 1218.0 852.1 1219.0 853.4 1220.0 849.0 1221.0 854.1 1222.0 853.5 1223.0 854.6 1224.0 853.2 1225.0 852.8 1226.0 855.1 1227.0 850.6 1228.0 853.5 1229.0 854.5 1230.0 850.5 1231.0 849.8 1232.0 853.3 1233.0 852.6 1234.0 853.7 1235.0 853.8 1236.0 850.8 1237.0 853.1 1238.0 854.5 1239.0 851.0 1240.0 850.7 1241.0 848.2 1242.0 851.7 1243.0 853.2 1244.0 843.6 1245.0 843.5 1246.0 838.5 1247.0 830.8 1248.0 827.1 1249.0 821.9 1250.0 820.7 1251.0 825.1 1252.0 831.3 1253.0 835.3 1254.0 841.4 1255.0 844.7 1256.0 845.9 1257.0 854.1 1258.0 855.1 1259.0 852.2 1260.0 858.1 1260.3 855.3 1261.0 854.6 1262.0 858.5 1263.0 849.0 1264.0 850.9 1265.0 855.9 1266.0 853.8 1267.0 852.3 1268.0 857.6 1269.0 855.4 1270.0 851.6 1271.0 852.9 1272.0 856.2 1273.0 858.2 1274.0 850.1 1275.0 854.9 1276.0 853.5 1277.0 850.6 1278.0 854.0 1279.0 850.9 1280.0 853.2 1281.0 857.8 1282.0 855.5 1283.0 856.0 1284.0 855.6 1285.0 855.1 1286.0 856.5 1287.0 851.9 1288.0 853.6 1289.0 856.2 1290.0 852.8 1291.0 853.4 1292.0 857.0 1293.0 857.7 1294.0 853.1 1295.0 852.6 1296.0 855.6 1297.0 855.0 1297.5 852.9 1298.0 855.7 1299.0 855.6 1300.0 854.5 1301.0 860.7 1302.0 857.2 1303.0 856.0 1304.0 856.4 1305.0 860.6 1306.0 856.5 1307.0 852.6 1308.0 854.7 1309.0 854.1 1310.0 852.7 1311.0 854.4 1312.0 854.3 1313.0 853.5 1314.0 852.5 1315.0 855.2 1316.0 849.9 1317.0 855.0 1318.0 853.2 1319.0 853.6 1320.0 847.8 1321.0 856.4 1322.0 848.9 1323.0 850.7 1324.0 853.8 1325.0 851.0 1326.0 851.2 1327.0 847.2 1328.0 850.9 1329.0 852.1 1330.0 853.0 1331.0 850.7 1332.0 851.7 1333.0 852.0 1334.0 849.4 1335.0 849.1 1336.0 854.7 1337.0 848.4 1338.0 852.5 1339.0 849.5 1340.0 852.1 1341.0 847.0 1342.0 848.9 1343.0 848.0 1344.0 846.2 1345.0 846.8 1346.0 843.9 1347.0 844.9 1348.0 843.7 1349.0 845.8 1350.0 843.6 1351.0 840.5 1352.0 842.5 1353.0 842.9 1353.7 841.2 1354.0 846.0 1355.0 844.0 1356.0 845.0 1357.0 841.6 1358.0 842.4 1359.0 845.5 1360.0 840.4 1361.0 844.4 1362.0 843.9 1363.0 842.8 1364.0 844.2 1365.0 841.9 1366.0 844.9 1367.0 842.0 1368.0 842.0 1369.0 848.0 1370.0 843.7 1371.0 840.8 1372.0 847.7 1373.0 844.2 1374.0 838.4 1375.0 846.1 1376.0 848.5 1377.0 847.4 1378.0 850.6 1379.0 846.8 1380.0 848.6 1381.0 845.3 1382.0 848.0 1383.0 851.2 1384.0 849.1 1385.0 848.5 1386.0 844.0 1387.0 847.6 1388.0 845.8 1389.0 850.3 1390.0 847.1 1391.0 849.6 1392.0 846.7 1393.0 853.0 1394.0 846.4 1395.0 849.3 1396.0 854.8 1397.0 849.6 1398.0 847.3 1399.0 850.5 1400.0 851.4 1401.0 851.2 1402.0 845.0 1403.0 849.8 1404.0 844.8 1405.0 853.5 1406.0 849.6 1407.0 848.5 1408.0 850.9 1409.0 850.6 1410.0 847.0 1411.0 853.1 1412.0 849.1 1413.0 845.8 1414.0 852.7 1415.0 853.0 1416.0 852.4 1417.0 850.9 1418.0 847.8 1419.0 851.8 1420.0 853.8 1421.0 851.6 1422.0 853.3 1423.0 848.2 1424.0 852.1 1425.0 851.9 1426.0 846.7 1427.0 846.4 1428.0 848.4 1429.0 850.2 1430.0 851.0 1431.0 849.6 1432.0 849.9 1433.0 849.9 1434.0 850.3 1435.0 851.4 1436.0 851.3 1437.0 850.1 1438.0 850.8 1439.0 849.3 1440.0 852.1 1441.0 849.3 1442.0 854.0 1443.0 850.4 1444.0 851.1 1445.0 848.9 1446.0 849.9 1447.0 851.1 1447.4 850.8 1448.0 849.4 1449.0 848.3 1450.0 851.0 1451.0 851.4 1452.0 852.4 1453.0 854.0 1454.0 850.8 1455.0 847.2 1456.0 851.5 1457.0 847.9 1458.0 849.3 1459.0 854.6 1460.0 853.8 1461.0 851.3 1462.0 851.5 1463.0 852.9 1464.0 849.5 1465.0 854.6 1466.0 853.0 1467.0 858.0 1468.0 851.9 1469.0 856.6 1470.0 853.1 1471.0 857.0 1472.0 852.8 1473.0 856.8 1474.0 854.4 1475.0 853.7 1476.0 855.3 1477.0 856.8 1478.0 856.8 1479.0 859.5 1480.0 857.9 1481.0 850.4 1482.0 855.4 1483.0 851.9 1484.0 855.5 1484.8 857.7 1485.0 853.4 1486.0 853.7 1487.0 856.6 1488.0 855.7 1489.0 859.8 1490.0 857.0 1491.0 857.4 1492.0 860.1 1493.0 855.1 1494.0 856.2 1495.0 854.0 1496.0 856.8 1497.0 858.4 1498.0 859.1 1499.0 856.0 1500.0 854.5 1501.0 854.4 1502.0 853.0 1503.0 856.3 1504.0 858.9 1505.0 850.7 1506.0 851.1 1507.0 858.9 1508.0 852.3 1509.0 856.5 1510.0 853.0 1511.0 857.4 1512.0 857.4 1513.0 856.0 1514.0 857.4 1515.0 855.6 1516.0 856.7 1517.0 859.4 1518.0 857.8 1519.0 853.9 1520.0 853.5 1521.0 854.7 1522.0 854.7 1523.0 855.3 1524.0 853.8 1525.0 856.5 1526.0 855.1 1527.0 855.8 1528.0 855.0 1529.0 856.3 1530.0 852.2 1531.0 858.3 1532.0 855.5 1533.0 855.7 1534.0 856.0 1535.0 857.0 1536.0 856.2 1537.0 855.1 1538.0 854.2 1539.0 850.9 1540.0 855.0 1541.0 853.8 1542.0 853.7 1543.0 859.7 1544.0 850.3 1545.0 854.5 1546.0 857.0 1547.0 856.4 1548.0 857.0 1549.0 851.5 1550.0 852.1 1551.0 855.6 1552.0 853.5 1553.0 857.9 1554.0 854.7 1555.0 854.6 1556.0 855.1 1557.0 853.5 1558.0 854.4 1559.0 852.6 1560.0 854.0 1561.0 853.0 1562.0 854.6 1563.0 850.9 1564.0 850.7 1565.0 855.0 1566.0 854.5 1567.0 851.8 1568.0 853.5 1569.0 851.6 1570.0 858.4 1571.0 850.5 1572.0 857.7 1573.0 852.1 1574.0 854.8 1575.0 853.2 1576.0 853.0 1577.0 855.8 1578.0 855.5 1579.0 853.1 1580.0 851.7 1581.0 858.2 1582.0 856.7 1583.0 853.9 1584.0 852.9 1585.0 854.2 1586.0 853.7 1587.0 856.1 1588.0 851.3 1589.0 853.4 1590.0 851.6 1591.0 856.1 1592.0 857.2 1593.0 853.0 1594.0 854.3 1595.0 856.1 1596.0 852.3 1597.0 850.9 1598.0 855.1 1599.0 853.9 1600.0 852.2 1601.0 855.6 1602.0 852.3 1603.0 847.1 1604.0 850.9 1605.0 849.3 1606.0 853.1 1606.6 848.9 1607.0 848.5 1608.0 850.2 1609.0 850.3 1610.0 847.3 1611.0 851.5 1612.0 851.2 1613.0 855.7 1614.0 858.3 1615.0 850.7 1616.0 851.0 1617.0 851.1 1618.0 851.1 1619.0 850.7 1620.0 851.8 1621.0 853.6 1622.0 847.7 1623.0 846.7 1624.0 845.5 1625.0 851.5 1626.0 851.5 1627.0 844.9 1628.0 844.5 1629.0 848.3 1630.0 850.6 1631.0 851.0 1632.0 850.0 1633.0 852.1 1634.0 852.5 1635.0 851.7 1636.0 858.3 1637.0 855.1 1638.0 853.5 1639.0 855.5 1640.0 853.3 1641.0 856.7 1642.0 859.1 1643.0 853.9 1644.0 859.2 1645.0 861.3 1646.0 857.5 1647.0 854.2 1648.0 854.8 1649.0 856.0 1650.0 853.9 1651.0 854.0 1652.0 856.1 1653.0 856.3 1654.0 858.0 1655.0 854.1 1656.0 860.8 1657.0 859.0 1658.0 858.7 1659.0 855.3 1660.0 860.5 1661.0 856.0 1662.0 860.7 1663.0 859.1 1664.0 854.7 1665.0 855.7 1666.0 860.8 1667.0 858.9 1668.0 856.4 1669.0 857.2 1670.0 857.1 1671.0 855.0 1672.0 856.3 1673.0 855.3 1674.0 855.8 1675.0 857.7 1676.0 854.6 1677.0 858.3 1678.0 857.0 1679.0 858.4 1680.0 858.7 1681.0 859.5 1682.0 858.1 1683.0 858.3 1684.0 856.3 1685.0 858.0 1686.0 854.7 1687.0 856.2 1688.0 858.4 1689.0 856.6 1690.0 857.7 1691.0 854.4 1692.0 859.7 1693.0 855.4 1694.0 857.6 1695.0 856.7 1696.0 858.8 1697.0 855.9 1698.0 854.5 1699.0 852.5 1700.0 856.0 1701.0 854.1 1702.0 857.9 1703.0 859.9 1704.0 851.8 1705.0 853.9 1706.0 857.4 1707.0 859.4 1708.0 857.4 1709.0 857.4 1710.0 857.8 1711.0 858.0 1712.0 860.3 1713.0 858.1 1714.0 854.0 1715.0 855.7 1716.0 857.2 1717.0 854.9 1718.0 856.1 1719.0 855.5 1720.0 855.2 1721.0 858.2 1722.0 855.8 1723.0 854.3 1724.0 855.1 1725.0 856.8 1726.0 861.4 1727.0 857.3 1728.0 860.0 1729.0 857.8 1730.0 852.0 1731.0 857.5 1732.0 854.8 1733.0 853.7 1734.0 854.3 1735.0 860.7 1736.0 853.2 1737.0 855.3 1738.0 859.3 1739.0 858.2 1740.0 852.9 1741.0 856.5 1742.0 855.6 1743.0 856.3 1744.0 858.4 1744.2 855.4 1745.0 856.0 1746.0 859.9 1747.0 852.6 1748.0 855.9 1749.0 857.8 1750.0 854.0 1751.0 855.3 1752.0 853.8 1753.0 857.1 1754.0 855.4 1755.0 858.5 1756.0 859.0 1757.0 856.9 1758.0 855.9 1759.0 857.4 1760.0 856.9 1761.0 854.1 1762.0 859.2 1763.0 857.3 1764.0 858.6 1765.0 853.8 1766.0 858.8 1767.0 861.6 1768.0 858.3 1769.0 853.7 1770.0 857.0 1771.0 856.8 1772.0 857.4 1773.0 856.5 1774.0 858.1 1775.0 856.0 1776.0 857.5 1777.0 855.5 1778.0 857.3 1779.0 859.3 1780.0 856.0 1781.0 858.6 1782.0 855.2 1783.0 856.3 1784.0 856.7 1785.0 860.0 1786.0 855.5 1787.0 860.0 1788.0 854.0 1789.0 857.0 1790.0 859.4 1791.0 858.9 1792.0 855.1 1793.0 854.7 1794.0 859.4 1795.0 854.6 1796.0 858.8 1797.0 856.3 1798.0 857.5 1799.0 862.7 1800.0 861.0 1801.0 859.5 1802.0 854.6 1803.0 858.4 1804.0 857.8 1805.0 857.5 1806.0 860.7 1807.0 853.9 1808.0 858.5 1809.0 858.1 1810.0 856.2 1811.0 861.7 1812.0 855.1 1813.0 858.0 1814.0 858.1 1815.0 853.1 1816.0 854.8 1817.0 855.9 1818.0 859.8 1819.0 860.2 1820.0 859.4 1821.0 858.7 1822.0 853.3 1823.0 858.7 1824.0 857.1 1825.0 860.8 1826.0 861.3 1827.0 863.3 1828.0 859.9 1829.0 860.1 1830.0 856.1 1831.0 858.6 1832.0 855.7 1833.0 860.4 1834.0 855.8 1835.0 858.0 1836.0 856.7 1837.0 857.5 1838.0 859.6 1839.0 857.3 1840.0 859.1 1841.0 856.4 1842.0 861.7 1843.0 857.2 1844.0 860.9 1845.0 863.5 1846.0 853.3 1847.0 856.5 1848.0 858.3 1848.4 861.4 1849.0 857.7 1850.0 859.6 1851.0 857.2 1852.0 860.1 1853.0 856.1 1854.0 860.7 1855.0 852.2 1856.0 854.7 1857.0 863.0 1858.0 859.4 1859.0 857.0 1860.0 863.9 1861.0 861.4 1862.0 861.6 1863.0 858.1 1864.0 860.5 1865.0 860.3 1866.0 855.4 1867.0 860.5 1868.0 858.8 1869.0 862.1 1870.0 862.2 1871.0 857.8 1872.0 857.9 1873.0 859.8 1874.0 860.8 1875.0 858.4 1876.0 859.1 1877.0 860.8 1878.0 860.4 1879.0 862.1 1880.0 860.0 1881.0 857.5 1882.0 855.6 1883.0 861.4 1884.0 858.8 1885.0 858.8 1886.0 859.0 1887.0 856.1 1888.0 858.8 1889.0 853.9 1890.0 858.8 1891.0 857.8 1892.0 863.9 1893.0 860.8 1894.0 859.4 1895.0 860.2 1896.0 861.5 1897.0 858.2 1898.0 859.4 1899.0 859.2 1900.0 865.6 1901.0 860.2 1902.0 855.6 1903.0 861.9 1904.0 865.9 1905.0 858.0 1906.0 868.0 1907.0 860.0 1908.0 862.4 1909.0 858.9 1910.0 859.6 1911.0 857.5 1912.0 857.9 1913.0 855.4 1914.0 862.9 1915.0 857.7 1916.0 861.2 1917.0 861.1 1918.0 858.9 1919.0 860.5 1920.0 860.2 1921.0 859.3 1922.0 860.6 1923.0 860.6 1924.0 858.2 1925.0 857.6 1926.0 858.6 1927.0 860.8 1928.0 863.7 1929.0 863.9 1930.0 861.3 1931.0 862.7 1932.0 860.9 1933.0 863.1 1934.0 860.9 1935.0 861.5 1936.0 860.0 1937.0 860.6 1938.0 865.0 1939.0 857.9 1940.0 860.7 1941.0 859.3 1942.0 862.9 1943.0 864.8 1944.0 860.0 1945.0 854.4 1946.0 862.1 1947.0 862.1 1948.0 856.9 1949.0 860.2 1950.0 860.6 1951.0 855.5 1952.0 862.3 1952.6 861.7 1953.0 861.3 1954.0 858.3 1955.0 859.1 1956.0 859.3 1957.0 861.8 1958.0 858.5 1959.0 864.1 1960.0 861.6 1961.0 855.8 1962.0 864.6 1963.0 861.1 1964.0 859.5 1965.0 860.9 1966.0 856.6 1967.0 861.1 1968.0 855.1 1969.0 858.4 1970.0 863.8 1971.0 863.6 1972.0 859.9 1973.0 858.5 1974.0 862.8 1975.0 860.6 1976.0 861.2 1977.0 862.1 1978.0 858.2 1979.0 862.5 1980.0 855.9 1981.0 864.0 1982.0 857.1 1983.0 859.3 1984.0 859.2 1985.0 862.4 1986.0 862.4 1987.0 861.5 1988.0 861.9 1989.0 861.8 1990.0 860.5 1991.0 856.3 1992.0 855.4 1993.0 855.4 1994.0 860.6 1995.0 860.2 1996.0 860.4 1997.0 861.2 1998.0 860.1 1999.0 858.4 2000.0 857.2 2001.0 856.3 2002.0 863.5 2003.0 862.8 2004.0 857.6 2005.0 860.1 2006.0 861.7 2007.0 864.3 2008.0 859.3 2009.0 861.1 2010.0 863.3 2011.0 856.7 2012.0 859.0 2013.0 860.6 2014.0 859.0 2015.0 865.5 2016.0 862.7 2017.0 861.1 2018.0 858.5 2019.0 862.7 2020.0 862.1 2021.0 859.5 2022.0 859.7 2023.0 857.3 2024.0 860.5 2025.0 862.7 2026.0 863.0 2027.0 862.0 2028.0 862.6 2029.0 859.3 2030.0 859.6 2031.0 863.4 2032.0 861.7 2033.0 858.8 2034.0 861.8 2035.0 862.6 2036.0 862.3 2037.0 860.9 2038.0 859.5 2039.0 861.6 2040.0 864.6 2041.0 861.0 2042.0 859.1 2043.0 861.4 2044.0 857.8 2045.0 861.2 2046.0 860.0 2047.0 862.9 2048.0 860.9 2049.0 863.1 2050.0 865.9 2051.0 860.2 2052.0 858.7 2053.0 861.7 2054.0 860.5 2055.0 861.0 2056.0 859.3 2057.0 861.9 2058.0 860.8 2059.0 855.7 2060.0 860.1 2061.0 861.4 2062.0 863.4 2063.0 859.3 2064.0 858.8 2065.0 863.3 2066.0 859.3 2067.0 860.9 2068.0 861.7 2069.0 862.3 2070.0 860.7 2071.0 858.1 2072.0 863.0 2073.0 859.7 2074.0 859.5 2075.0 865.2 2076.0 862.7 2077.0 858.2" fill="none" stroke="#2AFAFA" stroke-width="6.2" stroke-linejoin="round" stroke-linecap="round"/>
<path d="M126.0 954.0 127.0 955.3 128.0 955.1 129.0 953.4 130.0 959.9 131.0 960.6 132.0 960.2 133.0 959.6 134.0 961.6 135.0 963.2 136.0 960.4 137.0 962.6 138.0 962.7 139.0 966.0 140.0 965.7 141.0 963.0 142.0 965.0 143.0 970.5 144.0 965.4 145.0 968.3 146.0 967.2 147.0 971.7 148.0 969.6 149.0 969.4 150.0 968.5 151.0 971.1 151.1 973.4 152.0 973.6 153.0 970.2 154.0 977.0 155.0 974.1 156.0 973.2 157.0 976.5 158.0 975.8 159.0 976.7 160.0 977.4 161.0 979.3 162.0 979.2 163.0 977.4 164.0 982.6 165.0 981.0 165.2 984.7 166.0 983.7 167.0 984.4 168.0 984.0 169.0 986.7 170.0 983.8 171.0 982.8 172.0 986.0 173.0 980.0 174.0 985.2 175.0 986.8 176.0 985.8 177.0 989.7 178.0 988.9 179.0 988.0 179.2 987.0 180.0 990.4 181.0 987.0 182.0 987.9 183.0 990.7 184.0 990.7 185.0 994.0 186.0 989.7 187.0 986.6 188.0 992.2 189.0 993.8 190.0 991.2 191.0 995.0 192.0 995.8 193.0 991.1 194.0 991.8 195.0 990.5 196.0 994.5 197.0 995.1 198.0 995.2 199.0 991.7 200.0 992.9 201.0 991.8 202.0 991.7 203.0 992.5 204.0 992.2 205.0 995.3 206.0 996.8 207.0 997.4 207.3 996.2 208.0 995.0 209.0 996.5 210.0 997.9 211.0 996.4 212.0 997.3 213.0 996.7 214.0 996.5 215.0 997.9 216.0 995.7 217.0 1000.4 218.0 995.2 219.0 999.5 220.0 996.0 221.0 1002.1 222.0 1000.9 223.0 997.6 224.0 998.5 225.0 997.3 226.0 999.6 227.0 1000.7 228.0 1005.2 229.0 997.3 230.0 1002.7 231.0 999.0 232.0 1000.9 233.0 1002.2 234.0 1001.5 235.0 1001.3 235.4 1000.0 236.0 1000.4 237.0 1000.7 238.0 1002.9 239.0 997.4 240.0 999.4 241.0 997.8 242.0 998.4 243.0 998.7 244.0 1002.6 245.0 1004.7 246.0 1003.1 247.0 997.8 248.0 1000.4 249.0 997.9 250.0 1001.1 251.0 1002.8 252.0 1001.3 253.0 1001.9 254.0 999.8 255.0 996.0 256.0 995.9 257.0 999.8 258.0 1001.1 259.0 1002.5 260.0 999.1 261.0 1000.0 262.0 1000.3 263.0 1001.9 263.5 999.6 264.0 997.4 265.0 1001.8 266.0 1000.4 267.0 1000.2 268.0 996.7 269.0 999.1 270.0 995.5 271.0 994.7 272.0 998.2 273.0 997.5 274.0 999.4 275.0 1000.9 276.0 997.7 277.0 1001.2 278.0 996.0 279.0 998.5 280.0 994.0 281.0 996.6 282.0 995.4 283.0 995.3 284.0 996.6 285.0 991.2 286.0 994.9 287.0 992.7 288.0 994.2 289.0 994.5 290.0 992.5 291.0 992.2 291.6 990.3 292.0 993.7 293.0 990.7 294.0 992.6 295.0 988.2 296.0 993.4 297.0 987.9 298.0 991.8 299.0 987.8 300.0 989.2 301.0 987.1 302.0 988.2 303.0 986.1 304.0 988.0 305.0 986.1 305.7 985.7 306.0 987.5 307.0 982.0 308.0 985.5 309.0 982.3 310.0 978.4 311.0 981.7 312.0 979.6 313.0 982.8 314.0 977.6 315.0 978.0 316.0 977.7 317.0 972.5 318.0 976.7 319.0 972.9 319.7 977.3 320.0 977.6 321.0 973.4 322.0 969.4 323.0 972.3 324.0 971.5 325.0 971.8 326.0 968.9 327.0 966.3 328.0 967.6 329.0 965.2 330.0 969.8 331.0 963.8 332.0 963.0 333.0 963.2 333.8 960.0 334.0 961.4 335.0 960.4 336.0 958.3 336.6 958.5 337.0 961.6 338.0 960.6 339.0 958.1 340.0 961.1 341.0 964.6 342.0 963.0 343.0 965.9 344.0 967.1 345.0 969.6 346.0 969.6 347.0 971.0 347.8 970.5 348.0 973.3 349.0 971.9 350.0 978.5 351.0 976.2 352.0 977.0 353.0 980.3 354.0 979.7 355.0 981.2 356.0 982.0 357.0 981.7 358.0 982.4 359.0 983.8 360.0 988.5 361.0 985.8 361.9 987.0 362.0 987.0 363.0 990.1 364.0 993.4 365.0 988.2 366.0 991.9 367.0 991.7 368.0 991.5 369.0 993.8 370.0 990.8 371.0 995.6 372.0 994.9 373.0 992.9 374.0 998.7 375.0 997.6 375.9 998.6 376.0 993.3 377.0 996.1 378.0 995.9 379.0 998.6 380.0 1000.5 381.0 994.2 382.0 998.5 383.0 998.5 384.0 1001.2 385.0 999.4 386.0 997.2 387.0 999.7 388.0 998.3 389.0 999.1 390.0 1001.1 391.0 1000.3 392.0 1002.1 393.0 998.7 394.0 1006.8 395.0 1004.8 396.0 1003.9 397.0 1000.0 398.0 998.3 399.0 1001.1 400.0 1002.5 401.0 1007.6 402.0 1005.8 403.0 1002.1 404.0 1005.7 405.0 1005.7 406.0 1003.2 407.0 1005.6 408.0 1003.8 409.0 1001.7 410.0 1000.6 411.0 1002.6 412.0 1004.8 413.0 999.9 414.0 999.3 415.0 1003.6 416.0 996.9 417.0 1006.0 418.0 1001.3 419.0 1003.6 420.0 1005.8 421.0 998.9 422.0 999.7 422.3 1006.4 423.0 1001.2 424.0 1001.4 425.0 1002.0 426.0 1003.6 427.0 1004.1 428.0 1001.5 429.0 1000.5 430.0 1001.0 431.0 1001.6 432.0 1003.5 433.0 1001.0 434.0 1004.3 435.0 998.8 436.0 1001.5 437.0 1003.9 438.0 1002.8 439.0 1000.7 440.0 998.1 441.0 998.3 442.0 999.3 443.0 1000.2 444.0 998.9 445.0 996.3 446.0 997.7 447.0 1000.1 448.0 1000.6 449.0 995.9 450.0 997.9 451.0 995.1 452.0 997.3 453.0 1005.5 454.0 998.3 455.0 997.3 456.0 996.7 457.0 995.3 458.0 993.9 459.0 997.5 460.0 996.9 461.0 1000.4 462.0 993.9 463.0 998.1 464.0 999.8 465.0 993.0 466.0 998.2 467.0 993.5 468.0 997.8 469.0 999.6 470.0 996.5 471.0 997.1 472.0 995.0 473.0 996.9 474.0 998.6 475.0 995.8 476.0 995.9 477.0 996.9 478.0 997.7 479.0 992.7 480.0 996.1 481.0 994.6 482.0 996.9 483.0 998.0 484.0 996.5 485.0 998.5 485.3 993.9 486.0 995.1 487.0 993.9 488.0 996.0 489.0 996.1 490.0 995.5 491.0 993.4 492.0 995.8 493.0 995.0 494.0 997.2 495.0 995.4 496.0 998.3 497.0 996.4 498.0 992.2 499.0 995.6 500.0 993.1 501.0 998.0 502.0 998.9 503.0 995.9 504.0 996.9 505.0 993.0 506.0 990.8 507.0 992.9 508.0 991.8 509.0 987.5 510.0 989.7 510.6 989.9 511.0 990.7 512.0 993.5 513.0 993.6 514.0 993.0 515.0 995.5 516.0 997.2 517.0 994.1 518.0 999.1 519.0 998.3 520.0 996.1 521.0 995.4 522.0 1004.5 522.5 998.4 523.0 998.6 524.0 1000.4 525.0 998.7 526.0 997.1 527.0 998.1 528.0 994.8 529.0 998.1 530.0 993.5 531.0 997.5 532.0 997.8 533.0 993.4 534.0 1000.5 535.0 994.2 536.0 998.7 537.0 995.5 538.0 997.2 539.0 995.2 540.0 1001.6 541.0 998.6 542.0 1000.2 543.0 998.1 544.0 997.9 545.0 996.7 546.0 995.9 547.0 997.6 548.0 996.7 549.0 996.0 550.0 993.5 551.0 995.7 552.0 997.5 553.0 995.3 554.0 996.9 555.0 995.9 556.0 994.1 557.0 994.3 558.0 994.6 559.0 995.5 560.0 995.6 561.0 998.4 562.0 993.8 563.0 991.9 564.0 997.4 565.0 995.1 566.0 995.8 567.0 1001.2 568.0 999.0 569.0 997.2 570.0 997.9 571.0 996.2 572.0 997.9 573.0 994.7 574.0 994.5 575.0 995.0 576.0 999.2 577.0 999.2 578.0 994.7 579.0 998.3 580.0 995.6 581.0 998.2 582.0 995.3 583.0 997.9 584.0 995.8 585.0 995.4 586.0 996.0 587.0 996.3 588.0 994.8 589.0 993.2 590.0 999.5 591.0 995.3 592.0 992.4 593.0 991.4 594.0 990.4 595.0 994.9 596.0 998.9 597.0 992.8 598.0 995.5 599.0 992.4 600.0 998.5 601.0 997.0 602.0 996.9 603.0 999.1 604.0 999.7 605.0 998.4 606.0 995.2 607.0 993.6 608.0 994.2 609.0 992.8 610.0 1000.2 611.0 996.1 612.0 996.8 613.0 996.9 614.0 1000.7 615.0 995.4 616.0 999.0 617.0 997.3 618.0 996.3 619.0 992.7 620.0 998.6 621.0 995.2 622.0 995.8 623.0 997.3 624.0 997.0 625.0 999.2 626.0 995.5 627.0 997.3 628.0 997.5 629.0 997.1 630.0 998.4 631.0 996.6 632.0 999.6 633.0 995.7 634.0 994.2 635.0 997.1 636.0 999.7 637.0 996.2 638.0 996.0 639.0 996.6 640.0 997.7 641.0 997.1 642.0 998.1 643.0 994.0 644.0 1000.6 645.0 998.8 646.0 995.9 647.0 1000.5 648.0 998.6 649.0 1000.8 650.0 995.4 651.0 1001.2 652.0 998.0 653.0 993.7 654.0 999.5 655.0 997.4 656.0 996.0 657.0 997.7 658.0 994.2 659.0 999.5 660.0 998.0 661.0 997.9 662.0 1001.5 663.0 998.7 664.0 997.4 665.0 996.9 666.0 998.8 667.0 1001.2 668.0 997.9 669.0 997.1 670.0 1001.2 671.0 999.6 672.0 999.5 673.0 1003.9 674.0 997.3 675.0 1000.3 676.0 996.3 677.0 999.5 678.0 1001.4 679.0 1002.6 680.0 997.8 681.0 1002.3 682.0 1002.3 683.0 1000.5 684.0 1005.9 685.0 1001.0 686.0 999.3 687.0 1002.1 688.0 997.5 689.0 1004.6 690.0 1003.6 691.0 1000.8 692.0 1003.0 693.0 1002.9 694.0 1005.9 695.0 1000.8 696.0 999.5 697.0 998.0 698.0 1001.7 699.0 999.2 700.0 1002.1 701.0 1003.4 702.0 1001.7 703.0 1000.8 704.0 1005.3 705.0 1002.5 706.0 1003.5 707.0 1005.1 708.0 1000.6 709.0 1001.4 710.0 1008.6 711.0 1003.2 712.0 1001.5 713.0 1003.1 714.0 1002.6 715.0 1001.3 716.0 1003.0 717.0 1003.8 718.0 1003.9 718.7 1005.0 719.0 1000.2 720.0 999.2 721.0 1001.2 722.0 995.6 722.5 997.6 723.0 994.0 724.0 986.2 725.0 986.4 725.8 982.0 726.0 984.7 727.0 989.6 728.0 996.0 729.0 994.9 730.0 998.4 731.0 999.3 732.0 1001.8 733.0 996.2 734.0 1001.6 735.0 1003.5 735.6 1003.9 736.0 1001.4 737.0 1004.5 738.0 1004.9 739.0 1002.4 740.0 1001.3 741.0 1000.4 742.0 1000.8 743.0 1002.2 744.0 1002.0 745.0 997.1 746.0 995.2 746.8 994.8 747.0 998.2 748.0 995.5 749.0 994.2 750.0 992.7 751.0 990.2 752.0 986.4 752.5 982.9 753.0 981.7 754.0 976.8 755.0 968.7 756.0 957.0 756.2 954.8 757.0 947.7 758.0 929.1 759.0 915.9 760.0 906.4 761.0 907.8 762.0 912.0 763.0 926.5 763.7 935.2 764.0 941.6 765.0 946.5 765.6 950.1 766.0 952.3 767.0 950.5 768.0 951.3 769.0 951.5 770.0 945.8 771.0 947.9 772.0 946.4 773.0 950.9 773.1 947.9 774.0 949.3 775.0 951.9 776.0 948.1 777.0 949.4 778.0 950.7 779.0 949.9 780.0 953.7 781.0 953.6 782.0 954.6 782.4 953.0 783.0 952.6 784.0 953.5 785.0 954.6 786.0 953.2 787.0 958.6 788.0 960.9 789.0 960.6 790.0 961.0 791.0 963.5 792.0 965.2 793.0 966.7 793.7 970.5 794.0 965.5 795.0 969.1 796.0 971.0 797.0 970.9 798.0 971.4 799.0 971.0 800.0 972.9 801.0 976.5 802.0 978.9 803.0 975.4 804.0 978.4 805.0 979.2 806.0 980.8 807.0 979.8 808.0 980.8 809.0 982.2 810.0 978.5 811.0 981.4 812.0 978.2 813.0 978.3 814.0 981.1 815.0 980.1 816.0 984.7 817.0 986.1 817.1 983.6 818.0 984.4 819.0 984.7 820.0 985.3 821.0 986.7 822.0 987.7 823.0 986.6 824.0 986.4 825.0 987.2 826.0 990.1 826.5 987.6 827.0 991.3 828.0 987.1 829.0 989.1 830.0 982.3 831.0 981.6 832.0 982.5 833.0 981.5 834.0 979.8 835.0 984.9 836.0 982.7 837.0 985.6 838.0 986.4 839.0 993.1 840.0 992.8 840.5 992.1 841.0 988.0 842.0 992.0 843.0 990.3 844.0 992.0 845.0 993.0 846.0 989.7 847.0 991.6 848.0 992.9 849.0 991.4 850.0 990.4 851.0 988.8 852.0 989.6 853.0 988.3 854.0 992.8 854.6 991.0 855.0 988.3 856.0 990.7 857.0 988.0 858.0 983.9 859.0 992.8 860.0 992.6 861.0 987.2 862.0 988.5 863.0 990.2 864.0 988.8 865.0 987.7 866.0 988.1 867.0 988.4 868.0 987.5 868.6 988.9 869.0 987.8 870.0 985.9 871.0 986.2 872.0 981.2 873.0 985.7 874.0 977.4 875.0 978.9 876.0 978.2 877.0 977.0 878.0 975.8 878.9 977.6 879.0 972.8 880.0 975.9 881.0 978.4 882.0 979.4 883.0 980.8 883.6 984.9 884.0 980.9 885.0 981.3 886.0 981.6 887.0 981.5 888.0 982.0 889.0 981.0 890.0 981.8 891.0 980.9 892.0 981.2 893.0 982.6 894.0 977.7 895.0 982.2 896.0 977.6 896.7 979.5 897.0 978.3 898.0 976.7 899.0 972.5 900.0 978.8 901.0 973.3 902.0 972.8 902.5 976.5 903.0 974.5 904.0 978.2 905.0 977.7 906.0 975.8 907.0 974.9 908.0 976.0 909.0 971.9 910.0 975.0 911.0 975.0 912.0 973.8 913.0 975.3 914.0 972.0 915.0 976.8 916.0 977.7 917.0 972.7 918.0 975.7 919.0 978.6 920.0 976.5 921.0 973.7 922.0 973.9 923.0 977.7 924.0 979.8 925.0 974.2 926.0 976.5 927.0 975.1 928.0 976.2 929.0 977.6 930.0 977.0 931.0 975.9 932.0 981.6 933.0 977.3 934.0 977.4 935.0 980.1 936.0 978.1 936.2 977.7 937.0 980.2 938.0 976.4 939.0 980.2 940.0 981.1 941.0 980.7 942.0 979.3 943.0 980.0 944.0 977.0 945.0 980.6 946.0 981.8 947.0 983.4 948.0 982.4 949.0 981.8 950.0 981.4 951.0 983.5 952.0 984.3 953.0 986.9 954.0 985.0 955.0 984.5 956.0 985.8 957.0 985.5 958.0 986.5 959.0 983.0 960.0 984.7 961.0 985.9 962.0 989.6 963.0 988.9 964.0 989.7 965.0 992.0 966.0 988.0 967.0 992.6 968.0 991.3 969.0 989.3 970.0 993.9 971.0 988.3 972.0 988.9 973.0 990.8 973.7 992.0 974.0 990.9 975.0 987.0 976.0 990.6 977.0 991.0 978.0 996.2 979.0 993.8 980.0 991.3 981.0 988.8 982.0 991.6 983.0 988.5 984.0 991.0 985.0 991.2 986.0 989.5 987.0 990.6 988.0 989.3 989.0 988.6 990.0 992.5 990.5 990.5 991.0 988.1 992.0 983.9 993.0 980.8 994.0 976.2 995.0 969.1 996.0 961.5 997.0 954.7 997.1 951.5 998.0 960.4 999.0 965.8 1000.0 973.3 1000.5 977.7 1001.0 975.4 1002.0 985.0 1003.0 990.6 1003.7 995.5 1004.0 990.8 1005.0 992.5 1006.0 996.0 1007.0 994.2 1008.0 992.0 1009.0 996.3 1010.0 989.8 1011.0 993.1 1012.0 991.6 1013.0 992.8 1014.0 991.0 1015.0 989.6 1016.0 991.4 1017.0 988.1 1018.0 991.5 1019.0 989.6 1020.0 991.8 1021.0 988.8 1022.0 988.1 1023.0 990.0 1024.0 991.5 1025.0 984.8 1026.0 989.0 1027.0 989.8 1028.0 985.7 1029.0 986.7 1030.0 989.7 1031.0 986.9 1032.0 987.5 1033.0 992.6 1034.0 988.0 1035.0 988.8 1036.0 986.8 1037.0 990.0 1038.0 990.7 1039.0 997.5 1040.0 997.4 1041.0 993.5 1042.0 1000.8 1043.0 999.3 1044.0 998.2 1045.0 1000.9 1046.0 1000.6 1047.0 998.8 1048.0 997.1 1048.6 998.8 1049.0 1000.6 1050.0 1000.0 1051.0 999.3 1052.0 1002.7 1053.0 998.8 1054.0 1002.7 1055.0 1000.0 1056.0 1001.2 1057.0 998.9 1058.0 1001.1 1059.0 999.6 1060.0 997.8 1061.0 1001.2 1062.0 1001.2 1063.0 1002.9 1064.0 1001.9 1065.0 999.4 1066.0 1000.2 1067.0 996.5 1068.0 999.2 1069.0 1004.0 1070.0 1004.5 1071.0 1003.0 1072.0 1002.1 1073.0 1002.7 1074.0 1002.5 1075.0 998.1 1076.0 999.8 1076.7 1003.9 1077.0 1003.8 1078.0 1001.8 1079.0 1000.3 1080.0 999.6 1081.0 998.7 1082.0 997.2 1083.0 993.7 1084.0 995.5 1085.0 992.2 1086.0 991.7 1087.0 996.5 1088.0 996.7 1089.0 996.8 1090.0 1001.2 1091.0 998.0 1092.0 1003.9 1093.0 1003.1 1094.0 1002.7 1095.0 1004.5 1095.5 1006.3 1096.0 1002.5 1097.0 1001.5 1098.0 1007.6 1099.0 1003.4 1100.0 1006.4 1101.0 1002.1 1102.0 1004.1 1103.0 1002.1 1104.0 1004.6 1105.0 1002.8 1106.0 1002.0 1107.0 1006.4 1108.0 1004.0 1109.0 999.3 1110.0 1002.9 1111.0 1001.5 1112.0 1000.9 1113.0 1002.1 1114.0 1002.3 1115.0 1003.3 1116.0 1001.7 1117.0 999.6 1118.0 1002.2 1119.0 1004.9 1120.0 1000.5 1121.0 1004.4 1122.0 1004.0 1123.0 1002.2 1124.0 1003.7 1125.0 1001.6 1126.0 1002.2 1127.0 1001.0 1128.0 1003.9 1129.0 1005.7 1130.0 1001.6 1131.0 1005.3 1132.0 998.6 1133.0 1001.1 1134.0 1000.8 1135.0 1006.2 1136.0 1001.5 1137.0 1004.2 1138.0 998.5 1139.0 1002.8 1140.0 1003.6 1141.0 1002.4 1142.0 997.0 1142.3 1002.8 1143.0 1003.9 1144.0 1004.6 1145.0 1002.2 1146.0 997.3 1147.0 999.4 1148.0 1000.8 1149.0 996.5 1150.0 998.5 1151.0 995.8 1152.0 996.4 1153.0 997.4 1153.5 994.5 1154.0 1001.6 1155.0 996.4 1156.0 997.2 1157.0 995.5 1158.0 997.7 1159.0 997.8 1160.0 996.2 1161.0 996.9 1162.0 1001.4 1163.0 1001.5 1164.0 997.3 1165.0 999.1 1166.0 1003.6 1167.0 1004.7 1168.0 1006.6 1169.0 1003.4 1170.0 1007.3 1170.4 1005.6 1171.0 1005.3 1172.0 1006.1 1173.0 1008.5 1174.0 1007.7 1175.0 1008.4 1176.0 1005.4 1177.0 1006.3 1178.0 1004.6 1179.0 1005.8 1180.0 1006.2 1181.0 1006.1 1182.0 1008.5 1183.0 1008.0 1184.0 1008.7 1185.0 1007.5 1186.0 1009.4 1187.0 1007.5 1188.0 1009.3 1189.0 1008.4 1190.0 1008.9 1191.0 1007.4 1192.0 1005.1 1193.0 1004.7 1194.0 1011.6 1195.0 1008.5 1196.0 1008.7 1197.0 1007.5 1198.0 1007.0 1198.5 1013.7 1199.0 1005.8 1200.0 1008.0 1201.0 1008.2 1202.0 1006.2 1203.0 1006.0 1204.0 1007.3 1205.0 1008.2 1206.0 1008.2 1207.0 1011.0 1208.0 1007.2 1209.0 1010.6 1210.0 1012.9 1211.0 1012.0 1212.0 1008.2 1213.0 1004.8 1214.0 1012.6 1215.0 1012.2 1216.0 1010.3 1217.0 1014.2 1218.0 1011.1 1219.0 1012.4 1220.0 1010.3 1221.0 1013.2 1222.0 1012.0 1223.0 1012.0 1224.0 1015.4 1225.0 1013.9 1226.0 1010.6 1227.0 1015.2 1228.0 1015.6 1229.0 1012.4 1230.0 1013.4 1231.0 1014.4 1232.0 1013.9 1233.0 1014.7 1234.0 1015.9 1235.0 1013.6 1236.0 1018.8 1237.0 1013.0 1238.0 1012.9 1239.0 1017.3 1240.0 1017.2 1241.0 1011.4 1242.0 1009.6 1243.0 1004.8 1244.0 1004.5 1245.0 998.3 1246.0 993.0 1247.0 992.6 1248.0 993.1 1248.1 991.7 1249.0 995.8 1250.0 996.6 1251.0 999.0 1251.5 999.9 1252.0 1003.4 1253.0 1011.0 1254.0 1015.8 1254.7 1017.7 1255.0 1016.0 1256.0 1017.1 1257.0 1018.0 1258.0 1015.2 1259.0 1012.9 1260.0 1018.8 1261.0 1016.5 1262.0 1014.3 1263.0 1015.5 1264.0 1014.4 1265.0 1011.3 1266.0 1014.2 1267.0 1011.5 1268.0 1014.5 1269.0 1013.7 1269.7 1016.0 1270.0 1013.3 1271.0 1013.4 1272.0 1010.6 1273.0 1008.8 1274.0 1005.2 1275.0 1008.4 1276.0 1005.1 1277.0 1002.0 1278.0 1002.5 1278.7 1001.0 1279.0 1000.4 1280.0 1003.8 1281.0 1008.2 1282.0 1007.8 1283.0 1007.2 1284.0 1009.7 1285.0 1015.4 1286.0 1011.0 1287.0 1015.7 1288.0 1013.5 1289.0 1016.0 1290.0 1014.8 1291.0 1012.3 1292.0 1014.9 1293.0 1020.1 1293.7 1015.6 1294.0 1017.0 1295.0 1015.2 1296.0 1015.6 1297.0 1016.4 1298.0 1016.7 1299.0 1020.1 1300.0 1015.5 1301.0 1015.0 1302.0 1013.9 1303.0 1012.5 1304.0 1011.7 1305.0 1016.1 1306.0 1010.8 1307.0 1017.2 1308.0 1015.9 1309.0 1013.3 1310.0 1011.4 1311.0 1013.5 1312.0 1013.3 1313.0 1015.2 1314.0 1011.2 1315.0 1011.7 1316.0 1012.1 1316.2 1011.6 1317.0 1010.6 1318.0 1008.1 1319.0 1007.8 1320.0 1009.2 1321.0 1009.6 1322.0 1011.5 1323.0 1013.5 1324.0 1011.6 1325.0 1008.3 1326.0 1010.5 1327.0 1005.8 1328.0 1004.2 1329.0 1009.2 1330.0 1001.6 1331.0 1002.2 1332.0 1001.7 1333.0 1004.4 1334.0 999.5 1335.0 1001.6 1336.0 998.4 1337.0 996.0 1338.0 998.0 1339.0 996.9 1340.0 993.3 1341.0 992.9 1342.0 991.9 1343.0 994.4 1344.0 992.3 1345.0 990.8 1346.0 990.3 1347.0 987.4 1348.0 988.3 1349.0 985.2 1350.0 982.9 1351.0 983.4 1352.0 984.5 1353.0 983.7 1354.0 985.1 1355.0 979.2 1356.0 981.9 1357.0 983.0 1357.4 980.3 1358.0 982.7 1359.0 981.5 1360.0 980.2 1361.0 985.0 1362.0 980.2 1363.0 985.4 1364.0 983.0 1365.0 982.4 1366.0 983.0 1367.0 983.8 1368.0 984.2 1369.0 987.0 1370.0 983.4 1371.0 990.2 1372.0 990.1 1373.0 991.8 1374.0 987.8 1375.0 985.7 1376.0 989.8 1377.0 991.3 1378.0 992.9 1379.0 991.8 1380.0 993.2 1381.0 994.2 1381.8 991.2 1382.0 998.0 1383.0 992.6 1384.0 995.9 1385.0 998.0 1386.0 994.7 1387.0 996.7 1388.0 1000.5 1389.0 997.1 1390.0 1000.2 1391.0 999.2 1392.0 999.5 1393.0 1000.9 1394.0 999.5 1395.0 1000.0 1396.0 1002.8 1397.0 1001.8 1398.0 1002.7 1399.0 999.8 1400.0 1002.6 1401.0 1005.4 1402.0 1005.2 1403.0 1004.5 1404.0 1003.2 1405.0 1003.4 1406.0 1005.9 1407.0 1008.3 1408.0 1005.9 1409.0 1008.8 1410.0 1005.9 1411.0 1009.3 1412.0 1005.3 1413.0 1008.0 1414.0 1005.9 1415.0 1009.7 1416.0 1009.9 1417.0 1007.2 1418.0 1008.0 1419.0 1008.9 1420.0 1007.2 1421.0 1008.7 1422.0 1009.2 1423.0 1012.8 1424.0 1014.4 1425.0 1011.1 1426.0 1011.8 1427.0 1013.1 1428.0 1012.0 1429.0 1012.8 1430.0 1015.4 1431.0 1014.5 1432.0 1014.1 1433.0 1013.5 1434.0 1017.9 1435.0 1014.0 1436.0 1015.7 1437.0 1013.7 1438.0 1014.8 1439.0 1016.4 1440.0 1015.7 1441.0 1017.8 1442.0 1017.1 1443.0 1014.4 1444.0 1012.7 1445.0 1019.5 1446.0 1016.5 1447.0 1020.7 1447.4 1017.9 1448.0 1016.4 1449.0 1019.1 1450.0 1017.6 1451.0 1018.3 1452.0 1016.6 1453.0 1019.8 1454.0 1020.8 1455.0 1017.7 1456.0 1022.5 1457.0 1017.9 1458.0 1019.6 1459.0 1016.0 1460.0 1015.5 1461.0 1023.7 1462.0 1022.4 1463.0 1022.0 1464.0 1016.4 1465.0 1020.4 1466.0 1020.9 1467.0 1020.3 1468.0 1020.9 1469.0 1018.5 1470.0 1020.1 1471.0 1018.3 1472.0 1020.0 1473.0 1021.5 1474.0 1019.3 1475.0 1020.4 1476.0 1020.2 1477.0 1021.2 1478.0 1023.1 1479.0 1021.8 1480.0 1022.2 1481.0 1018.6 1482.0 1020.9 1483.0 1023.3 1484.0 1020.0 1485.0 1021.0 1486.0 1020.0 1487.0 1024.7 1488.0 1021.2 1489.0 1020.7 1490.0 1023.4 1491.0 1024.5 1492.0 1023.3 1493.0 1024.4 1494.0 1022.9 1495.0 1022.3 1496.0 1021.7 1497.0 1021.6 1498.0 1021.5 1499.0 1023.5 1500.0 1022.6 1501.0 1023.0 1502.0 1024.1 1503.0 1022.9 1504.0 1020.3 1505.0 1021.5 1506.0 1020.9 1507.0 1019.3 1508.0 1023.4 1509.0 1020.8 1510.0 1020.7 1511.0 1021.1 1512.0 1025.0 1513.0 1022.7 1514.0 1025.3 1515.0 1023.2 1516.0 1022.5 1517.0 1024.5 1518.0 1024.6 1519.0 1023.6 1520.0 1021.3 1521.0 1022.5 1522.0 1021.1 1522.3 1022.9 1523.0 1023.6 1524.0 1026.4 1525.0 1026.2 1526.0 1024.7 1527.0 1025.3 1528.0 1023.8 1529.0 1028.8 1530.0 1026.3 1531.0 1028.5 1532.0 1023.9 1533.0 1023.9 1534.0 1025.2 1535.0 1023.4 1536.0 1023.6 1537.0 1020.9 1538.0 1024.7 1539.0 1023.0 1540.0 1024.3 1541.0 1022.2 1542.0 1019.0 1543.0 1023.5 1544.0 1024.7 1545.0 1019.7 1546.0 1020.3 1547.0 1021.5 1548.0 1021.6 1549.0 1018.6 1550.0 1025.4 1551.0 1023.8 1552.0 1020.5 1553.0 1018.0 1554.0 1022.2 1555.0 1025.4 1556.0 1023.0 1557.0 1023.6 1558.0 1019.3 1559.0 1021.5 1559.8 1018.0 1560.0 1024.9 1561.0 1022.0 1562.0 1016.6 1563.0 1017.0 1564.0 1021.6 1565.0 1020.8 1566.0 1019.8 1567.0 1021.6 1568.0 1024.3 1569.0 1020.9 1570.0 1016.4 1571.0 1019.6 1572.0 1017.2 1573.0 1018.1 1574.0 1020.2 1575.0 1019.1 1576.0 1017.2 1577.0 1019.2 1578.0 1017.4 1579.0 1020.0 1580.0 1018.3 1581.0 1019.4 1582.0 1017.9 1583.0 1019.8 1584.0 1017.9 1585.0 1017.9 1586.0 1016.7 1587.0 1017.9 1588.0 1013.9 1589.0 1022.5 1590.0 1015.6 1591.0 1016.9 1592.0 1015.5 1593.0 1015.1 1594.0 1016.5 1595.0 1014.3 1596.0 1014.0 1597.0 1011.7 1598.0 1012.1 1599.0 1011.0 1600.0 1016.1 1601.0 1009.0 1602.0 1008.8 1603.0 1010.9 1603.5 1013.3 1604.0 1007.2 1605.0 1008.1 1606.0 1012.5 1607.0 1014.0 1608.0 1011.5 1609.0 1011.4 1610.0 1013.4 1611.0 1017.0 1612.0 1015.7 1613.0 1017.4 1614.0 1015.8 1615.0 1015.7 1616.0 1016.5 1617.0 1014.3 1618.0 1014.2 1619.0 1011.1 1620.0 1010.9 1621.0 1012.0 1622.0 1009.5 1623.0 1007.6 1624.0 1009.9 1624.5 1009.6 1625.0 1008.7 1626.0 1008.7 1627.0 1014.3 1628.0 1019.7 1629.0 1014.3 1630.0 1013.4 1631.0 1015.4 1632.0 1015.5 1633.0 1015.2 1634.0 1015.6 1635.0 1020.0 1636.0 1020.2 1637.0 1021.6 1638.0 1020.3 1639.0 1018.0 1640.0 1021.1 1641.0 1017.8 1642.0 1018.3 1643.0 1016.7 1644.0 1021.5 1645.0 1021.1 1646.0 1018.1 1647.0 1018.5 1648.0 1019.2 1649.0 1019.5 1650.0 1020.8 1651.0 1019.3 1652.0 1020.0 1653.0 1016.2 1654.0 1018.6 1655.0 1015.6 1656.0 1022.8 1657.0 1022.0 1658.0 1020.7 1659.0 1021.5 1660.0 1023.3 1661.0 1021.1 1662.0 1016.1 1663.0 1018.9 1664.0 1014.6 1665.0 1017.7 1666.0 1016.8 1667.0 1019.3 1668.0 1020.1 1669.0 1017.5 1670.0 1018.8 1671.0 1019.9 1672.0 1019.0 1673.0 1019.0 1674.0 1014.6 1675.0 1018.5 1676.0 1021.0 1677.0 1019.9 1678.0 1016.4 1679.0 1018.8 1680.0 1019.9 1681.0 1017.4 1682.0 1020.7 1683.0 1017.8 1684.0 1018.7 1685.0 1019.2 1686.0 1023.9 1687.0 1018.8 1688.0 1018.3 1689.0 1020.8 1690.0 1018.5 1691.0 1019.8 1692.0 1014.9 1693.0 1020.0 1694.0 1019.4 1695.0 1016.8 1696.0 1022.1 1697.0 1018.9 1698.0 1019.0 1699.0 1016.8 1700.0 1016.2 1701.0 1018.3 1702.0 1016.4 1703.0 1020.4 1704.0 1021.2 1705.0 1018.2 1706.0 1016.2 1707.0 1018.6 1708.0 1017.3 1709.0 1019.8 1710.0 1019.8 1711.0 1018.6 1712.0 1019.6 1713.0 1021.5 1714.0 1022.8 1715.0 1018.4 1716.0 1020.9 1717.0 1018.9 1718.0 1017.3 1719.0 1022.0 1720.0 1020.2 1721.0 1019.7 1722.0 1020.1 1723.0 1019.1 1724.0 1017.3 1725.0 1023.0 1726.0 1021.2 1727.0 1019.9 1728.0 1021.3 1729.0 1022.0 1730.0 1019.0 1731.0 1020.6 1732.0 1018.8 1733.0 1020.7 1734.0 1018.9 1735.0 1024.3 1736.0 1018.7 1737.0 1020.4 1738.0 1020.3 1739.0 1018.7 1740.0 1021.3 1741.0 1019.2 1742.0 1018.6 1743.0 1019.4 1744.0 1017.9 1745.0 1021.8 1746.0 1020.7 1747.0 1021.4 1748.0 1016.7 1749.0 1020.0 1750.0 1017.9 1751.0 1019.6 1752.0 1022.0 1753.0 1019.9 1754.0 1019.1 1754.6 1021.7 1755.0 1021.4 1756.0 1023.1 1757.0 1015.7 1758.0 1020.1 1759.0 1018.6 1760.0 1017.7 1761.0 1019.7 1762.0 1017.1 1763.0 1015.0 1764.0 1017.7 1765.0 1019.0 1766.0 1023.3 1767.0 1018.1 1768.0 1017.2 1769.0 1015.6 1770.0 1018.9 1771.0 1019.2 1772.0 1020.0 1773.0 1016.8 1774.0 1018.2 1775.0 1015.2 1776.0 1020.1 1777.0 1016.7 1778.0 1014.4 1779.0 1022.2 1780.0 1020.9 1781.0 1020.7 1782.0 1020.7 1783.0 1018.0 1784.0 1022.2 1785.0 1018.0 1786.0 1024.0 1787.0 1020.7 1788.0 1016.6 1789.0 1022.0 1790.0 1024.3 1791.0 1019.9 1792.0 1022.6 1793.0 1020.1 1794.0 1019.3 1795.0 1015.4 1796.0 1023.1 1797.0 1019.8 1798.0 1021.5 1799.0 1018.5 1800.0 1019.0 1801.0 1023.1 1802.0 1020.2 1803.0 1020.2 1804.0 1018.5 1805.0 1021.5 1806.0 1022.7 1807.0 1020.3 1808.0 1020.9 1809.0 1018.9 1810.0 1024.2 1811.0 1020.2 1812.0 1021.2 1813.0 1024.9 1814.0 1021.1 1815.0 1018.5 1816.0 1019.8 1817.0 1021.0 1818.0 1025.4 1819.0 1022.3 1820.0 1021.5 1821.0 1023.6 1822.0 1024.6 1823.0 1020.6 1824.0 1025.0 1825.0 1023.9 1826.0 1023.1 1827.0 1017.5 1828.0 1022.7 1829.0 1025.2 1830.0 1021.9 1831.0 1027.1 1832.0 1022.7 1833.0 1020.5 1834.0 1023.8 1835.0 1023.3 1836.0 1024.4 1837.0 1022.3 1838.0 1025.4 1839.0 1021.8 1840.0 1023.2 1841.0 1020.4 1842.0 1021.4 1843.0 1023.5 1844.0 1021.8 1845.0 1022.2 1846.0 1022.7 1847.0 1023.7 1848.0 1024.8 1848.4 1024.8 1849.0 1025.3 1850.0 1023.7 1851.0 1022.2 1852.0 1020.2 1853.0 1022.7 1854.0 1021.8 1855.0 1019.8 1856.0 1026.9 1857.0 1019.8 1858.0 1024.3 1859.0 1024.8 1860.0 1023.2 1861.0 1028.9 1862.0 1023.8 1863.0 1022.2 1864.0 1027.4 1865.0 1022.2 1866.0 1021.0 1867.0 1021.9 1868.0 1022.7 1869.0 1024.1 1870.0 1024.7 1871.0 1021.0 1872.0 1024.8 1873.0 1028.7 1874.0 1022.7 1875.0 1024.0 1876.0 1025.7 1877.0 1026.7 1878.0 1023.0 1879.0 1022.4 1880.0 1022.4 1881.0 1026.7 1882.0 1026.3 1883.0 1020.1 1884.0 1020.2 1885.0 1022.1 1886.0 1021.6 1887.0 1025.5 1888.0 1025.1 1889.0 1028.7 1890.0 1026.4 1891.0 1025.1 1892.0 1027.2 1893.0 1023.1 1894.0 1022.1 1895.0 1025.0 1896.0 1026.9 1897.0 1021.7 1898.0 1026.9 1899.0 1026.8 1900.0 1024.1 1901.0 1025.5 1902.0 1024.6 1903.0 1025.4 1904.0 1026.9 1905.0 1023.7 1906.0 1027.4 1907.0 1027.1 1908.0 1027.2 1909.0 1021.4 1910.0 1021.7 1911.0 1026.9 1912.0 1024.3 1913.0 1024.1 1914.0 1024.0 1915.0 1022.9 1916.0 1025.1 1917.0 1024.2 1918.0 1024.4 1919.0 1026.7 1920.0 1023.4 1921.0 1028.1 1922.0 1021.3 1923.0 1030.9 1924.0 1023.1 1925.0 1027.1 1926.0 1027.8 1927.0 1025.9 1928.0 1027.5 1929.0 1025.8 1930.0 1022.4 1931.0 1026.7 1932.0 1028.4 1933.0 1025.0 1934.0 1022.7 1935.0 1024.9 1936.0 1026.8 1937.0 1026.8 1938.0 1028.5 1939.0 1027.4 1940.0 1027.3 1941.0 1022.2 1942.0 1030.8 1943.0 1026.4 1944.0 1028.1 1945.0 1025.6 1946.0 1026.0 1947.0 1026.5 1948.0 1029.6 1949.0 1029.5 1950.0 1027.7 1951.0 1030.5 1952.0 1025.6 1952.6 1027.5 1953.0 1025.5 1954.0 1029.1 1955.0 1026.6 1956.0 1028.5 1957.0 1030.0 1958.0 1022.3 1959.0 1031.0 1960.0 1027.2 1961.0 1025.9 1962.0 1022.7 1963.0 1026.0 1964.0 1021.9 1965.0 1026.8 1966.0 1026.3 1967.0 1030.4 1968.0 1026.0 1969.0 1028.9 1970.0 1029.1 1971.0 1030.9 1972.0 1026.2 1973.0 1028.3 1974.0 1023.6 1975.0 1024.5 1976.0 1026.2 1977.0 1026.7 1978.0 1024.3 1979.0 1026.0 1980.0 1028.3 1981.0 1025.9 1982.0 1026.5 1983.0 1025.0 1984.0 1029.7 1985.0 1030.5 1986.0 1027.3 1987.0 1026.7 1988.0 1030.3 1989.0 1027.9 1990.0 1025.6 1991.0 1024.2 1992.0 1025.8 1993.0 1031.5 1994.0 1025.8 1995.0 1032.9 1996.0 1027.0 1997.0 1026.6 1998.0 1029.7 1999.0 1026.5 2000.0 1027.8 2001.0 1024.9 2002.0 1024.5 2003.0 1025.6 2004.0 1027.5 2005.0 1025.7 2006.0 1023.1 2007.0 1028.1 2008.0 1026.8 2009.0 1026.6 2010.0 1025.9 2011.0 1022.5 2012.0 1030.4 2013.0 1026.2 2014.0 1028.3 2015.0 1030.1 2016.0 1029.5 2017.0 1027.6 2018.0 1027.2 2019.0 1027.9 2020.0 1029.1 2021.0 1028.4 2022.0 1026.3 2023.0 1028.2 2024.0 1028.0 2025.0 1028.7 2026.0 1027.7 2027.0 1030.1 2028.0 1027.7 2029.0 1029.1 2030.0 1027.4 2031.0 1026.1 2032.0 1025.4 2033.0 1027.0 2034.0 1028.4 2035.0 1030.0 2036.0 1027.2 2037.0 1026.3 2038.0 1026.3 2039.0 1030.0 2040.0 1027.6 2041.0 1026.4 2042.0 1028.9 2043.0 1024.7 2044.0 1027.6 2045.0 1027.3 2046.0 1027.1 2047.0 1025.1 2048.0 1029.4 2049.0 1030.9 2050.0 1024.7 2051.0 1027.7 2052.0 1028.8 2053.0 1032.1 2054.0 1026.6 2055.0 1025.5 2056.0 1027.5 2057.0 1031.6 2058.0 1027.6 2059.0 1028.0 2060.0 1031.1 2061.0 1023.1 2062.0 1023.0 2063.0 1029.3 2064.0 1029.1 2065.0 1024.6 2066.0 1028.6 2067.0 1027.6 2068.0 1027.9 2069.0 1025.8 2070.0 1026.6 2071.0 1025.7 2072.0 1027.6 2073.0 1027.0 2074.0 1030.9 2075.0 1028.8 2076.0 1024.3 2077.0 1028.4" fill="none" stroke="#078787" stroke-width="6.0" stroke-linejoin="round" stroke-linecap="round"/>
<path d="M126.0 1169.9 127.0 1167.2 128.0 1169.2 129.0 1166.6 130.0 1168.4 131.0 1164.6 132.0 1168.7 133.0 1163.7 134.0 1170.0 135.0 1163.5 136.0 1162.1 137.0 1168.4 138.0 1166.8 139.0 1167.5 140.0 1168.3 141.0 1167.3 142.0 1165.3 143.0 1168.0 144.0 1168.4 145.0 1168.8 146.0 1172.3 147.0 1166.0 148.0 1167.9 149.0 1169.1 150.0 1166.8 151.0 1165.1 152.0 1166.6 153.0 1170.6 154.0 1167.5 155.0 1169.6 156.0 1166.5 157.0 1169.3 158.0 1166.7 159.0 1166.4 160.0 1168.7 161.0 1168.6 162.0 1172.0 163.0 1164.8 164.0 1169.8 165.0 1172.5 166.0 1172.0 167.0 1167.9 168.0 1167.3 169.0 1167.7 170.0 1169.7 171.0 1169.5 172.0 1169.9 173.0 1170.5 174.0 1166.7 175.0 1166.6 176.0 1166.4 176.2 1166.1 177.0 1169.1 178.0 1170.1 179.0 1175.4 180.0 1170.8 181.0 1169.6 182.0 1172.9 183.0 1167.9 184.0 1170.5 185.0 1172.0 186.0 1171.7 187.0 1170.8 188.0 1169.1 189.0 1167.0 190.0 1169.6 191.0 1168.6 192.0 1171.7 193.0 1169.8 194.0 1171.5 195.0 1166.4 196.0 1172.6 197.0 1168.3 198.0 1166.7 199.0 1167.2 200.0 1169.0 201.0 1173.2 202.0 1172.2 203.0 1167.8 204.0 1170.9 205.0 1170.5 206.0 1167.1 207.0 1168.5 208.0 1166.0 209.0 1168.8 210.0 1164.7 211.0 1169.1 212.0 1168.8 213.0 1169.2 214.0 1169.2 215.0 1173.9 216.0 1170.4 217.0 1171.8 218.0 1173.1 219.0 1173.5 220.0 1173.0 221.0 1170.2 222.0 1168.9 223.0 1169.8 224.0 1170.5 225.0 1171.7 226.0 1171.5 227.0 1174.4 228.0 1171.6 229.0 1176.1 230.0 1174.4 231.0 1170.9 232.0 1174.1 232.4 1165.3 233.0 1175.4 234.0 1173.2 235.0 1173.2 236.0 1168.4 237.0 1178.3 238.0 1171.9 239.0 1172.2 240.0 1175.3 241.0 1172.2 242.0 1170.8 243.0 1174.4 244.0 1170.6 245.0 1174.8 246.0 1173.4 247.0 1175.8 248.0 1170.4 249.0 1176.3 250.0 1174.2 251.0 1178.2 252.0 1172.1 253.0 1178.1 254.0 1175.5 255.0 1175.8 256.0 1172.3 257.0 1175.4 258.0 1175.8 259.0 1172.3 260.0 1171.6 261.0 1172.6 262.0 1178.0 263.0 1175.0 264.0 1176.9 265.0 1175.5 266.0 1175.1 267.0 1175.5 268.0 1174.1 269.0 1178.0 270.0 1175.6 271.0 1175.8 272.0 1172.0 273.0 1176.1 274.0 1173.8 275.0 1174.3 276.0 1178.0 277.0 1173.0 278.0 1175.2 279.0 1177.2 280.0 1178.4 281.0 1174.5 282.0 1176.5 283.0 1176.5 284.0 1173.2 285.0 1170.8 286.0 1171.3 287.0 1177.3 288.0 1176.1 288.6 1172.7 289.0 1174.4 290.0 1174.9 291.0 1175.0 292.0 1175.7 293.0 1180.9 294.0 1173.7 295.0 1175.8 296.0 1173.5 297.0 1173.6 298.0 1172.9 299.0 1174.2 300.0 1173.3 301.0 1175.2 302.0 1174.6 303.0 1171.8 304.0 1178.1 305.0 1170.6 306.0 1174.0 307.0 1178.0 308.0 1170.9 309.0 1175.4 310.0 1175.4 311.0 1172.6 312.0 1167.2 313.0 1174.6 314.0 1171.2 315.0 1169.4 316.0 1173.5 316.7 1168.6 317.0 1172.7 318.0 1168.7 319.0 1170.9 320.0 1166.8 321.0 1168.0 322.0 1166.4 323.0 1166.5 324.0 1168.2 325.0 1166.9 326.0 1167.4 327.0 1169.5 328.0 1165.9 329.0 1161.4 330.0 1164.8 331.0 1165.4 332.0 1167.4 333.0 1167.2 334.0 1166.9 335.0 1164.1 335.5 1166.1 336.0 1161.2 337.0 1167.7 338.0 1165.7 339.0 1165.9 340.0 1163.9 341.0 1164.9 342.0 1163.3 343.0 1166.3 344.0 1162.0 345.0 1167.5 346.0 1166.6 347.0 1170.2 348.0 1165.4 348.6 1165.4 349.0 1166.1 350.0 1165.9 351.0 1165.9 352.0 1163.9 353.0 1164.3 354.0 1166.1 355.0 1167.3 356.0 1165.7 357.0 1166.4 358.0 1169.1 359.0 1172.2 360.0 1170.7 361.0 1173.4 362.0 1174.8 363.0 1175.0 364.0 1172.8 365.0 1173.5 366.0 1170.7 367.0 1174.0 368.0 1177.2 369.0 1174.1 370.0 1180.2 371.0 1180.7 372.0 1176.8 372.9 1180.0 373.0 1174.5 374.0 1175.5 375.0 1177.2 376.0 1178.3 377.0 1177.9 378.0 1176.5 379.0 1183.3 380.0 1179.5 381.0 1179.6 382.0 1180.6 383.0 1179.5 384.0 1178.7 385.0 1178.0 386.0 1175.6 387.0 1183.1 388.0 1177.5 389.0 1175.9 390.0 1178.0 391.0 1176.2 392.0 1184.7 393.0 1181.0 394.0 1183.5 395.0 1183.7 396.0 1181.7 397.0 1181.8 398.0 1178.8 399.0 1180.4 400.0 1179.2 401.0 1180.8 402.0 1179.2 403.0 1183.8 404.0 1182.7 405.0 1180.7 406.0 1177.1 407.0 1182.7 408.0 1183.2 409.0 1181.0 410.0 1178.2 411.0 1182.3 412.0 1183.8 413.0 1176.8 414.0 1182.7 415.0 1177.1 416.0 1181.6 417.0 1185.5 418.0 1181.7 419.0 1182.6 419.8 1180.7 420.0 1181.5 421.0 1187.0 422.0 1184.7 423.0 1180.8 424.0 1180.7 425.0 1181.6 426.0 1186.8 427.0 1182.1 428.0 1184.2 429.0 1180.8 430.0 1178.7 431.0 1184.8 432.0 1181.5 433.0 1179.9 434.0 1180.1 435.0 1180.2 436.0 1180.3 437.0 1178.2 438.0 1184.6 439.0 1182.7 440.0 1184.1 441.0 1181.0 442.0 1182.6 443.0 1182.2 444.0 1184.6 445.0 1183.8 446.0 1182.7 447.0 1180.3 448.0 1179.1 449.0 1180.0 450.0 1180.4 451.0 1180.6 452.0 1179.0 453.0 1185.8 454.0 1182.6 455.0 1177.2 456.0 1179.4 457.0 1178.8 458.0 1182.5 459.0 1184.5 460.0 1179.7 461.0 1183.4 462.0 1181.3 463.0 1184.7 464.0 1185.2 465.0 1182.7 466.0 1183.7 467.0 1182.0 468.0 1181.1 469.0 1179.3 470.0 1182.8 471.0 1181.9 472.0 1181.1 473.0 1181.9 474.0 1181.6 475.0 1179.6 476.0 1180.8 477.0 1184.7 478.0 1181.5 479.0 1185.3 480.0 1179.4 481.0 1178.9 482.0 1182.4 483.0 1183.9 484.0 1180.6 485.0 1183.6 486.0 1184.3 487.0 1184.6 488.0 1181.9 489.0 1182.0 490.0 1178.3 491.0 1182.2 492.0 1182.8 493.0 1185.5 494.0 1179.2 495.0 1180.2 496.0 1179.9 497.0 1184.3 498.0 1176.3 499.0 1179.7 500.0 1187.0 501.0 1183.8 502.0 1179.2 503.0 1182.1 504.0 1184.3 505.0 1183.6 506.0 1181.8 507.0 1180.5 508.0 1184.3 509.0 1182.3 510.0 1184.2 511.0 1183.3 512.0 1181.3 513.0 1185.7 513.4 1181.2 514.0 1183.4 515.0 1181.0 516.0 1181.9 517.0 1181.9 518.0 1180.9 519.0 1183.0 520.0 1185.6 521.0 1186.9 522.0 1185.9 523.0 1182.2 524.0 1186.0 525.0 1183.6 526.0 1186.8 527.0 1179.8 528.0 1186.1 529.0 1181.3 530.0 1185.4 531.0 1181.7 532.0 1184.9 533.0 1182.2 534.0 1178.5 535.0 1180.6 536.0 1182.4 537.0 1183.0 538.0 1177.8 539.0 1180.2 540.0 1181.3 541.0 1182.6 542.0 1183.6 543.0 1181.2 544.0 1179.6 545.0 1183.9 546.0 1182.4 547.0 1185.3 548.0 1182.0 549.0 1184.8 550.0 1181.2 551.0 1184.0 552.0 1183.6 553.0 1184.4 554.0 1181.3 555.0 1183.2 556.0 1181.5 557.0 1183.1 558.0 1184.9 559.0 1190.4 560.0 1183.6 561.0 1185.2 562.0 1183.8 563.0 1186.2 564.0 1184.7 565.0 1186.0 566.0 1184.5 567.0 1189.2 568.0 1186.9 569.0 1179.7 570.0 1184.4 571.0 1183.9 572.0 1178.6 573.0 1181.7 574.0 1182.6 575.0 1182.0 576.0 1184.0 577.0 1179.6 578.0 1185.4 579.0 1185.5 580.0 1184.5 581.0 1182.9 582.0 1183.7 583.0 1182.6 584.0 1186.3 585.0 1184.8 586.0 1188.2 587.0 1182.8 588.0 1187.0 589.0 1182.3 590.0 1183.2 591.0 1181.2 592.0 1184.8 593.0 1183.4 594.0 1184.9 595.0 1186.9 596.0 1183.3 597.0 1184.3 598.0 1185.5 599.0 1183.3 600.0 1182.1 601.0 1184.2 602.0 1184.5 603.0 1185.1 604.0 1185.2 605.0 1181.7 606.0 1184.3 607.0 1186.0 608.0 1182.1 609.0 1184.0 610.0 1181.7 611.0 1183.5 612.0 1187.1 613.0 1183.4 614.0 1180.8 615.0 1183.8 616.0 1183.4 617.0 1185.5 618.0 1179.7 619.0 1180.7 620.0 1182.6 621.0 1179.2 622.0 1185.4 623.0 1178.1 624.0 1180.8 625.0 1179.3 626.0 1181.1 627.0 1184.5 628.0 1184.0 629.0 1184.7 630.0 1183.9 631.0 1177.8 632.0 1183.2 633.0 1178.2 634.0 1181.2 635.0 1181.5 636.0 1181.1 637.0 1183.5 638.0 1180.4 639.0 1186.3 640.0 1183.6 641.0 1184.9 642.0 1183.9 643.0 1184.2 644.0 1182.0 645.0 1186.6 646.0 1179.7 647.0 1183.1 648.0 1182.1 649.0 1181.5 650.0 1182.7 651.0 1180.3 652.0 1184.0 653.0 1183.8 654.0 1182.2 655.0 1183.6 656.0 1179.5 657.0 1177.7 658.0 1180.5 659.0 1181.3 660.0 1187.6 661.0 1181.3 662.0 1184.2 663.0 1183.8 664.0 1186.7 665.0 1182.1 666.0 1183.3 667.0 1181.4 668.0 1179.8 668.6 1179.5 669.0 1180.0 670.0 1185.1 671.0 1182.5 672.0 1181.6 673.0 1182.0 674.0 1180.8 675.0 1182.1 676.0 1182.2 677.0 1183.9 678.0 1184.6 679.0 1178.9 680.0 1183.3 681.0 1186.1 682.0 1180.7 683.0 1182.6 684.0 1183.8 685.0 1186.1 686.0 1185.1 687.0 1183.4 688.0 1185.2 689.0 1186.6 690.0 1185.3 691.0 1188.8 692.0 1185.6 693.0 1182.4 694.0 1183.1 695.0 1184.7 696.0 1184.7 697.0 1186.7 698.0 1186.2 699.0 1189.4 700.0 1187.4 701.0 1189.0 702.0 1183.9 703.0 1184.7 704.0 1187.4 705.0 1186.0 706.0 1187.3 707.0 1186.5 708.0 1184.6 709.0 1190.0 710.0 1188.8 711.0 1182.6 712.0 1184.8 713.0 1186.3 714.0 1187.9 715.0 1186.2 716.0 1183.3 717.0 1188.3 718.0 1186.0 719.0 1189.3 720.0 1187.2 721.0 1188.8 722.0 1188.5 723.0 1188.6 723.4 1185.4 724.0 1188.9 725.0 1186.8 726.0 1183.2 727.0 1184.8 728.0 1184.5 729.0 1185.8 730.0 1185.8 731.0 1181.1 732.0 1184.8 733.0 1182.4 734.0 1179.7 735.0 1183.7 736.0 1179.8 737.0 1178.6 737.5 1183.1 738.0 1183.4 739.0 1179.9 740.0 1183.9 741.0 1183.8 742.0 1180.4 743.0 1186.3 744.0 1181.6 745.0 1182.4 746.0 1176.5 747.0 1183.5 748.0 1180.7 749.0 1183.2 750.0 1178.3 751.0 1184.9 751.5 1185.6 752.0 1186.4 753.0 1173.8 754.0 1179.1 755.0 1174.6 756.0 1162.2 756.2 1166.4 757.0 1160.9 758.0 1150.0 759.0 1128.2 760.0 1109.0 761.0 1089.9 762.0 1081.7 763.0 1074.8 763.2 1077.6 764.0 1080.7 765.0 1084.0 765.3 1092.7 766.0 1098.2 767.0 1117.9 767.4 1127.7 768.0 1134.6 769.0 1149.2 769.3 1151.9 770.0 1155.1 771.0 1157.0 772.0 1159.7 773.0 1166.2 774.0 1168.3 775.0 1168.2 776.0 1167.3 777.0 1170.0 778.0 1168.2 779.0 1165.3 780.0 1169.2 781.0 1169.8 782.0 1170.5 783.0 1166.8 784.0 1167.3 785.0 1169.9 786.0 1168.4 787.0 1169.5 787.1 1171.9 788.0 1171.2 789.0 1175.7 790.0 1173.6 791.0 1178.4 792.0 1178.3 793.0 1182.7 793.7 1177.3 794.0 1177.1 795.0 1180.5 796.0 1176.6 797.0 1176.9 798.0 1178.7 799.0 1179.1 800.0 1175.2 801.0 1179.1 802.0 1177.9 803.0 1178.6 804.0 1179.2 805.0 1178.4 806.0 1181.4 807.0 1180.1 808.0 1178.7 809.0 1179.4 810.0 1181.7 811.0 1181.2 812.0 1182.4 812.4 1179.3 813.0 1180.0 814.0 1184.5 815.0 1180.0 816.0 1184.1 817.0 1182.4 818.0 1179.7 819.0 1177.8 820.0 1182.7 821.0 1179.8 822.0 1180.1 823.0 1177.9 824.0 1184.8 825.0 1182.5 826.0 1182.5 827.0 1183.5 828.0 1183.3 829.0 1183.1 830.0 1184.1 831.0 1182.3 831.1 1177.0 832.0 1183.8 833.0 1180.6 834.0 1176.7 834.5 1178.9 835.0 1170.4 836.0 1162.7 837.0 1169.1 837.7 1165.7 838.0 1161.2 839.0 1166.7 840.0 1173.2 841.0 1172.5 842.0 1179.0 843.0 1184.9 844.0 1185.1 845.0 1182.8 845.2 1183.7 846.0 1180.8 847.0 1183.3 848.0 1182.3 849.0 1180.9 850.0 1180.1 851.0 1187.6 852.0 1183.4 853.0 1180.9 854.0 1182.3 855.0 1186.7 856.0 1187.0 857.0 1181.9 858.0 1183.8 859.0 1185.4 860.0 1182.6 861.0 1180.7 862.0 1181.2 863.0 1183.4 864.0 1181.7 865.0 1180.5 866.0 1182.9 867.0 1185.6 868.0 1185.0 868.6 1182.9 869.0 1187.8 870.0 1181.6 871.0 1183.1 872.0 1180.1 873.0 1184.8 874.0 1182.6 875.0 1178.8 876.0 1180.5 877.0 1186.2 878.0 1183.5 879.0 1181.8 880.0 1183.3 881.0 1177.4 882.0 1178.8 883.0 1177.4 884.0 1178.2 885.0 1179.0 886.0 1180.7 887.0 1181.5 888.0 1181.1 889.0 1184.6 890.0 1176.9 891.0 1177.6 892.0 1178.4 893.0 1174.9 894.0 1175.7 895.0 1176.9 896.0 1173.5 896.7 1176.3 897.0 1177.9 898.0 1172.0 899.0 1168.7 900.0 1173.4 901.0 1170.2 902.0 1172.5 903.0 1170.6 904.0 1172.1 904.4 1174.0 905.0 1173.4 906.0 1171.2 907.0 1170.3 908.0 1168.5 909.0 1170.6 910.0 1175.2 911.0 1178.7 912.0 1178.3 913.0 1179.7 914.0 1178.3 915.0 1178.7 915.6 1178.6 916.0 1184.0 917.0 1177.8 918.0 1183.5 919.0 1179.4 920.0 1182.0 921.0 1180.6 922.0 1181.0 923.0 1181.1 924.0 1175.8 925.0 1174.5 926.0 1175.0 927.0 1173.5 928.0 1176.2 929.0 1174.1 930.0 1174.1 930.6 1175.0 931.0 1173.0 932.0 1176.6 933.0 1170.0 934.0 1174.8 935.0 1175.6 936.0 1172.9 937.0 1173.3 938.0 1177.2 939.0 1174.7 940.0 1171.4 941.0 1173.0 942.0 1178.7 943.0 1174.8 944.0 1180.1 945.0 1180.6 946.0 1177.4 947.0 1179.5 948.0 1176.7 949.0 1178.0 950.0 1177.6 951.0 1180.9 952.0 1176.9 953.0 1179.8 954.0 1180.5 955.0 1181.8 956.0 1175.9 957.0 1176.9 958.0 1179.2 959.0 1180.9 960.0 1182.0 961.0 1182.3 962.0 1186.7 963.0 1183.8 964.0 1183.8 965.0 1181.6 966.0 1184.7 967.0 1184.7 968.0 1184.9 969.0 1183.3 970.0 1185.2 971.0 1187.4 972.0 1182.3 973.0 1179.4 974.0 1186.4 975.0 1186.4 976.0 1184.3 977.0 1184.0 978.0 1191.5 979.0 1184.2 980.0 1182.6 981.0 1184.5 982.0 1186.8 983.0 1184.4 984.0 1185.0 985.0 1186.6 986.0 1185.0 987.0 1186.4 988.0 1186.0 989.0 1183.7 990.0 1186.3 990.5 1183.5 991.0 1188.2 992.0 1183.0 993.0 1182.8 994.0 1176.8 995.0 1176.9 996.0 1167.3 997.0 1161.4 997.8 1149.7 998.0 1149.7 999.0 1136.8 1000.0 1131.8 1000.8 1132.4 1001.0 1129.8 1002.0 1140.1 1003.0 1144.8 1003.5 1150.3 1004.0 1155.9 1005.0 1168.4 1006.0 1179.7 1007.0 1179.8 1008.0 1184.6 1009.0 1187.8 1009.3 1185.6 1010.0 1185.6 1011.0 1184.7 1012.0 1185.8 1013.0 1187.3 1014.0 1185.4 1015.0 1182.3 1016.0 1186.6 1017.0 1186.0 1018.0 1187.5 1019.0 1186.7 1020.0 1190.3 1021.0 1184.1 1022.0 1184.7 1023.0 1188.5 1024.0 1184.8 1025.0 1187.9 1026.0 1187.2 1027.0 1182.9 1028.0 1188.9 1029.0 1190.6 1030.0 1188.0 1031.0 1184.4 1032.0 1189.4 1033.0 1185.3 1034.0 1187.4 1035.0 1188.7 1036.0 1186.0 1037.0 1184.0 1038.0 1187.5 1039.0 1187.7 1040.0 1185.9 1041.0 1186.1 1042.0 1189.6 1043.0 1187.7 1044.0 1186.9 1045.0 1186.6 1046.0 1188.3 1047.0 1188.1 1048.0 1187.5 1048.6 1184.8 1049.0 1187.1 1050.0 1186.5 1051.0 1188.1 1052.0 1190.5 1053.0 1190.1 1054.0 1189.4 1055.0 1188.2 1056.0 1187.2 1057.0 1188.6 1058.0 1186.8 1059.0 1187.1 1060.0 1186.0 1061.0 1187.7 1062.0 1187.7 1063.0 1191.9 1064.0 1189.0 1065.0 1186.9 1066.0 1189.5 1067.0 1186.7 1068.0 1189.9 1069.0 1189.4 1070.0 1194.1 1071.0 1185.1 1072.0 1187.4 1073.0 1187.2 1074.0 1188.1 1075.0 1189.0 1076.0 1185.2 1077.0 1185.7 1078.0 1187.9 1079.0 1189.3 1080.0 1184.6 1081.0 1183.5 1082.0 1189.5 1083.0 1187.4 1084.0 1185.0 1085.0 1177.1 1085.5 1177.5 1086.0 1177.2 1087.0 1175.0 1088.0 1171.6 1088.9 1171.0 1089.0 1173.4 1090.0 1172.1 1091.0 1175.4 1092.0 1179.0 1093.0 1181.7 1094.0 1186.0 1095.0 1187.2 1095.5 1186.9 1096.0 1191.1 1097.0 1188.6 1098.0 1187.2 1099.0 1190.7 1100.0 1186.7 1101.0 1187.9 1102.0 1187.7 1103.0 1186.7 1104.0 1187.1 1105.0 1188.1 1106.0 1184.8 1107.0 1187.1 1108.0 1188.5 1109.0 1188.5 1110.0 1188.6 1111.0 1193.1 1112.0 1189.4 1113.0 1187.6 1114.0 1187.7 1115.0 1187.9 1116.0 1188.9 1117.0 1187.3 1118.0 1191.2 1119.0 1185.5 1120.0 1189.3 1121.0 1189.0 1122.0 1185.4 1123.0 1189.3 1124.0 1189.1 1125.0 1186.5 1126.0 1193.0 1127.0 1189.5 1128.0 1187.2 1129.0 1186.9 1130.0 1186.3 1131.0 1188.5 1132.0 1188.1 1133.0 1184.8 1134.0 1185.6 1135.0 1186.4 1136.0 1187.0 1137.0 1187.1 1138.0 1186.5 1139.0 1189.3 1140.0 1190.0 1141.0 1188.1 1142.0 1183.1 1142.3 1187.6 1143.0 1189.1 1144.0 1187.7 1145.0 1188.5 1146.0 1188.1 1147.0 1184.6 1148.0 1182.4 1149.0 1189.2 1150.0 1186.7 1151.0 1188.8 1152.0 1187.2 1153.0 1187.5 1154.0 1190.8 1155.0 1185.2 1156.0 1187.8 1157.0 1185.4 1158.0 1187.9 1159.0 1188.8 1160.0 1189.1 1161.0 1188.0 1162.0 1184.6 1163.0 1188.2 1164.0 1189.6 1165.0 1189.8 1166.0 1192.2 1167.0 1188.8 1168.0 1185.3 1169.0 1186.4 1170.0 1187.7 1171.0 1189.7 1172.0 1184.9 1173.0 1189.4 1174.0 1188.8 1175.0 1185.5 1176.0 1188.7 1177.0 1185.6 1178.0 1187.3 1179.0 1186.6 1180.0 1187.8 1181.0 1184.6 1182.0 1188.3 1183.0 1182.4 1184.0 1186.3 1185.0 1185.9 1186.0 1190.6 1187.0 1188.3 1188.0 1186.0 1189.0 1185.1 1190.0 1187.1 1191.0 1185.7 1192.0 1191.9 1193.0 1181.0 1194.0 1187.2 1195.0 1181.7 1196.0 1189.3 1197.0 1185.3 1198.0 1190.5 1198.5 1185.8 1199.0 1189.4 1200.0 1187.5 1201.0 1189.7 1202.0 1187.2 1203.0 1180.7 1204.0 1185.8 1205.0 1184.1 1206.0 1189.7 1207.0 1188.9 1208.0 1187.9 1209.0 1189.1 1210.0 1188.7 1211.0 1187.2 1212.0 1192.9 1213.0 1189.4 1214.0 1188.7 1215.0 1186.1 1216.0 1188.2 1217.0 1189.8 1218.0 1189.6 1219.0 1189.2 1220.0 1190.3 1221.0 1188.2 1222.0 1190.9 1223.0 1187.7 1224.0 1189.4 1225.0 1189.8 1226.0 1193.5 1227.0 1192.9 1228.0 1192.1 1229.0 1189.6 1230.0 1191.4 1231.0 1194.1 1232.0 1195.2 1233.0 1189.3 1234.0 1191.6 1235.0 1192.8 1236.0 1193.4 1237.0 1192.5 1238.0 1193.7 1239.0 1188.6 1240.0 1194.6 1241.0 1187.9 1242.0 1189.5 1243.0 1189.4 1244.0 1189.5 1245.0 1185.1 1246.0 1178.5 1247.0 1173.0 1247.5 1167.6 1248.0 1167.8 1249.0 1166.0 1250.0 1158.3 1251.0 1155.9 1252.0 1158.1 1253.0 1166.7 1254.0 1170.6 1254.5 1169.2 1255.0 1172.8 1256.0 1179.5 1257.0 1187.1 1258.0 1184.8 1259.0 1190.0 1260.0 1192.0 1260.3 1193.3 1261.0 1192.8 1262.0 1192.0 1263.0 1193.3 1264.0 1187.0 1265.0 1199.4 1266.0 1194.5 1267.0 1194.6 1268.0 1191.2 1269.0 1193.6 1270.0 1197.2 1271.0 1196.7 1272.0 1192.9 1273.0 1190.0 1274.0 1193.1 1275.0 1192.1 1276.0 1194.6 1277.0 1189.9 1278.0 1192.3 1279.0 1193.3 1280.0 1191.7 1281.0 1195.1 1282.0 1190.2 1283.0 1190.0 1284.0 1192.0 1285.0 1194.6 1286.0 1192.1 1287.0 1191.4 1288.0 1194.5 1289.0 1193.2 1290.0 1191.6 1291.0 1193.0 1292.0 1192.2 1293.0 1194.1 1294.0 1193.1 1295.0 1191.0 1296.0 1191.7 1297.0 1191.8 1298.0 1193.6 1299.0 1193.6 1300.0 1190.9 1301.0 1192.3 1302.0 1193.4 1303.0 1195.2 1304.0 1193.3 1305.0 1197.1 1306.0 1192.8 1306.8 1194.4 1307.0 1192.0 1308.0 1190.5 1309.0 1192.9 1310.0 1193.6 1311.0 1193.2 1312.0 1192.6 1313.0 1191.4 1314.0 1190.1 1315.0 1191.1 1316.0 1192.5 1317.0 1193.3 1318.0 1183.7 1319.0 1192.0 1320.0 1192.8 1321.0 1192.9 1322.0 1190.6 1323.0 1191.0 1324.0 1188.2 1325.0 1188.7 1326.0 1189.7 1327.0 1185.8 1328.0 1186.2 1329.0 1188.1 1330.0 1184.4 1331.0 1187.2 1332.0 1183.6 1333.0 1187.0 1334.0 1186.4 1335.0 1184.9 1336.0 1183.9 1337.0 1184.6 1338.0 1180.6 1339.0 1184.5 1340.0 1185.4 1341.0 1187.5 1342.0 1183.5 1343.0 1184.1 1344.0 1187.3 1345.0 1187.8 1346.0 1182.7 1347.0 1185.9 1348.0 1186.0 1349.0 1184.4 1350.0 1180.9 1351.0 1180.9 1352.0 1184.1 1353.0 1187.8 1354.0 1182.2 1355.0 1186.0 1356.0 1186.7 1357.0 1179.7 1357.4 1181.1 1358.0 1185.8 1359.0 1184.6 1360.0 1183.7 1361.0 1182.5 1362.0 1184.0 1363.0 1181.2 1364.0 1188.2 1365.0 1180.2 1366.0 1178.9 1367.0 1183.3 1368.0 1186.2 1369.0 1182.1 1370.0 1183.1 1371.0 1181.1 1372.0 1183.3 1373.0 1181.4 1374.0 1181.5 1375.0 1180.6 1376.0 1182.8 1377.0 1188.3 1378.0 1184.2 1379.0 1184.9 1380.0 1189.5 1381.0 1183.3 1382.0 1182.7 1383.0 1186.2 1384.0 1182.5 1385.0 1186.1 1386.0 1188.0 1387.0 1183.2 1388.0 1184.6 1389.0 1189.6 1390.0 1183.7 1391.0 1184.6 1391.1 1186.7 1392.0 1185.6 1393.0 1184.5 1394.0 1190.1 1395.0 1185.4 1396.0 1187.6 1397.0 1186.1 1398.0 1186.7 1399.0 1184.4 1400.0 1189.7 1401.0 1186.8 1402.0 1190.8 1403.0 1185.6 1404.0 1187.3 1405.0 1189.6 1406.0 1189.0 1407.0 1187.5 1408.0 1188.9 1409.0 1186.5 1410.0 1189.7 1411.0 1183.9 1412.0 1190.3 1413.0 1193.1 1414.0 1192.3 1415.0 1192.4 1416.0 1189.7 1417.0 1191.9 1418.0 1190.0 1419.0 1190.9 1420.0 1191.0 1421.0 1183.9 1422.0 1193.5 1423.0 1192.5 1424.0 1193.4 1425.0 1189.5 1426.0 1193.2 1427.0 1192.8 1428.0 1186.8 1428.6 1187.9 1429.0 1191.9 1430.0 1190.2 1431.0 1191.6 1432.0 1190.0 1433.0 1194.6 1434.0 1186.8 1435.0 1187.7 1436.0 1188.3 1437.0 1187.2 1438.0 1188.6 1439.0 1189.5 1440.0 1186.4 1441.0 1189.9 1442.0 1191.7 1443.0 1191.0 1444.0 1192.8 1445.0 1190.7 1446.0 1188.0 1447.0 1192.0 1447.4 1189.6 1448.0 1192.2 1449.0 1187.8 1450.0 1183.8 1451.0 1186.1 1452.0 1189.5 1453.0 1190.7 1454.0 1189.5 1455.0 1192.7 1456.0 1188.4 1457.0 1189.9 1458.0 1194.2 1459.0 1192.6 1460.0 1193.2 1461.0 1196.5 1462.0 1196.2 1463.0 1192.4 1464.0 1194.8 1465.0 1190.8 1466.0 1194.6 1467.0 1195.4 1468.0 1190.7 1469.0 1198.0 1470.0 1199.0 1471.0 1195.7 1472.0 1196.6 1473.0 1197.9 1474.0 1194.2 1475.0 1196.9 1476.0 1195.4 1477.0 1191.2 1478.0 1192.5 1479.0 1193.3 1480.0 1196.9 1481.0 1194.7 1482.0 1196.7 1483.0 1193.4 1484.0 1191.6 1485.0 1199.0 1486.0 1200.5 1487.0 1195.3 1488.0 1194.0 1489.0 1197.0 1490.0 1191.9 1491.0 1193.9 1492.0 1191.2 1493.0 1195.4 1494.0 1194.9 1495.0 1193.4 1496.0 1192.8 1497.0 1190.9 1498.0 1192.4 1499.0 1197.0 1500.0 1193.4 1501.0 1197.0 1502.0 1192.3 1503.0 1194.0 1504.0 1193.1 1505.0 1193.6 1506.0 1195.8 1507.0 1189.5 1508.0 1195.7 1509.0 1195.6 1510.0 1194.0 1511.0 1194.2 1512.0 1193.5 1513.0 1195.5 1514.0 1194.1 1515.0 1192.1 1516.0 1194.3 1517.0 1196.0 1518.0 1194.7 1519.0 1194.0 1520.0 1194.3 1521.0 1192.8 1522.0 1192.8 1523.0 1189.7 1524.0 1193.4 1525.0 1196.0 1526.0 1192.9 1527.0 1191.8 1528.0 1195.8 1529.0 1194.1 1530.0 1194.1 1531.0 1194.8 1532.0 1195.3 1533.0 1193.6 1534.0 1191.9 1535.0 1197.6 1536.0 1193.8 1537.0 1192.0 1538.0 1194.1 1539.0 1196.3 1540.0 1190.6 1541.0 1196.6 1542.0 1193.4 1543.0 1198.1 1544.0 1195.2 1545.0 1193.5 1546.0 1196.5 1547.0 1196.5 1548.0 1192.9 1549.0 1194.2 1550.0 1192.6 1551.0 1195.8 1552.0 1190.6 1553.0 1193.4 1554.0 1189.1 1555.0 1195.0 1556.0 1188.9 1557.0 1191.4 1558.0 1194.4 1559.0 1193.0 1560.0 1192.8 1561.0 1191.7 1562.0 1192.8 1563.0 1190.0 1564.0 1194.5 1565.0 1195.6 1566.0 1195.5 1567.0 1193.8 1568.0 1196.5 1569.0 1194.9 1570.0 1196.0 1571.0 1194.7 1572.0 1193.9 1573.0 1192.2 1574.0 1188.1 1575.0 1195.3 1576.0 1193.6 1577.0 1198.3 1578.0 1189.6 1579.0 1195.8 1580.0 1191.9 1581.0 1193.9 1582.0 1192.0 1583.0 1194.7 1584.0 1193.9 1585.0 1195.9 1586.0 1194.3 1587.0 1195.0 1588.0 1196.8 1589.0 1195.1 1590.0 1193.7 1591.0 1196.7 1592.0 1193.7 1593.0 1194.9 1594.0 1193.3 1595.0 1192.6 1596.0 1187.4 1597.0 1195.5 1598.0 1191.5 1599.0 1195.6 1600.0 1198.0 1601.0 1190.6 1602.0 1194.0 1603.0 1190.0 1604.0 1189.3 1605.0 1184.0 1606.0 1185.6 1606.6 1185.7 1607.0 1188.5 1608.0 1190.4 1609.0 1187.1 1610.0 1186.6 1611.0 1193.4 1612.0 1189.5 1613.0 1190.8 1614.0 1192.4 1615.0 1194.2 1616.0 1195.5 1617.0 1193.2 1617.8 1194.4 1618.0 1198.7 1619.0 1197.8 1620.0 1194.6 1621.0 1193.2 1622.0 1190.9 1623.0 1192.3 1624.0 1187.5 1625.0 1187.6 1626.0 1185.2 1627.0 1183.8 1628.0 1184.6 1629.0 1184.3 1630.0 1183.4 1631.0 1185.3 1632.0 1186.8 1633.0 1187.1 1634.0 1188.3 1635.0 1191.2 1636.0 1194.7 1637.0 1197.2 1638.0 1196.4 1639.0 1196.4 1640.0 1197.3 1640.3 1201.6 1641.0 1199.4 1642.0 1195.3 1643.0 1197.2 1644.0 1196.1 1645.0 1196.4 1646.0 1193.4 1647.0 1197.1 1648.0 1193.9 1649.0 1195.5 1650.0 1199.9 1651.0 1198.7 1652.0 1194.5 1653.0 1194.0 1654.0 1194.1 1655.0 1191.9 1656.0 1193.7 1657.0 1195.2 1658.0 1193.4 1659.0 1197.3 1660.0 1195.5 1661.0 1194.4 1662.0 1199.3 1663.0 1197.0 1664.0 1195.5 1665.0 1199.3 1666.0 1198.1 1667.0 1193.7 1668.0 1195.8 1669.0 1194.1 1670.0 1191.9 1671.0 1199.1 1672.0 1198.2 1673.0 1192.1 1674.0 1195.9 1675.0 1191.2 1676.0 1197.1 1677.0 1194.6 1678.0 1194.0 1679.0 1197.3 1680.0 1194.5 1681.0 1193.9 1682.0 1196.4 1683.0 1193.7 1684.0 1196.3 1685.0 1194.3 1686.0 1196.1 1687.0 1195.6 1688.0 1195.9 1689.0 1191.9 1690.0 1198.2 1691.0 1193.7 1692.0 1197.9 1693.0 1192.7 1694.0 1193.3 1695.0 1193.3 1696.0 1196.4 1697.0 1192.9 1698.0 1194.7 1699.0 1190.3 1700.0 1192.7 1701.0 1194.2 1702.0 1193.4 1703.0 1189.5 1704.0 1194.7 1705.0 1191.5 1706.0 1197.8 1707.0 1193.1 1708.0 1198.5 1709.0 1195.0 1710.0 1194.5 1711.0 1192.4 1712.0 1193.2 1713.0 1194.4 1714.0 1189.1 1715.0 1195.6 1716.0 1190.8 1717.0 1192.8 1718.0 1187.3 1719.0 1194.4 1720.0 1195.0 1721.0 1194.0 1722.0 1194.1 1723.0 1192.5 1723.4 1193.7 1724.0 1196.0 1725.0 1192.4 1726.0 1194.5 1727.0 1195.0 1728.0 1192.8 1729.0 1193.9 1730.0 1193.8 1731.0 1192.3 1732.0 1198.8 1733.0 1192.4 1734.0 1197.2 1735.0 1195.8 1736.0 1188.9 1737.0 1194.0 1738.0 1195.7 1739.0 1195.3 1740.0 1191.5 1741.0 1194.1 1742.0 1190.8 1743.0 1191.2 1744.0 1193.0 1745.0 1194.0 1746.0 1197.1 1747.0 1194.4 1748.0 1196.0 1749.0 1191.0 1750.0 1191.1 1751.0 1192.6 1752.0 1197.6 1753.0 1190.7 1754.0 1190.2 1755.0 1193.6 1756.0 1196.4 1757.0 1190.2 1758.0 1193.3 1759.0 1190.8 1760.0 1197.1 1761.0 1195.5 1762.0 1194.6 1763.0 1193.9 1764.0 1193.5 1765.0 1194.3 1766.0 1192.6 1767.0 1192.1 1768.0 1191.6 1769.0 1194.2 1770.0 1192.4 1771.0 1196.2 1772.0 1189.6 1773.0 1195.5 1774.0 1195.5 1775.0 1197.1 1776.0 1193.8 1777.0 1191.1 1778.0 1192.4 1779.0 1197.0 1780.0 1193.8 1781.0 1193.6 1782.0 1193.3 1783.0 1194.5 1784.0 1194.1 1785.0 1191.2 1786.0 1193.4 1787.0 1197.0 1788.0 1198.0 1789.0 1194.5 1790.0 1193.7 1791.0 1197.9 1792.0 1194.5 1793.0 1192.3 1794.0 1194.7 1795.0 1196.6 1796.0 1198.6 1797.0 1194.0 1798.0 1196.3 1799.0 1194.4 1800.0 1197.8 1801.0 1195.8 1802.0 1195.9 1803.0 1193.1 1804.0 1194.6 1805.0 1194.7 1806.0 1187.4 1807.0 1197.4 1808.0 1195.5 1809.0 1195.0 1810.0 1194.7 1811.0 1195.6 1812.0 1196.2 1813.0 1192.7 1814.0 1196.0 1815.0 1196.0 1816.0 1195.8 1817.0 1192.4 1818.0 1195.5 1819.0 1193.0 1820.0 1196.6 1821.0 1198.8 1822.0 1197.9 1823.0 1195.2 1824.0 1194.8 1825.0 1194.7 1826.0 1196.8 1827.0 1194.6 1828.0 1194.9 1829.0 1190.5 1830.0 1194.2 1831.0 1194.4 1832.0 1195.0 1833.0 1198.9 1834.0 1193.2 1835.0 1193.3 1836.0 1197.6 1837.0 1194.1 1838.0 1196.0 1839.0 1196.7 1840.0 1196.4 1841.0 1194.7 1842.0 1198.5 1843.0 1199.8 1844.0 1194.2 1845.0 1195.9 1846.0 1198.6 1847.0 1196.0 1848.0 1194.3 1848.4 1195.6 1849.0 1198.4 1850.0 1194.3 1851.0 1197.1 1852.0 1197.4 1853.0 1195.1 1854.0 1197.9 1855.0 1198.1 1856.0 1198.8 1857.0 1198.7 1858.0 1193.3 1859.0 1198.7 1860.0 1198.0 1861.0 1198.9 1862.0 1194.8 1863.0 1198.7 1864.0 1197.6 1865.0 1194.2 1866.0 1199.6 1867.0 1195.0 1868.0 1194.5 1869.0 1197.7 1870.0 1195.5 1871.0 1197.6 1872.0 1196.3 1873.0 1197.5 1874.0 1198.7 1875.0 1196.8 1876.0 1198.8 1877.0 1198.8 1878.0 1195.1 1879.0 1198.8 1880.0 1198.3 1881.0 1197.3 1882.0 1199.5 1883.0 1200.7 1884.0 1198.7 1885.0 1193.7 1886.0 1198.0 1887.0 1196.7 1888.0 1196.5 1889.0 1197.8 1890.0 1196.4 1891.0 1200.7 1892.0 1197.7 1893.0 1197.2 1894.0 1198.9 1895.0 1198.9 1896.0 1199.8 1897.0 1198.6 1898.0 1197.1 1899.0 1197.5 1900.0 1192.4 1901.0 1193.9 1902.0 1199.5 1903.0 1196.5 1904.0 1201.3 1905.0 1201.3 1906.0 1194.5 1907.0 1198.0 1908.0 1203.7 1909.0 1195.5 1910.0 1198.2 1911.0 1196.8 1912.0 1196.8 1913.0 1196.7 1914.0 1197.3 1915.0 1199.1 1916.0 1195.6 1917.0 1198.5 1918.0 1195.8 1919.0 1198.6 1920.0 1198.1 1921.0 1195.7 1922.0 1197.7 1923.0 1195.8 1924.0 1195.5 1925.0 1200.0 1926.0 1193.4 1927.0 1198.7 1928.0 1199.0 1929.0 1196.1 1930.0 1199.9 1931.0 1199.5 1932.0 1194.6 1933.0 1198.7 1934.0 1198.5 1935.0 1195.9 1936.0 1198.8 1937.0 1199.2 1938.0 1195.9 1939.0 1193.1 1940.0 1198.4 1941.0 1195.9 1942.0 1193.7 1943.0 1196.7 1944.0 1192.2 1945.0 1196.8 1946.0 1200.9 1947.0 1191.2 1948.0 1198.6 1949.0 1195.5 1950.0 1196.6 1951.0 1195.5 1952.0 1199.0 1952.6 1197.5 1953.0 1195.8 1954.0 1194.6 1955.0 1196.6 1956.0 1200.1 1957.0 1194.8 1958.0 1198.5 1959.0 1198.3 1960.0 1193.1 1961.0 1200.0 1962.0 1197.4 1963.0 1202.5 1964.0 1201.4 1965.0 1197.0 1966.0 1197.2 1967.0 1195.3 1968.0 1194.5 1969.0 1199.3 1970.0 1197.0 1971.0 1196.6 1972.0 1197.2 1973.0 1199.1 1974.0 1199.7 1975.0 1197.5 1976.0 1197.1 1977.0 1197.8 1978.0 1202.2 1979.0 1192.9 1980.0 1194.9 1981.0 1198.6 1982.0 1197.9 1983.0 1200.3 1984.0 1200.5 1985.0 1202.0 1986.0 1195.7 1987.0 1198.9 1988.0 1197.0 1989.0 1199.7 1990.0 1198.0 1991.0 1199.5 1992.0 1195.9 1993.0 1197.9 1994.0 1196.4 1995.0 1197.0 1996.0 1196.5 1997.0 1195.2 1998.0 1200.1 1999.0 1198.2 2000.0 1200.0 2001.0 1195.3 2002.0 1193.2 2003.0 1196.1 2004.0 1197.2 2005.0 1199.3 2006.0 1199.9 2007.0 1200.3 2008.0 1201.0 2009.0 1199.2 2010.0 1197.8 2011.0 1195.8 2012.0 1199.1 2013.0 1196.4 2014.0 1195.7 2015.0 1198.9 2016.0 1198.1 2017.0 1199.5 2018.0 1195.9 2019.0 1200.2 2020.0 1198.4 2021.0 1197.2 2022.0 1195.8 2023.0 1195.1 2024.0 1194.5 2025.0 1200.7 2026.0 1194.4 2027.0 1199.0 2028.0 1197.0 2029.0 1196.3 2030.0 1196.5 2031.0 1197.3 2032.0 1199.6 2033.0 1198.8 2034.0 1197.6 2035.0 1194.5 2036.0 1193.5 2037.0 1201.8 2038.0 1195.3 2039.0 1194.0 2040.0 1200.1 2041.0 1194.2 2042.0 1199.2 2043.0 1199.7 2044.0 1198.1 2045.0 1199.7 2046.0 1194.4 2047.0 1194.8 2048.0 1197.1 2049.0 1197.5 2050.0 1197.4 2051.0 1198.6 2052.0 1195.9 2053.0 1192.7 2054.0 1198.5 2055.0 1197.0 2056.0 1199.4 2057.0 1202.2 2058.0 1197.7 2059.0 1198.9 2060.0 1195.5 2061.0 1199.6 2062.0 1198.3 2063.0 1198.1 2064.0 1199.6 2065.0 1195.0 2066.0 1198.8 2067.0 1198.6 2068.0 1201.1 2069.0 1193.5 2070.0 1197.3 2071.0 1202.5 2072.0 1196.6 2073.0 1196.6 2074.0 1201.6 2075.0 1203.2 2076.0 1197.8 2077.0 1195.9" fill="none" stroke="#0000FF" stroke-width="6.4" stroke-linejoin="round" stroke-linecap="round"/>
</g>
<line x1="335.1" y1="1237.0" x2="335.1" y2="1392" stroke="#000" stroke-width="4.6"/>
<line x1="766.0" y1="1261.0" x2="766.0" y2="1392" stroke="#000" stroke-width="4.6"/>
<line x1="836.8" y1="1324.6" x2="836.8" y2="1392" stroke="#000" stroke-width="4.6"/>
<line x1="664.0" y1="1387.0" x2="664.0" y2="1392" stroke="#000" stroke-width="4.6"/>
<line x1="1004.0" y1="1384.0" x2="1004.0" y2="1392" stroke="#000" stroke-width="4.6"/>
<line x1="1021.7" y1="1388.0" x2="1021.7" y2="1392" stroke="#000" stroke-width="4.6"/>
<line x1="1283.6" y1="1376.0" x2="1283.6" y2="1392" stroke="#000" stroke-width="4.6"/>
<line x1="1359.5" y1="1374.5" x2="1359.5" y2="1392" stroke="#000" stroke-width="4.6"/>
<line x1="1364.3" y1="1378.0" x2="1364.3" y2="1392" stroke="#000" stroke-width="4.6"/>
<line x1="1405.9" y1="1381.5" x2="1405.9" y2="1392" stroke="#000" stroke-width="4.6"/>
<line x1="1594.8" y1="1382.0" x2="1594.8" y2="1392" stroke="#000" stroke-width="4.6"/>
<line x1="1598.4" y1="1372.3" x2="1598.4" y2="1392" stroke="#000" stroke-width="4.6"/>
<line x1="1638.1" y1="1386.4" x2="1638.1" y2="1392" stroke="#000" stroke-width="4.6"/>
<line x1="1749.8" y1="1387.3" x2="1749.8" y2="1392" stroke="#000" stroke-width="4.6"/>
<line x1="1966.0" y1="1389.0" x2="1966.0" y2="1392" stroke="#000" stroke-width="4.6"/>
<line x1="2031.0" y1="1385.0" x2="2031.0" y2="1392" stroke="#000" stroke-width="4.6"/>
<line x1="334.6" y1="437.0" x2="334.6" y2="1179.0" stroke="#000" stroke-width="4.2" stroke-dasharray="5 14.3"/>
<line x1="765.0" y1="400.5" x2="765.0" y2="1190.0" stroke="#000" stroke-width="4.2" stroke-dasharray="16.5 15.8"/>
<line x1="919.5" y1="462.0" x2="919.5" y2="1200.0" stroke="#000" stroke-width="4.2" stroke-dasharray="5 14.4"/>
<line x1="999.9" y1="422.0" x2="999.9" y2="1164.0" stroke="#000" stroke-width="3.6" stroke-dasharray="3.4 3.8"/>
<line x1="1087.5" y1="463.7" x2="1087.5" y2="1221.5" stroke="#000" stroke-width="4.2" stroke-dasharray="16.2 16.1"/>
<line x1="1250.0" y1="481.0" x2="1250.0" y2="1208.5" stroke="#000" stroke-width="4.2" stroke-dasharray="16.4 15.9"/>
<line x1="1359.4" y1="452.0" x2="1359.4" y2="1193.0" stroke="#000" stroke-width="4.2" stroke-dasharray="5 14.35"/>
<text transform="translate(334.0 422.5) scale(1.000 0.900)" font-size="54.0" text-anchor="middle" >♥</text>
<text transform="translate(760.0 365.5) scale(1.000 0.900)" font-size="54.0" text-anchor="middle" >♥</text>
<text x="762.0" y="386.5" font-size="41.0" text-anchor="middle" >●</text>
<text transform="translate(918.4 442.3) scale(1.000 0.900)" font-size="54.0" text-anchor="middle" >♥</text>
<text transform="translate(995.4 350.0) scale(1.000 0.900)" font-size="54.0" text-anchor="middle" >♥</text>
<text transform="translate(996.0 378.5) scale(1.200 1.000)" font-size="44.0" text-anchor="middle" >♦</text>
<text x="996.4" y="400.5" font-size="40.0" text-anchor="middle" >●</text>
<text x="1086.6" y="451.3" font-size="41.0" text-anchor="middle" >●</text>
<text x="1198.5" y="480.5" font-size="48.0" text-anchor="middle" >♣</text>
<text x="1249.0" y="442.3" font-size="41.0" text-anchor="middle" >●</text>
<text transform="translate(1355.0 434.5) scale(1.000 0.900)" font-size="54.0" text-anchor="middle" >♥</text>
<rect x="125.5" y="31" width="1952" height="1361.5" fill="none" stroke="#000" stroke-width="4.6"/>
<line x1="240.0" y1="1366.5" x2="240.0" y2="1392" stroke="#000" stroke-width="4.6"/>
<text transform="translate(239.2 1486.2) scale(1 1.022)" font-size="84" text-anchor="middle">10</text>
<line x1="469.7" y1="1366.5" x2="469.7" y2="1392" stroke="#000" stroke-width="4.6"/>
<text transform="translate(468.9 1486.2) scale(1 1.022)" font-size="84" text-anchor="middle">20</text>
<line x1="699.4" y1="1366.5" x2="699.4" y2="1392" stroke="#000" stroke-width="4.6"/>
<text transform="translate(698.6 1486.2) scale(1 1.022)" font-size="84" text-anchor="middle">30</text>
<line x1="929.1" y1="1366.5" x2="929.1" y2="1392" stroke="#000" stroke-width="4.6"/>
<text transform="translate(928.3 1486.2) scale(1 1.022)" font-size="84" text-anchor="middle">40</text>
<line x1="1158.8" y1="1366.5" x2="1158.8" y2="1392" stroke="#000" stroke-width="4.6"/>
<text transform="translate(1158.0 1486.2) scale(1 1.022)" font-size="84" text-anchor="middle">50</text>
<line x1="1388.5" y1="1366.5" x2="1388.5" y2="1392" stroke="#000" stroke-width="4.6"/>
<text transform="translate(1387.7 1486.2) scale(1 1.022)" font-size="84" text-anchor="middle">60</text>
<line x1="1618.2" y1="1366.5" x2="1618.2" y2="1392" stroke="#000" stroke-width="4.6"/>
<text transform="translate(1617.4 1486.2) scale(1 1.022)" font-size="84" text-anchor="middle">70</text>
<line x1="1847.9" y1="1366.5" x2="1847.9" y2="1392" stroke="#000" stroke-width="4.6"/>
<text transform="translate(1847.1 1486.2) scale(1 1.022)" font-size="84" text-anchor="middle">80</text>
<line x1="2077.6" y1="1366.5" x2="2077.6" y2="1392" stroke="#000" stroke-width="4.6"/>
<text transform="translate(2076.8 1486.2) scale(1 1.022)" font-size="84" text-anchor="middle">90</text>
<line x1="354.9" y1="1380" x2="354.9" y2="1392" stroke="#000" stroke-width="4.6"/>
<line x1="584.5" y1="1380" x2="584.5" y2="1392" stroke="#000" stroke-width="4.6"/>
<line x1="814.2" y1="1380" x2="814.2" y2="1392" stroke="#000" stroke-width="4.6"/>
<line x1="1043.9" y1="1380" x2="1043.9" y2="1392" stroke="#000" stroke-width="4.6"/>
<line x1="1273.6" y1="1380" x2="1273.6" y2="1392" stroke="#000" stroke-width="4.6"/>
<line x1="1503.3" y1="1380" x2="1503.3" y2="1392" stroke="#000" stroke-width="4.6"/>
<line x1="1733.0" y1="1380" x2="1733.0" y2="1392" stroke="#000" stroke-width="4.6"/>
<line x1="1962.8" y1="1380" x2="1962.8" y2="1392" stroke="#000" stroke-width="4.6"/>
<text transform="translate(913.0 1566.5) scale(1 1.025)" font-size="84">2<tspan style="font-family:'Liberation Serif',serif">θ</tspan>(Degree)</text>
<text transform="translate(84.0 923.0) rotate(-90) scale(1 1.025)" font-size="84">Intensity(a.u.)</text>
<g font-weight="bold" font-size="50">
<text x="151" y="78.5" font-size="40" text-anchor="middle">●</text>
<text transform="translate(164.0 80.5) scale(1 1.040)" >MgCO<tspan dy="12.5" font-size="34">3</tspan></text>
<text transform="translate(437 80.5) scale(1.1 1)" font-size="46" text-anchor="middle" font-weight="normal">♦</text>
<text transform="translate(456.0 80.5) scale(1 1.040)" >MgO</text>
<text x="679.5" y="82.7" font-size="52" text-anchor="middle" font-weight="normal">♥</text>
<text transform="translate(699.5 82.7) scale(1 1.040)" >MoS<tspan dy="13.5" font-size="35">2</tspan></text>
<text x="950" y="82" font-size="50" text-anchor="middle" font-weight="normal">♣</text>
<text transform="translate(970.0 82.7) scale(1 1.040)" >Ni</text>
</g>
<line x1="1294.0" y1="119.5" x2="1420.0" y2="119.5" stroke="#F2A060" stroke-width="4.6" stroke-linecap="round"/>
<text transform="translate(1453.0 142.0) scale(1 1.040)" font-size="63">12% K–Ni–MoS<tspan dy="15.9" font-size="39">2</tspan><tspan dy="-15.9">/MgO</tspan></text>
<line x1="1292.0" y1="273.0" x2="1419.0" y2="273.0" stroke="#6CAA1C" stroke-width="5.8" stroke-linecap="round"/>
<text transform="translate(1455.0 296.0) scale(1 1.040)" font-size="63">11% K–Ni–MoS<tspan dy="15.9" font-size="39">2</tspan><tspan dy="-15.9">/MgO</tspan></text>
<line x1="1294.0" y1="455.0" x2="1420.0" y2="455.0" stroke="#6F680B" stroke-width="5.0" stroke-linecap="round"/>
<text transform="translate(1452.0 476.5) scale(1 1.040)" font-size="63">10% K–Ni–MoS<tspan dy="15.9" font-size="39">2</tspan><tspan dy="-15.9">/MgO</tspan></text>
<line x1="1327.0" y1="628.5" x2="1453.5" y2="628.5" stroke="#D966F8" stroke-width="5.0" stroke-linecap="round"/>
<text transform="translate(1484.0 651.2) scale(1 1.040)" font-size="63">9% K–Ni–MoS<tspan dy="15.9" font-size="39">2</tspan><tspan dy="-15.9">/MgO</tspan></text>
<line x1="1331.6" y1="805.0" x2="1457.3" y2="805.0" stroke="#2AFAFA" stroke-width="5.8" stroke-linecap="round"/>
<text transform="translate(1487.0 826.5) scale(1 1.040)" font-size="63">6% K–Ni–MoS<tspan dy="15.9" font-size="39">2</tspan><tspan dy="-15.9">/MgO</tspan></text>
<line x1="1333.0" y1="955.0" x2="1458.0" y2="955.0" stroke="#078787" stroke-width="5.2" stroke-linecap="round"/>
<text transform="translate(1487.0 976.5) scale(1 1.040)" font-size="63">2% K–Ni–MoS<tspan dy="15.9" font-size="39">2</tspan><tspan dy="-15.9">/MgO</tspan></text>
<line x1="1513.0" y1="1137.6" x2="1655.7" y2="1137.6" stroke="#0000FF" stroke-width="5.6" stroke-linecap="round"/>
<text transform="translate(1670.5 1156.4) scale(1 1.040)" font-size="63.6">Ni–MoS<tspan dy="15.9" font-size="39">2</tspan><tspan dy="-15.9">/MgO</tspan></text>
<text transform="translate(1923.0 1289.2) scale(1 1.040)" font-size="63">MoS<tspan dy="15.9" font-size="39">2</tspan></text>
</svg></body></html>
